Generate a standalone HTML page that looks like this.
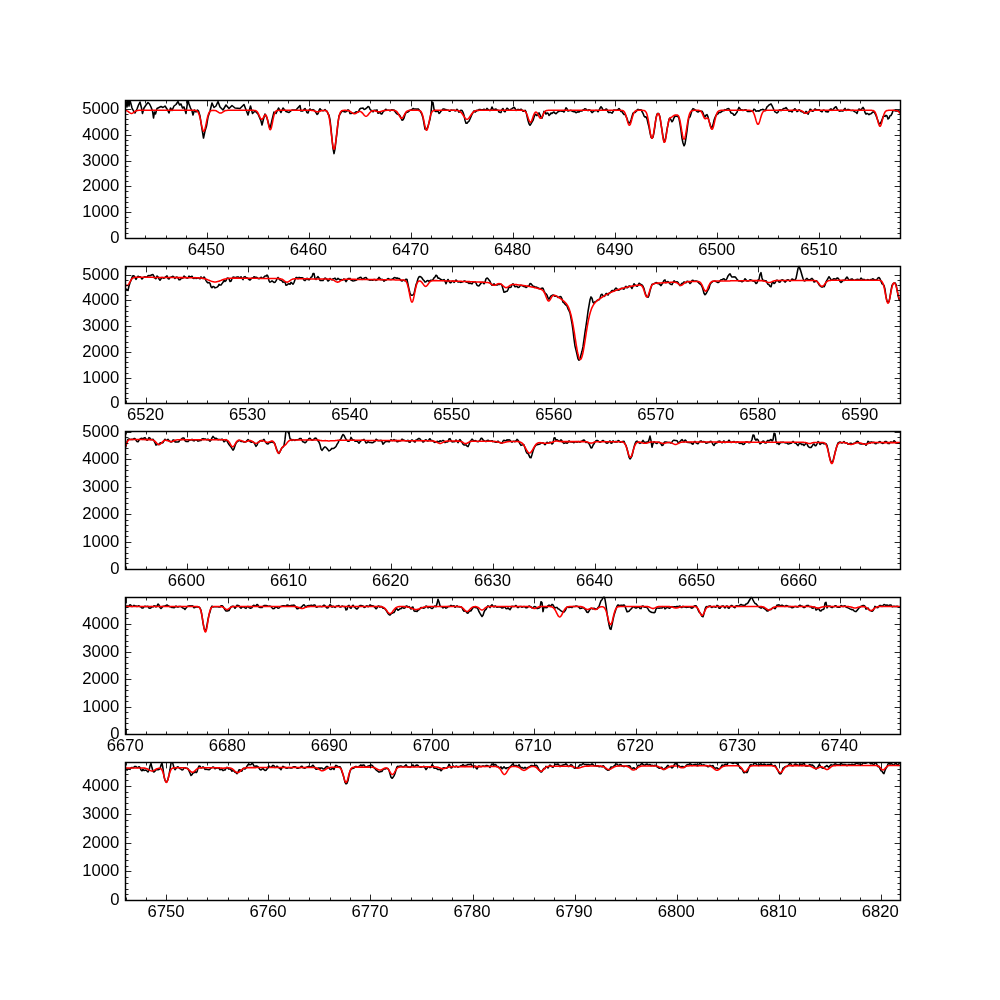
<!DOCTYPE html>
<html><head><meta charset="utf-8"><title>spectrum</title>
<style>html,body{margin:0;padding:0;background:#fff}body{width:1000px;height:1000px;position:relative;overflow:hidden;font-family:"Liberation Sans",sans-serif}</style>
</head><body>
<svg width="1000" height="1000" viewBox="0 0 1000 1000" style="position:absolute;left:0;top:0;will-change:transform">
<defs>
<clipPath id="c0"><rect x="125.00" y="100.00" width="775.00" height="137.93"/></clipPath>
<clipPath id="c1"><rect x="125.00" y="265.52" width="775.00" height="137.93"/></clipPath>
<clipPath id="c2"><rect x="125.00" y="431.03" width="775.00" height="137.93"/></clipPath>
<clipPath id="c3"><rect x="125.00" y="596.55" width="775.00" height="137.93"/></clipPath>
<clipPath id="c4"><rect x="125.00" y="762.07" width="775.00" height="137.93"/></clipPath>
</defs>
<g clip-path="url(#c0)" fill="none" stroke-linejoin="round" stroke-width="1.55">
<path d="M125.0 108.0 L126.0 101.0 L127.0 107.0 L128.0 100.0 L129.0 106.0 L130.0 100.5 L131.0 104.0 L132.0 108.0 L133.5 111.0 L135.0 113.0 L137.0 109.0 L138.5 105.0 L140.0 102.0 L141.5 108.0 L142.5 113.5 L144.0 108.0 L146.0 105.0 L148.0 102.5 L149.5 104.0 L151.0 107.0 L152.5 111.0 L153.5 118.0 L154.5 112.0 L155.5 114.0 L157.0 108.5 L159.0 107.5 L161.0 106.5 L163.0 107.5 L165.0 106.0 L167.0 109.0 L169.0 113.0 L170.5 108.0 L172.0 110.5 L174.0 106.0 L176.0 104.5 L178.0 101.5 L179.5 105.0 L181.0 104.0 L182.5 108.0 L184.0 107.0 L186.0 113.5 L187.0 106.0 L188.0 100.0 L189.0 104.0 L190.5 108.0 L192.0 111.0 L193.0 115.0 L194.5 110.0 L196.0 112.0 L197.5 110.0 L198.5 111.0 L200.0 116.0 L201.5 126.0 L203.5 138.0 L205.0 131.0 L206.5 126.0 L208.0 117.0 L210.0 111.0 L212.0 103.0 L214.0 107.5 L216.0 106.0 L218.0 101.5 L220.0 107.0 L223.0 110.0 L226.0 105.0 L229.0 108.5 L232.0 105.5 L235.0 108.0 L240.0 108.5 L244.0 104.5 L248.0 115.0 L250.5 106.0 L252.5 113.5 L255.0 111.0 L258.0 114.0 L261.0 121.0 L262.0 125.0 L263.5 119.0 L265.0 114.0 L267.0 118.0 L270.0 129.0 L272.0 120.0 L274.0 112.0 L276.0 113.5 L278.5 108.0 L281.0 112.5 L283.0 108.0 L286.0 111.5 L289.0 112.5 L292.0 110.0 L296.0 110.0 L300.0 105.5 L301.0 111.1 L302.0 110.9 L303.0 110.9 L304.0 109.4 L305.0 108.5 L306.0 110.3 L307.0 112.6 L308.0 113.0 L309.0 110.3 L310.0 108.9 L311.0 110.1 L312.0 110.0 L313.0 109.6 L314.0 110.1 L315.0 111.3 L316.0 112.6 L317.0 114.5 L318.0 113.7 L319.0 110.5 L320.0 108.7 L321.0 109.9 L322.0 110.4 L323.0 110.7 L324.0 110.5 L325.0 109.6 L326.0 110.8 L327.0 111.2 L328.0 113.8 L329.0 115.3 L330.0 119.6 L331.0 128.5 L332.0 139.0 L333.0 148.3 L334.0 153.6 L335.0 148.9 L336.0 140.4 L337.0 132.4 L338.0 122.8 L339.0 116.0 L340.0 114.2 L341.0 112.5 L342.0 110.9 L343.0 111.4 L344.0 111.6 L345.0 111.9 L346.0 111.7 L347.0 111.0 L348.0 109.8 L349.0 110.5 L350.0 113.5 L351.0 113.5 L352.0 113.3 L353.0 113.3 L354.0 113.3 L355.0 112.6 L356.0 111.8 L357.0 112.1 L358.0 112.2 L359.0 110.5 L360.0 108.7 L361.0 108.3 L362.0 108.2 L363.0 108.0 L364.0 109.4 L365.0 109.2 L366.0 108.5 L367.0 107.7 L368.0 106.5 L369.0 106.9 L370.0 109.3 L371.0 110.3 L372.0 110.6 L373.0 111.9 L374.0 110.2 L375.0 110.2 L376.0 110.2 L377.0 109.9 L378.0 113.3 L379.0 113.1 L380.0 112.0 L381.0 113.9 L382.0 113.9 L383.0 112.0 L384.0 110.9 L385.0 110.0 L386.0 109.2 L387.0 110.2 L388.0 110.2 L389.0 110.2 L390.0 110.9 L391.0 110.1 L392.0 109.8 L393.0 110.1 L394.0 110.0 L395.0 111.5 L396.0 112.9 L397.0 113.8 L398.0 114.4 L399.0 114.6 L400.0 115.8 L401.0 117.9 L402.0 120.2 L403.0 119.8 L404.0 118.0 L405.0 114.7 L406.0 112.6 L407.0 112.3 L408.0 112.0 L409.0 111.1 L410.0 110.2 L411.0 110.1 L412.0 109.5 L413.0 108.5 L414.0 109.0 L415.0 109.1 L416.0 109.0 L417.0 109.3 L418.0 108.9 L419.0 109.6 L420.0 110.9 L421.0 112.5 L422.0 114.8 L423.0 117.9 L424.0 123.6 L425.0 129.1 L426.0 129.4 L427.0 128.6 L428.0 126.4 L429.0 122.7 L430.0 119.3 L431.0 112.6 L432.0 101.9 L433.0 102.7 L434.0 109.2 L435.0 111.0 L436.0 111.6 L437.0 111.2 L438.0 111.3 L439.0 113.5 L440.0 112.6 L441.0 111.0 L442.0 110.3 L443.0 109.0 L444.0 109.1 L445.0 109.4 L446.0 109.5 L447.0 110.3 L448.0 110.0 L449.0 110.9 L450.0 111.2 L451.0 110.1 L452.0 110.3 L453.0 110.2 L454.0 110.2 L455.0 110.9 L456.0 110.6 L457.0 109.3 L458.0 110.4 L459.0 112.3 L460.0 111.1 L461.0 110.2 L462.0 110.4 L463.0 112.3 L464.0 115.2 L465.0 120.2 L466.0 123.3 L467.0 123.3 L468.0 122.0 L469.0 121.2 L470.0 119.0 L471.0 116.6 L472.0 114.3 L473.0 112.7 L474.0 110.8 L475.0 112.1 L476.0 111.4 L477.0 110.3 L478.0 110.6 L479.0 109.5 L480.0 109.4 L481.0 109.9 L482.0 109.7 L483.0 109.7 L484.0 109.3 L485.0 109.7 L486.0 109.9 L487.0 108.4 L488.0 109.5 L489.0 110.2 L490.0 110.6 L491.0 109.5 L492.0 107.0 L493.0 109.1 L494.0 110.0 L495.0 109.2 L496.0 109.1 L497.0 109.9 L498.0 110.2 L499.0 112.0 L500.0 112.4 L501.0 112.5 L502.0 109.6 L503.0 108.6 L504.0 111.1 L505.0 111.8 L506.0 109.8 L507.0 108.2 L508.0 108.9 L509.0 110.2 L510.0 110.0 L511.0 109.2 L512.0 108.6 L513.0 107.9 L514.0 107.4 L515.0 108.4 L516.0 110.4 L517.0 110.1 L518.0 109.4 L519.0 109.6 L520.0 109.7 L521.0 109.2 L522.0 110.1 L523.0 111.1 L524.0 111.1 L525.0 110.3 L526.0 111.7 L527.0 116.1 L528.0 120.6 L529.0 123.8 L530.0 125.3 L531.0 123.9 L532.0 122.0 L533.0 120.4 L534.0 117.3 L535.0 114.3 L536.0 114.8 L537.0 115.6 L538.0 114.1 L539.0 112.9 L540.0 114.8 L541.0 117.1 L542.0 118.1 L543.0 115.2 L544.0 111.4 L545.0 112.1 L546.0 114.1 L547.0 112.9 L548.0 113.3 L549.0 115.5 L550.0 114.5 L551.0 113.0 L552.0 113.5 L553.0 112.5 L554.0 112.0 L555.0 113.3 L556.0 113.7 L557.0 112.7 L558.0 111.7 L559.0 111.4 L560.0 110.9 L561.0 110.9 L562.0 111.2 L563.0 111.3 L564.0 112.0 L565.0 110.2 L566.0 107.7 L567.0 108.8 L568.0 111.1 L569.0 110.7 L570.0 110.6 L571.0 110.3 L572.0 111.1 L573.0 111.5 L574.0 111.8 L575.0 111.8 L576.0 112.7 L577.0 112.3 L578.0 111.7 L579.0 112.1 L580.0 110.9 L581.0 110.8 L582.0 111.0 L583.0 109.9 L584.0 109.4 L585.0 108.7 L586.0 109.1 L587.0 110.3 L588.0 110.6 L589.0 109.7 L590.0 110.1 L591.0 111.3 L592.0 112.6 L593.0 111.9 L594.0 110.8 L595.0 110.8 L596.0 110.4 L597.0 110.5 L598.0 111.8 L599.0 110.4 L600.0 108.2 L601.0 106.7 L602.0 107.9 L603.0 110.1 L604.0 110.0 L605.0 109.9 L606.0 109.0 L607.0 109.5 L608.0 111.9 L609.0 112.7 L610.0 112.1 L611.0 112.6 L612.0 113.2 L613.0 111.8 L614.0 109.9 L615.0 110.0 L616.0 110.4 L617.0 109.9 L618.0 109.6 L619.0 108.5 L620.0 109.8 L621.0 111.5 L622.0 111.5 L623.0 113.3 L624.0 114.5 L625.0 114.4 L626.0 116.1 L627.0 118.6 L628.0 121.8 L629.0 123.2 L630.0 122.6 L631.0 120.0 L632.0 116.5 L633.0 113.2 L634.0 112.6 L635.0 112.5 L636.0 111.4 L637.0 110.2 L638.0 109.3 L639.0 110.0 L640.0 109.7 L641.0 109.7 L642.0 111.5 L643.0 113.3 L644.0 115.9 L645.0 117.1 L646.0 116.8 L647.0 118.9 L648.0 123.2 L649.0 127.1 L650.0 132.7 L651.0 137.2 L652.0 138.3 L653.0 137.0 L654.0 132.4 L655.0 125.7 L656.0 117.9 L657.0 114.1 L658.0 113.4 L659.0 114.0 L660.0 117.3 L661.0 124.1 L662.0 130.2 L663.0 136.6 L664.0 141.8 L665.0 141.2 L666.0 135.9 L667.0 129.3 L668.0 124.6 L669.0 119.3 L670.0 118.0 L671.0 119.9 L672.0 121.8 L673.0 120.6 L674.0 117.8 L675.0 116.3 L676.0 116.0 L677.0 116.4 L678.0 116.1 L679.0 118.5 L680.0 123.9 L681.0 130.4 L682.0 138.3 L683.0 143.0 L684.0 145.8 L685.0 143.8 L686.0 137.8 L687.0 130.9 L688.0 122.4 L689.0 117.2 L690.0 117.0 L691.0 113.7 L692.0 110.2 L693.0 108.6 L694.0 109.1 L695.0 110.0 L696.0 110.5 L697.0 111.6 L698.0 112.0 L699.0 111.3 L700.0 111.0 L701.0 111.2 L702.0 111.2 L703.0 113.0 L704.0 115.7 L705.0 117.0 L706.0 115.2 L707.0 114.6 L708.0 116.9 L709.0 120.9 L710.0 124.2 L711.0 127.8 L712.0 127.4 L713.0 124.8 L714.0 120.3 L715.0 117.6 L716.0 115.4 L717.0 114.4 L718.0 113.8 L719.0 112.2 L720.0 112.6 L721.0 112.0 L722.0 111.3 L723.0 110.5 L724.0 110.8 L725.0 109.6 L726.0 110.0 L727.0 109.0 L728.0 108.6 L729.0 108.8 L730.0 110.8 L731.0 112.9 L732.0 113.2 L733.0 113.7 L734.0 115.2 L735.0 114.9 L736.0 113.5 L737.0 112.3 L738.0 109.6 L739.0 107.4 L740.0 108.8 L741.0 110.2 L742.0 109.8 L743.0 110.5 L744.0 110.1 L745.0 109.7 L746.0 109.7 L747.0 111.0 L748.0 111.6 L749.0 111.5 L750.0 111.5 L751.0 111.3 L752.0 111.0 L753.0 110.9 L754.0 109.1 L755.0 109.6 L756.0 111.3 L757.0 111.0 L758.0 110.8 L759.0 111.2 L760.0 110.5 L761.0 109.7 L762.0 109.7 L763.0 109.3 L764.0 109.9 L765.0 110.8 L766.0 109.3 L767.0 106.9 L768.0 106.1 L769.0 104.9 L770.0 104.6 L771.0 103.9 L772.0 105.6 L773.0 107.8 L774.0 110.1 L775.0 111.8 L776.0 112.4 L777.0 113.0 L778.0 112.1 L779.0 110.1 L780.0 109.7 L781.0 110.6 L782.0 109.8 L783.0 109.0 L784.0 108.4 L785.0 108.3 L786.0 107.5 L787.0 108.8 L788.0 110.0 L789.0 111.4 L790.0 110.7 L791.0 111.2 L792.0 112.0 L793.0 110.3 L794.0 109.5 L795.0 108.7 L796.0 110.0 L797.0 111.6 L798.0 111.0 L799.0 109.7 L800.0 110.3 L801.0 111.4 L802.0 111.7 L803.0 112.0 L804.0 113.1 L805.0 112.9 L806.0 111.4 L807.0 112.1 L808.0 114.3 L809.0 112.2 L810.0 109.3 L811.0 109.6 L812.0 111.1 L813.0 111.1 L814.0 110.3 L815.0 108.9 L816.0 109.5 L817.0 109.7 L818.0 109.9 L819.0 109.7 L820.0 110.4 L821.0 111.4 L822.0 111.9 L823.0 110.3 L824.0 110.1 L825.0 110.6 L826.0 111.8 L827.0 111.7 L828.0 112.0 L829.0 110.6 L830.0 109.5 L831.0 108.8 L832.0 110.4 L833.0 109.6 L834.0 108.4 L835.0 107.4 L836.0 106.7 L837.0 108.7 L838.0 110.1 L839.0 110.8 L840.0 111.3 L841.0 110.3 L842.0 111.0 L843.0 111.0 L844.0 109.5 L845.0 108.4 L846.0 110.4 L847.0 110.1 L848.0 109.4 L849.0 109.5 L850.0 110.3 L851.0 110.5 L852.0 110.5 L853.0 110.2 L854.0 111.3 L855.0 111.9 L856.0 112.3 L857.0 113.4 L858.0 110.6 L859.0 109.0 L860.0 109.4 L861.0 110.3 L862.0 108.6 L863.0 107.4 L864.0 109.0 L865.0 112.5 L866.0 114.2 L867.0 113.4 L868.0 113.9 L869.0 114.7 L870.0 114.0 L871.0 113.8 L872.0 112.8 L873.0 111.9 L874.0 111.8 L875.0 113.4 L876.0 115.5 L877.0 118.2 L878.0 120.9 L879.0 123.6 L880.0 123.9 L881.0 122.2 L882.0 119.9 L883.0 116.9 L884.0 116.0 L885.0 116.4 L886.0 115.3 L887.0 115.9 L888.0 119.0 L889.0 118.1 L890.0 115.7 L891.0 115.5 L892.0 113.7 L893.0 110.5 L894.0 110.5 L895.0 110.7 L896.0 111.0 L897.0 110.9 L898.0 110.8 L899.0 111.2 L900.0 111.0" stroke="#000"/>
<path d="M125.0 110.4 L125.5 110.4 L126.0 110.5 L126.5 110.7 L127.0 110.9 L127.5 111.1 L128.0 111.4 L128.5 111.8 L129.0 112.2 L129.5 112.6 L130.0 112.9 L130.5 113.2 L131.0 113.4 L131.5 113.5 L132.0 113.4 L132.5 113.2 L133.0 112.9 L133.5 112.6 L134.0 112.2 L134.5 111.8 L135.0 111.4 L135.5 111.1 L136.0 110.9 L136.5 110.7 L137.0 110.5 L137.5 110.4 L138.0 110.4 L138.5 110.3 L139.0 110.3 L139.5 110.3 L140.0 110.3 L140.5 110.3 L141.0 110.3 L141.5 110.3 L142.0 110.3 L142.5 110.3 L143.0 110.3 L143.5 110.3 L144.0 110.3 L144.5 110.3 L145.0 110.3 L145.5 110.3 L146.0 110.3 L146.5 110.3 L147.0 110.3 L147.5 110.3 L148.0 110.3 L148.5 110.3 L149.0 110.3 L149.5 110.3 L150.0 110.3 L150.5 110.3 L151.0 110.3 L151.5 110.3 L152.0 110.3 L152.5 110.3 L153.0 110.3 L153.5 110.3 L154.0 110.3 L154.5 110.3 L155.0 110.3 L155.5 110.3 L156.0 110.3 L156.5 110.3 L157.0 110.3 L157.5 110.3 L158.0 110.3 L158.5 110.3 L159.0 110.3 L159.5 110.3 L160.0 110.3 L160.5 110.3 L161.0 110.3 L161.5 110.3 L162.0 110.3 L162.5 110.3 L163.0 110.3 L163.5 110.3 L164.0 110.3 L164.5 110.3 L165.0 110.3 L165.5 110.3 L166.0 110.3 L166.5 110.3 L167.0 110.3 L167.5 110.3 L168.0 110.3 L168.5 110.3 L169.0 110.3 L169.5 110.3 L170.0 110.3 L170.5 110.3 L171.0 110.3 L171.5 110.3 L172.0 110.3 L172.5 110.3 L173.0 110.3 L173.5 110.3 L174.0 110.3 L174.5 110.3 L175.0 110.3 L175.5 110.3 L176.0 110.3 L176.5 110.3 L177.0 110.3 L177.5 110.3 L178.0 110.3 L178.5 110.3 L179.0 110.3 L179.5 110.3 L180.0 110.3 L180.5 110.3 L181.0 110.3 L181.5 110.3 L182.0 110.3 L182.5 110.3 L183.0 110.3 L183.5 110.3 L184.0 110.3 L184.5 110.3 L185.0 110.3 L185.5 110.3 L186.0 110.3 L186.5 110.3 L187.0 110.3 L187.5 110.3 L188.0 110.3 L188.5 110.3 L189.0 110.3 L189.5 110.3 L190.0 110.3 L190.5 110.3 L191.0 110.3 L191.5 110.3 L192.0 110.3 L192.5 110.3 L193.0 110.3 L193.5 110.3 L194.0 110.3 L194.5 110.3 L195.0 110.4 L195.5 110.4 L196.0 110.5 L196.5 110.7 L197.0 111.0 L197.5 111.4 L198.0 112.1 L198.5 113.0 L199.0 114.2 L199.5 115.8 L200.0 117.7 L200.5 119.9 L201.0 122.3 L201.5 124.8 L202.0 127.1 L202.5 129.1 L203.0 130.5 L203.5 131.2 L204.0 131.2 L204.5 130.3 L205.0 128.8 L205.5 126.7 L206.0 124.3 L206.5 121.8 L207.0 119.4 L207.5 117.3 L208.0 115.4 L208.5 113.9 L209.0 112.8 L209.5 111.9 L210.0 111.3 L210.5 110.9 L211.0 110.7 L211.5 110.5 L212.0 110.4 L212.5 110.4 L213.0 110.3 L213.5 110.4 L214.0 110.4 L214.5 110.4 L215.0 110.5 L215.5 110.6 L216.0 110.8 L216.5 111.0 L217.0 111.3 L217.5 111.6 L218.0 111.9 L218.5 112.3 L219.0 112.6 L219.5 112.9 L220.0 113.0 L220.5 113.1 L221.0 113.0 L221.5 112.9 L222.0 112.6 L222.5 112.3 L223.0 111.9 L223.5 111.6 L224.0 111.3 L224.5 111.0 L225.0 110.8 L225.5 110.6 L226.0 110.5 L226.5 110.4 L227.0 110.4 L227.5 110.3 L228.0 110.3 L228.5 110.3 L229.0 110.3 L229.5 110.3 L230.0 110.3 L230.5 110.3 L231.0 110.3 L231.5 110.3 L232.0 110.3 L232.5 110.3 L233.0 110.3 L233.5 110.3 L234.0 110.3 L234.5 110.3 L235.0 110.3 L235.5 110.3 L236.0 110.3 L236.5 110.3 L237.0 110.3 L237.5 110.3 L238.0 110.3 L238.5 110.3 L239.0 110.3 L239.5 110.3 L240.0 110.3 L240.5 110.3 L241.0 110.3 L241.5 110.3 L242.0 110.3 L242.5 110.3 L243.0 110.3 L243.5 110.3 L244.0 110.3 L244.5 110.3 L245.0 110.3 L245.5 110.3 L246.0 110.3 L246.5 110.3 L247.0 110.3 L247.5 110.3 L248.0 110.3 L248.5 110.3 L249.0 110.3 L249.5 110.3 L250.0 110.3 L250.5 110.3 L251.0 110.3 L251.5 110.3 L252.0 110.3 L252.5 110.3 L253.0 110.3 L253.5 110.3 L254.0 110.4 L254.5 110.4 L255.0 110.5 L255.5 110.6 L256.0 110.8 L256.5 111.2 L257.0 111.6 L257.5 112.2 L258.0 113.0 L258.5 114.0 L259.0 115.1 L259.5 116.2 L260.0 117.3 L260.5 118.2 L261.0 118.9 L261.5 119.3 L262.0 119.3 L262.5 118.9 L263.0 118.2 L263.5 117.3 L264.0 116.4 L264.5 115.5 L265.0 115.0 L265.5 114.8 L266.0 115.2 L266.5 116.1 L267.0 117.7 L267.5 119.7 L268.0 122.1 L268.5 124.6 L269.0 126.9 L269.5 128.6 L270.0 129.6 L270.5 129.7 L271.0 128.9 L271.5 127.2 L272.0 124.9 L272.5 122.3 L273.0 119.7 L273.5 117.3 L274.0 115.3 L274.5 113.7 L275.0 112.5 L275.5 111.6 L276.0 111.1 L276.5 110.7 L277.0 110.5 L277.5 110.4 L278.0 110.4 L278.5 110.3 L279.0 110.3 L279.5 110.3 L280.0 110.3 L280.5 110.3 L281.0 110.3 L281.5 110.3 L282.0 110.3 L282.5 110.3 L283.0 110.3 L283.5 110.3 L284.0 110.3 L284.5 110.3 L285.0 110.3 L285.5 110.3 L286.0 110.3 L286.5 110.3 L287.0 110.3 L287.5 110.3 L288.0 110.3 L288.5 110.3 L289.0 110.3 L289.5 110.3 L290.0 110.3 L290.5 110.3 L291.0 110.3 L291.5 110.3 L292.0 110.3 L292.5 110.3 L293.0 110.3 L293.5 110.3 L294.0 110.3 L294.5 110.3 L295.0 110.3 L295.5 110.3 L296.0 110.3 L296.5 110.3 L297.0 110.3 L297.5 110.3 L298.0 110.3 L298.5 110.3 L299.0 110.3 L299.5 110.3 L300.0 110.3 L300.5 110.3 L301.0 110.3 L301.5 110.3 L302.0 110.3 L302.5 110.3 L303.0 110.3 L303.5 110.3 L304.0 110.3 L304.5 110.3 L305.0 110.3 L305.5 110.3 L306.0 110.3 L306.5 110.3 L307.0 110.3 L307.5 110.3 L308.0 110.3 L308.5 110.3 L309.0 110.3 L309.5 110.3 L310.0 110.3 L310.5 110.3 L311.0 110.3 L311.5 110.4 L312.0 110.4 L312.5 110.5 L313.0 110.6 L313.5 110.7 L314.0 110.8 L314.5 111.0 L315.0 111.2 L315.5 111.4 L316.0 111.5 L316.5 111.7 L317.0 111.8 L317.5 111.8 L318.0 111.8 L318.5 111.7 L319.0 111.5 L319.5 111.4 L320.0 111.2 L320.5 111.0 L321.0 110.8 L321.5 110.7 L322.0 110.6 L322.5 110.5 L323.0 110.4 L323.5 110.4 L324.0 110.4 L324.5 110.4 L325.0 110.4 L325.5 110.5 L326.0 110.7 L326.5 111.0 L327.0 111.5 L327.5 112.2 L328.0 113.2 L328.5 114.8 L329.0 116.8 L329.5 119.4 L330.0 122.7 L330.5 126.5 L331.0 130.7 L331.5 135.2 L332.0 139.6 L332.5 143.5 L333.0 146.6 L333.5 148.6 L334.0 149.3 L334.5 148.6 L335.0 146.6 L335.5 143.5 L336.0 139.6 L336.5 135.2 L337.0 130.7 L337.5 126.5 L338.0 122.7 L338.5 119.4 L339.0 116.8 L339.5 114.8 L340.0 113.2 L340.5 112.2 L341.0 111.5 L341.5 111.0 L342.0 110.7 L342.5 110.5 L343.0 110.4 L343.5 110.4 L344.0 110.3 L344.5 110.3 L345.0 110.3 L345.5 110.3 L346.0 110.3 L346.5 110.4 L347.0 110.4 L347.5 110.5 L348.0 110.5 L348.5 110.7 L349.0 110.8 L349.5 111.0 L350.0 111.3 L350.5 111.6 L351.0 111.9 L351.5 112.3 L352.0 112.6 L352.5 113.0 L353.0 113.3 L353.5 113.6 L354.0 113.7 L354.5 113.8 L355.0 113.7 L355.5 113.6 L356.0 113.3 L356.5 113.0 L357.0 112.7 L357.5 112.3 L358.0 112.0 L358.5 111.7 L359.0 111.5 L359.5 111.4 L360.0 111.4 L360.5 111.5 L361.0 111.8 L361.5 112.1 L362.0 112.6 L362.5 113.1 L363.0 113.7 L363.5 114.3 L364.0 115.0 L364.5 115.5 L365.0 115.9 L365.5 116.2 L366.0 116.3 L366.5 116.2 L367.0 115.9 L367.5 115.5 L368.0 114.9 L368.5 114.3 L369.0 113.7 L369.5 113.1 L370.0 112.5 L370.5 112.0 L371.0 111.5 L371.5 111.2 L372.0 111.0 L372.5 110.8 L373.0 110.7 L373.5 110.7 L374.0 110.7 L374.5 110.8 L375.0 110.9 L375.5 111.0 L376.0 111.2 L376.5 111.3 L377.0 111.5 L377.5 111.6 L378.0 111.7 L378.5 111.8 L379.0 111.8 L379.5 111.8 L380.0 111.7 L380.5 111.6 L381.0 111.5 L381.5 111.3 L382.0 111.1 L382.5 111.0 L383.0 110.8 L383.5 110.7 L384.0 110.6 L384.5 110.5 L385.0 110.5 L385.5 110.4 L386.0 110.4 L386.5 110.3 L387.0 110.3 L387.5 110.3 L388.0 110.3 L388.5 110.3 L389.0 110.3 L389.5 110.3 L390.0 110.3 L390.5 110.3 L391.0 110.3 L391.5 110.3 L392.0 110.3 L392.5 110.3 L393.0 110.3 L393.5 110.4 L394.0 110.4 L394.5 110.5 L395.0 110.6 L395.5 110.8 L396.0 111.0 L396.5 111.4 L397.0 111.9 L397.5 112.5 L398.0 113.3 L398.5 114.1 L399.0 115.1 L399.5 116.0 L400.0 116.9 L400.5 117.6 L401.0 118.1 L401.5 118.3 L402.0 118.2 L402.5 117.8 L403.0 117.2 L403.5 116.4 L404.0 115.5 L404.5 114.5 L405.0 113.6 L405.5 112.8 L406.0 112.1 L406.5 111.6 L407.0 111.2 L407.5 110.9 L408.0 110.7 L408.5 110.5 L409.0 110.4 L409.5 110.4 L410.0 110.3 L410.5 110.3 L411.0 110.3 L411.5 110.3 L412.0 110.3 L412.5 110.3 L413.0 110.3 L413.5 110.3 L414.0 110.3 L414.5 110.3 L415.0 110.3 L415.5 110.3 L416.0 110.3 L416.5 110.3 L417.0 110.3 L417.5 110.3 L418.0 110.3 L418.5 110.4 L419.0 110.4 L419.5 110.6 L420.0 110.8 L420.5 111.1 L421.0 111.6 L421.5 112.4 L422.0 113.5 L422.5 114.9 L423.0 116.8 L423.5 119.0 L424.0 121.4 L424.5 123.9 L425.0 126.3 L425.5 128.3 L426.0 129.7 L426.5 130.3 L427.0 130.0 L427.5 128.9 L428.0 127.2 L428.5 124.9 L429.0 122.4 L429.5 119.9 L430.0 117.6 L430.5 115.6 L431.0 114.0 L431.5 112.8 L432.0 111.9 L432.5 111.3 L433.0 110.9 L433.5 110.6 L434.0 110.5 L434.5 110.4 L435.0 110.3 L435.5 110.3 L436.0 110.3 L436.5 110.3 L437.0 110.3 L437.5 110.3 L438.0 110.3 L438.5 110.3 L439.0 110.3 L439.5 110.3 L440.0 110.3 L440.5 110.3 L441.0 110.3 L441.5 110.3 L442.0 110.3 L442.5 110.3 L443.0 110.3 L443.5 110.3 L444.0 110.3 L444.5 110.3 L445.0 110.3 L445.5 110.3 L446.0 110.3 L446.5 110.3 L447.0 110.3 L447.5 110.3 L448.0 110.3 L448.5 110.3 L449.0 110.3 L449.5 110.3 L450.0 110.3 L450.5 110.3 L451.0 110.3 L451.5 110.3 L452.0 110.3 L452.5 110.3 L453.0 110.3 L453.5 110.3 L454.0 110.3 L454.5 110.3 L455.0 110.3 L455.5 110.3 L456.0 110.4 L456.5 110.4 L457.0 110.5 L457.5 110.5 L458.0 110.6 L458.5 110.8 L459.0 111.0 L459.5 111.2 L460.0 111.5 L460.5 111.9 L461.0 112.4 L461.5 112.9 L462.0 113.5 L462.5 114.2 L463.0 115.0 L463.5 115.8 L464.0 116.5 L464.5 117.3 L465.0 117.9 L465.5 118.5 L466.0 118.9 L466.5 119.2 L467.0 119.3 L467.5 119.2 L468.0 118.9 L468.5 118.5 L469.0 117.9 L469.5 117.3 L470.0 116.5 L470.5 115.8 L471.0 115.0 L471.5 114.2 L472.0 113.5 L472.5 112.9 L473.0 112.4 L473.5 111.9 L474.0 111.5 L474.5 111.2 L475.0 111.0 L475.5 110.8 L476.0 110.6 L476.5 110.5 L477.0 110.5 L477.5 110.4 L478.0 110.4 L478.5 110.3 L479.0 110.3 L479.5 110.3 L480.0 110.3 L480.5 110.3 L481.0 110.3 L481.5 110.3 L482.0 110.3 L482.5 110.3 L483.0 110.3 L483.5 110.3 L484.0 110.3 L484.5 110.3 L485.0 110.3 L485.5 110.3 L486.0 110.3 L486.5 110.3 L487.0 110.3 L487.5 110.3 L488.0 110.3 L488.5 110.3 L489.0 110.3 L489.5 110.3 L490.0 110.3 L490.5 110.3 L491.0 110.3 L491.5 110.3 L492.0 110.3 L492.5 110.3 L493.0 110.3 L493.5 110.3 L494.0 110.3 L494.5 110.3 L495.0 110.3 L495.5 110.3 L496.0 110.3 L496.5 110.3 L497.0 110.3 L497.5 110.3 L498.0 110.3 L498.5 110.3 L499.0 110.3 L499.5 110.3 L500.0 110.3 L500.5 110.3 L501.0 110.3 L501.5 110.3 L502.0 110.3 L502.5 110.3 L503.0 110.3 L503.5 110.3 L504.0 110.3 L504.5 110.3 L505.0 110.3 L505.5 110.3 L506.0 110.3 L506.5 110.3 L507.0 110.3 L507.5 110.3 L508.0 110.3 L508.5 110.3 L509.0 110.3 L509.5 110.3 L510.0 110.3 L510.5 110.3 L511.0 110.3 L511.5 110.3 L512.0 110.3 L512.5 110.3 L513.0 110.3 L513.5 110.3 L514.0 110.3 L514.5 110.3 L515.0 110.3 L515.5 110.3 L516.0 110.3 L516.5 110.3 L517.0 110.3 L517.5 110.3 L518.0 110.3 L518.5 110.3 L519.0 110.3 L519.5 110.3 L520.0 110.3 L520.5 110.3 L521.0 110.3 L521.5 110.3 L522.0 110.3 L522.5 110.4 L523.0 110.4 L523.5 110.5 L524.0 110.6 L524.5 110.9 L525.0 111.3 L525.5 111.8 L526.0 112.5 L526.5 113.5 L527.0 114.7 L527.5 116.1 L528.0 117.6 L528.5 119.1 L529.0 120.4 L529.5 121.5 L530.0 122.1 L530.5 122.3 L531.0 121.9 L531.5 121.1 L532.0 119.9 L532.5 118.5 L533.0 117.0 L533.5 115.6 L534.0 114.3 L534.5 113.3 L535.0 112.6 L535.5 112.2 L536.0 112.1 L536.5 112.3 L537.0 112.8 L537.5 113.5 L538.0 114.5 L538.5 115.5 L539.0 116.5 L539.5 117.4 L540.0 118.0 L540.5 118.3 L541.0 118.2 L541.5 117.7 L542.0 116.9 L542.5 115.9 L543.0 114.8 L543.5 113.8 L544.0 112.8 L544.5 112.1 L545.0 111.5 L545.5 111.0 L546.0 110.7 L546.5 110.5 L547.0 110.4 L547.5 110.4 L548.0 110.3 L548.5 110.3 L549.0 110.3 L549.5 110.3 L550.0 110.3 L550.5 110.3 L551.0 110.3 L551.5 110.3 L552.0 110.3 L552.5 110.3 L553.0 110.3 L553.5 110.3 L554.0 110.3 L554.5 110.3 L555.0 110.3 L555.5 110.3 L556.0 110.3 L556.5 110.3 L557.0 110.3 L557.5 110.3 L558.0 110.3 L558.5 110.3 L559.0 110.3 L559.5 110.3 L560.0 110.3 L560.5 110.3 L561.0 110.3 L561.5 110.3 L562.0 110.3 L562.5 110.3 L563.0 110.3 L563.5 110.3 L564.0 110.3 L564.5 110.3 L565.0 110.3 L565.5 110.3 L566.0 110.3 L566.5 110.3 L567.0 110.3 L567.5 110.3 L568.0 110.3 L568.5 110.3 L569.0 110.3 L569.5 110.3 L570.0 110.3 L570.5 110.3 L571.0 110.3 L571.5 110.3 L572.0 110.3 L572.5 110.3 L573.0 110.3 L573.5 110.3 L574.0 110.3 L574.5 110.3 L575.0 110.3 L575.5 110.3 L576.0 110.3 L576.5 110.3 L577.0 110.3 L577.5 110.3 L578.0 110.3 L578.5 110.3 L579.0 110.3 L579.5 110.3 L580.0 110.3 L580.5 110.3 L581.0 110.3 L581.5 110.3 L582.0 110.3 L582.5 110.3 L583.0 110.3 L583.5 110.3 L584.0 110.3 L584.5 110.3 L585.0 110.3 L585.5 110.3 L586.0 110.3 L586.5 110.3 L587.0 110.3 L587.5 110.3 L588.0 110.3 L588.5 110.3 L589.0 110.3 L589.5 110.3 L590.0 110.3 L590.5 110.3 L591.0 110.3 L591.5 110.3 L592.0 110.3 L592.5 110.3 L593.0 110.3 L593.5 110.3 L594.0 110.3 L594.5 110.3 L595.0 110.3 L595.5 110.3 L596.0 110.3 L596.5 110.3 L597.0 110.3 L597.5 110.3 L598.0 110.3 L598.5 110.3 L599.0 110.3 L599.5 110.3 L600.0 110.3 L600.5 110.3 L601.0 110.3 L601.5 110.3 L602.0 110.3 L602.5 110.3 L603.0 110.3 L603.5 110.3 L604.0 110.3 L604.5 110.3 L605.0 110.3 L605.5 110.3 L606.0 110.3 L606.5 110.3 L607.0 110.3 L607.5 110.3 L608.0 110.3 L608.5 110.3 L609.0 110.3 L609.5 110.3 L610.0 110.3 L610.5 110.3 L611.0 110.3 L611.5 110.3 L612.0 110.3 L612.5 110.3 L613.0 110.3 L613.5 110.3 L614.0 110.3 L614.5 110.3 L615.0 110.3 L615.5 110.3 L616.0 110.3 L616.5 110.3 L617.0 110.3 L617.5 110.3 L618.0 110.3 L618.5 110.3 L619.0 110.3 L619.5 110.3 L620.0 110.3 L620.5 110.3 L621.0 110.3 L621.5 110.4 L622.0 110.4 L622.5 110.5 L623.0 110.7 L623.5 111.0 L624.0 111.5 L624.5 112.2 L625.0 113.1 L625.5 114.3 L626.0 115.8 L626.5 117.5 L627.0 119.4 L627.5 121.3 L628.0 123.0 L628.5 124.3 L629.0 125.1 L629.5 125.3 L630.0 124.8 L630.5 123.8 L631.0 122.3 L631.5 120.5 L632.0 118.6 L632.5 116.8 L633.0 115.2 L633.5 113.8 L634.0 112.7 L634.5 111.9 L635.0 111.3 L635.5 110.9 L636.0 110.6 L636.5 110.5 L637.0 110.4 L637.5 110.4 L638.0 110.3 L638.5 110.3 L639.0 110.3 L639.5 110.3 L640.0 110.3 L640.5 110.3 L641.0 110.3 L641.5 110.3 L642.0 110.3 L642.5 110.3 L643.0 110.4 L643.5 110.4 L644.0 110.5 L644.5 110.7 L645.0 111.0 L645.5 111.4 L646.0 112.1 L646.5 113.1 L647.0 114.5 L647.5 116.3 L648.0 118.6 L648.5 121.3 L649.0 124.4 L649.5 127.7 L650.0 130.9 L650.5 133.9 L651.0 136.2 L651.5 137.8 L652.0 138.3 L652.5 137.8 L653.0 136.2 L653.5 133.9 L654.0 130.9 L654.5 127.7 L655.0 124.4 L655.5 121.4 L656.0 118.7 L656.5 116.5 L657.0 114.9 L657.5 113.9 L658.0 113.5 L658.5 113.7 L659.0 114.4 L659.5 115.8 L660.0 117.8 L660.5 120.4 L661.0 123.6 L661.5 127.2 L662.0 130.9 L662.5 134.6 L663.0 137.9 L663.5 140.4 L664.0 141.9 L664.5 142.3 L665.0 141.5 L665.5 139.7 L666.0 137.0 L666.5 133.7 L667.0 130.3 L667.5 127.0 L668.0 124.1 L668.5 121.7 L669.0 120.0 L669.5 118.8 L670.0 118.1 L670.5 117.7 L671.0 117.4 L671.5 117.2 L672.0 116.9 L672.5 116.6 L673.0 116.2 L673.5 115.8 L674.0 115.5 L674.5 115.3 L675.0 115.1 L675.5 115.1 L676.0 115.0 L676.5 115.0 L677.0 115.0 L677.5 115.1 L678.0 115.4 L678.5 116.0 L679.0 117.1 L679.5 118.7 L680.0 120.8 L680.5 123.4 L681.0 126.3 L681.5 129.4 L682.0 132.5 L682.5 135.2 L683.0 137.4 L683.5 138.8 L684.0 139.3 L684.5 138.8 L685.0 137.4 L685.5 135.2 L686.0 132.4 L686.5 129.3 L687.0 126.1 L687.5 123.0 L688.0 120.1 L688.5 117.7 L689.0 115.7 L689.5 114.1 L690.0 112.8 L690.5 112.0 L691.0 111.4 L691.5 110.9 L692.0 110.7 L692.5 110.5 L693.0 110.4 L693.5 110.4 L694.0 110.3 L694.5 110.3 L695.0 110.3 L695.5 110.3 L696.0 110.3 L696.5 110.3 L697.0 110.3 L697.5 110.3 L698.0 110.3 L698.5 110.3 L699.0 110.4 L699.5 110.5 L700.0 110.7 L700.5 110.9 L701.0 111.4 L701.5 112.0 L702.0 112.9 L702.5 114.0 L703.0 115.2 L703.5 116.4 L704.0 117.5 L704.5 118.3 L705.0 118.8 L705.5 118.8 L706.0 118.6 L706.5 118.2 L707.0 118.0 L707.5 118.0 L708.0 118.5 L708.5 119.5 L709.0 120.9 L709.5 122.7 L710.0 124.7 L710.5 126.5 L711.0 128.0 L711.5 129.0 L712.0 129.3 L712.5 128.9 L713.0 127.9 L713.5 126.3 L714.0 124.3 L714.5 122.1 L715.0 119.9 L715.5 117.8 L716.0 115.9 L716.5 114.4 L717.0 113.1 L717.5 112.2 L718.0 111.5 L718.5 111.1 L719.0 110.8 L719.5 110.6 L720.0 110.4 L720.5 110.4 L721.0 110.3 L721.5 110.3 L722.0 110.3 L722.5 110.3 L723.0 110.3 L723.5 110.3 L724.0 110.3 L724.5 110.3 L725.0 110.3 L725.5 110.3 L726.0 110.3 L726.5 110.3 L727.0 110.3 L727.5 110.3 L728.0 110.3 L728.5 110.3 L729.0 110.3 L729.5 110.3 L730.0 110.3 L730.5 110.3 L731.0 110.3 L731.5 110.3 L732.0 110.3 L732.5 110.3 L733.0 110.3 L733.5 110.3 L734.0 110.3 L734.5 110.3 L735.0 110.3 L735.5 110.3 L736.0 110.3 L736.5 110.3 L737.0 110.3 L737.5 110.3 L738.0 110.3 L738.5 110.3 L739.0 110.3 L739.5 110.3 L740.0 110.3 L740.5 110.3 L741.0 110.3 L741.5 110.3 L742.0 110.3 L742.5 110.3 L743.0 110.3 L743.5 110.3 L744.0 110.3 L744.5 110.3 L745.0 110.3 L745.5 110.3 L746.0 110.3 L746.5 110.3 L747.0 110.3 L747.5 110.3 L748.0 110.3 L748.5 110.3 L749.0 110.3 L749.5 110.3 L750.0 110.4 L750.5 110.4 L751.0 110.5 L751.5 110.7 L752.0 110.9 L752.5 111.3 L753.0 111.9 L753.5 112.7 L754.0 113.8 L754.5 115.1 L755.0 116.7 L755.5 118.4 L756.0 120.2 L756.5 121.8 L757.0 123.1 L757.5 124.0 L758.0 124.3 L758.5 124.0 L759.0 123.1 L759.5 121.8 L760.0 120.2 L760.5 118.4 L761.0 116.7 L761.5 115.1 L762.0 113.8 L762.5 112.7 L763.0 111.9 L763.5 111.3 L764.0 110.9 L764.5 110.7 L765.0 110.5 L765.5 110.4 L766.0 110.4 L766.5 110.3 L767.0 110.3 L767.5 110.3 L768.0 110.3 L768.5 110.3 L769.0 110.3 L769.5 110.3 L770.0 110.3 L770.5 110.3 L771.0 110.3 L771.5 110.3 L772.0 110.3 L772.5 110.3 L773.0 110.3 L773.5 110.3 L774.0 110.3 L774.5 110.3 L775.0 110.3 L775.5 110.3 L776.0 110.3 L776.5 110.3 L777.0 110.3 L777.5 110.3 L778.0 110.3 L778.5 110.3 L779.0 110.3 L779.5 110.3 L780.0 110.3 L780.5 110.3 L781.0 110.3 L781.5 110.3 L782.0 110.3 L782.5 110.3 L783.0 110.3 L783.5 110.3 L784.0 110.3 L784.5 110.3 L785.0 110.3 L785.5 110.3 L786.0 110.3 L786.5 110.3 L787.0 110.3 L787.5 110.3 L788.0 110.3 L788.5 110.3 L789.0 110.3 L789.5 110.3 L790.0 110.3 L790.5 110.3 L791.0 110.3 L791.5 110.3 L792.0 110.3 L792.5 110.3 L793.0 110.3 L793.5 110.3 L794.0 110.3 L794.5 110.3 L795.0 110.3 L795.5 110.3 L796.0 110.3 L796.5 110.3 L797.0 110.3 L797.5 110.3 L798.0 110.3 L798.5 110.3 L799.0 110.3 L799.5 110.4 L800.0 110.4 L800.5 110.5 L801.0 110.6 L801.5 110.8 L802.0 111.0 L802.5 111.3 L803.0 111.7 L803.5 112.0 L804.0 112.4 L804.5 112.8 L805.0 113.1 L805.5 113.2 L806.0 113.3 L806.5 113.2 L807.0 113.1 L807.5 112.8 L808.0 112.4 L808.5 112.0 L809.0 111.7 L809.5 111.3 L810.0 111.0 L810.5 110.8 L811.0 110.6 L811.5 110.5 L812.0 110.4 L812.5 110.4 L813.0 110.3 L813.5 110.3 L814.0 110.3 L814.5 110.3 L815.0 110.3 L815.5 110.3 L816.0 110.3 L816.5 110.3 L817.0 110.3 L817.5 110.3 L818.0 110.3 L818.5 110.3 L819.0 110.3 L819.5 110.3 L820.0 110.3 L820.5 110.3 L821.0 110.3 L821.5 110.3 L822.0 110.3 L822.5 110.3 L823.0 110.3 L823.5 110.3 L824.0 110.3 L824.5 110.3 L825.0 110.3 L825.5 110.3 L826.0 110.3 L826.5 110.3 L827.0 110.3 L827.5 110.3 L828.0 110.3 L828.5 110.3 L829.0 110.3 L829.5 110.3 L830.0 110.3 L830.5 110.3 L831.0 110.3 L831.5 110.3 L832.0 110.3 L832.5 110.3 L833.0 110.3 L833.5 110.3 L834.0 110.3 L834.5 110.3 L835.0 110.3 L835.5 110.3 L836.0 110.3 L836.5 110.3 L837.0 110.3 L837.5 110.3 L838.0 110.3 L838.5 110.3 L839.0 110.3 L839.5 110.3 L840.0 110.3 L840.5 110.3 L841.0 110.3 L841.5 110.3 L842.0 110.3 L842.5 110.3 L843.0 110.3 L843.5 110.3 L844.0 110.3 L844.5 110.3 L845.0 110.3 L845.5 110.3 L846.0 110.3 L846.5 110.3 L847.0 110.3 L847.5 110.3 L848.0 110.3 L848.5 110.3 L849.0 110.3 L849.5 110.3 L850.0 110.3 L850.5 110.3 L851.0 110.3 L851.5 110.3 L852.0 110.3 L852.5 110.3 L853.0 110.3 L853.5 110.3 L854.0 110.3 L854.5 110.3 L855.0 110.3 L855.5 110.3 L856.0 110.3 L856.5 110.3 L857.0 110.3 L857.5 110.3 L858.0 110.3 L858.5 110.3 L859.0 110.3 L859.5 110.3 L860.0 110.3 L860.5 110.3 L861.0 110.3 L861.5 110.3 L862.0 110.3 L862.5 110.3 L863.0 110.3 L863.5 110.3 L864.0 110.3 L864.5 110.3 L865.0 110.3 L865.5 110.3 L866.0 110.3 L866.5 110.3 L867.0 110.3 L867.5 110.3 L868.0 110.3 L868.5 110.3 L869.0 110.3 L869.5 110.3 L870.0 110.3 L870.5 110.3 L871.0 110.3 L871.5 110.3 L872.0 110.4 L872.5 110.4 L873.0 110.5 L873.5 110.7 L874.0 111.0 L874.5 111.5 L875.0 112.1 L875.5 113.1 L876.0 114.3 L876.5 115.8 L877.0 117.6 L877.5 119.6 L878.0 121.6 L878.5 123.5 L879.0 125.0 L879.5 126.0 L880.0 126.3 L880.5 126.0 L881.0 125.0 L881.5 123.5 L882.0 121.6 L882.5 119.6 L883.0 117.6 L883.5 115.8 L884.0 114.3 L884.5 113.1 L885.0 112.1 L885.5 111.5 L886.0 111.0 L886.5 110.7 L887.0 110.5 L887.5 110.4 L888.0 110.4 L888.5 110.3 L889.0 110.3 L889.5 110.3 L890.0 110.3 L890.5 110.3 L891.0 110.3 L891.5 110.3 L892.0 110.3 L892.5 110.3 L893.0 110.3 L893.5 110.3 L894.0 110.3 L894.5 110.3 L895.0 110.3 L895.5 110.4 L896.0 110.4 L896.5 110.5 L897.0 110.6 L897.5 110.8 L898.0 111.1 L898.5 111.5 L899.0 112.0 L899.5 112.7 L900.0 113.5" stroke="#f00"/>
</g>
<path d="M125.5 238.5v-3.0M125.5 100.5v3.0M145.5 238.5v-3.0M145.5 100.5v3.0M166.5 238.5v-3.0M166.5 100.5v3.0M186.5 238.5v-3.0M186.5 100.5v3.0M207.5 238.5v-5.9M207.5 100.5v5.9M227.5 238.5v-3.0M227.5 100.5v3.0M248.5 238.5v-3.0M248.5 100.5v3.0M268.5 238.5v-3.0M268.5 100.5v3.0M288.5 238.5v-3.0M288.5 100.5v3.0M309.5 238.5v-5.9M309.5 100.5v5.9M329.5 238.5v-3.0M329.5 100.5v3.0M350.5 238.5v-3.0M350.5 100.5v3.0M370.5 238.5v-3.0M370.5 100.5v3.0M390.5 238.5v-3.0M390.5 100.5v3.0M411.5 238.5v-5.9M411.5 100.5v5.9M431.5 238.5v-3.0M431.5 100.5v3.0M452.5 238.5v-3.0M452.5 100.5v3.0M472.5 238.5v-3.0M472.5 100.5v3.0M493.5 238.5v-3.0M493.5 100.5v3.0M513.5 238.5v-5.9M513.5 100.5v5.9M533.5 238.5v-3.0M533.5 100.5v3.0M554.5 238.5v-3.0M554.5 100.5v3.0M574.5 238.5v-3.0M574.5 100.5v3.0M595.5 238.5v-3.0M595.5 100.5v3.0M615.5 238.5v-5.9M615.5 100.5v5.9M636.5 238.5v-3.0M636.5 100.5v3.0M656.5 238.5v-3.0M656.5 100.5v3.0M676.5 238.5v-3.0M676.5 100.5v3.0M697.5 238.5v-3.0M697.5 100.5v3.0M717.5 238.5v-5.9M717.5 100.5v5.9M738.5 238.5v-3.0M738.5 100.5v3.0M758.5 238.5v-3.0M758.5 100.5v3.0M778.5 238.5v-3.0M778.5 100.5v3.0M799.5 238.5v-3.0M799.5 100.5v3.0M819.5 238.5v-5.9M819.5 100.5v5.9M840.5 238.5v-3.0M840.5 100.5v3.0M860.5 238.5v-3.0M860.5 100.5v3.0M125.5 238.5h5.9M900.5 238.5h-5.9M125.5 233.5h3.0M900.5 233.5h-3.0M125.5 228.5h3.0M900.5 228.5h-3.0M125.5 222.5h3.0M900.5 222.5h-3.0M125.5 217.5h3.0M900.5 217.5h-3.0M125.5 212.5h5.9M900.5 212.5h-5.9M125.5 207.5h3.0M900.5 207.5h-3.0M125.5 202.5h3.0M900.5 202.5h-3.0M125.5 197.5h3.0M900.5 197.5h-3.0M125.5 191.5h3.0M900.5 191.5h-3.0M125.5 186.5h5.9M900.5 186.5h-5.9M125.5 181.5h3.0M900.5 181.5h-3.0M125.5 176.5h3.0M900.5 176.5h-3.0M125.5 171.5h3.0M900.5 171.5h-3.0M125.5 166.5h3.0M900.5 166.5h-3.0M125.5 161.5h5.9M900.5 161.5h-5.9M125.5 155.5h3.0M900.5 155.5h-3.0M125.5 150.5h3.0M900.5 150.5h-3.0M125.5 145.5h3.0M900.5 145.5h-3.0M125.5 140.5h3.0M900.5 140.5h-3.0M125.5 135.5h5.9M900.5 135.5h-5.9M125.5 130.5h3.0M900.5 130.5h-3.0M125.5 124.5h3.0M900.5 124.5h-3.0M125.5 119.5h3.0M900.5 119.5h-3.0M125.5 114.5h3.0M900.5 114.5h-3.0M125.5 109.5h5.9M900.5 109.5h-5.9" stroke="#000" stroke-width="0.85" fill="none"/>
<rect x="125.5" y="100.5" width="775.0" height="138.0" fill="none" stroke="#000" stroke-width="1.45"/>
<g font-family="Liberation Sans, sans-serif" font-size="16.67" fill="#000">
<text x="206.3" y="255.0" text-anchor="middle">6450</text>
<text x="308.4" y="255.0" text-anchor="middle">6460</text>
<text x="410.5" y="255.0" text-anchor="middle">6470</text>
<text x="512.6" y="255.0" text-anchor="middle">6480</text>
<text x="614.7" y="255.0" text-anchor="middle">6490</text>
<text x="716.8" y="255.0" text-anchor="middle">6500</text>
<text x="818.9" y="255.0" text-anchor="middle">6510</text>
<text x="119.4" y="242.9" text-anchor="end">0</text>
<text x="119.4" y="216.9" text-anchor="end">1000</text>
<text x="119.4" y="190.9" text-anchor="end">2000</text>
<text x="119.4" y="165.9" text-anchor="end">3000</text>
<text x="119.4" y="139.9" text-anchor="end">4000</text>
<text x="119.4" y="113.9" text-anchor="end">5000</text>
</g>
<g clip-path="url(#c1)" fill="none" stroke-linejoin="round" stroke-width="1.55">
<path d="M125.0 287.8 L126.0 289.2 L127.0 289.6 L128.0 290.4 L129.0 286.0 L130.0 282.8 L131.0 280.5 L132.0 277.5 L133.0 275.7 L134.0 275.8 L135.0 277.6 L136.0 279.4 L137.0 277.6 L138.0 276.3 L139.0 276.8 L140.0 276.7 L141.0 277.5 L142.0 279.0 L143.0 277.8 L144.0 277.1 L145.0 276.7 L146.0 277.1 L147.0 277.2 L148.0 275.8 L149.0 275.6 L150.0 275.7 L151.0 275.2 L152.0 274.8 L153.0 274.6 L154.0 276.4 L155.0 278.2 L156.0 278.7 L157.0 276.0 L158.0 276.9 L159.0 279.0 L160.0 280.2 L161.0 278.8 L162.0 277.4 L163.0 277.9 L164.0 278.2 L165.0 277.5 L166.0 276.6 L167.0 275.9 L168.0 278.5 L169.0 279.0 L170.0 277.4 L171.0 277.3 L172.0 276.7 L173.0 276.3 L174.0 277.2 L175.0 278.5 L176.0 277.3 L177.0 277.1 L178.0 277.9 L179.0 279.8 L180.0 279.7 L181.0 278.5 L182.0 278.4 L183.0 278.0 L184.0 276.0 L185.0 277.0 L186.0 277.5 L187.0 278.2 L188.0 277.8 L189.0 276.1 L190.0 276.8 L191.0 276.8 L192.0 276.2 L193.0 278.2 L194.0 278.5 L195.0 277.6 L196.0 278.4 L197.0 278.2 L198.0 277.8 L199.0 278.3 L200.0 278.9 L201.0 276.9 L202.0 278.1 L203.0 278.6 L204.0 277.0 L205.0 278.3 L206.0 280.6 L207.0 282.1 L208.0 282.9 L209.0 282.5 L210.0 283.3 L211.0 286.8 L212.0 287.8 L213.0 286.5 L214.0 286.8 L215.0 287.9 L216.0 287.5 L217.0 287.1 L218.0 286.3 L219.0 284.3 L220.0 285.1 L221.0 285.0 L222.0 283.6 L223.0 282.3 L224.0 280.3 L225.0 281.4 L226.0 280.6 L227.0 278.2 L228.0 278.0 L229.0 278.8 L230.0 281.4 L231.0 281.3 L232.0 278.8 L233.0 277.1 L234.0 277.2 L235.0 277.4 L236.0 277.4 L237.0 277.1 L238.0 276.9 L239.0 277.7 L240.0 277.4 L241.0 276.8 L242.0 278.2 L243.0 279.6 L244.0 277.0 L245.0 276.6 L246.0 277.7 L247.0 277.8 L248.0 278.5 L249.0 279.5 L250.0 280.1 L251.0 279.0 L252.0 278.0 L253.0 278.3 L254.0 276.8 L255.0 277.3 L256.0 277.3 L257.0 277.5 L258.0 278.6 L259.0 278.7 L260.0 278.2 L261.0 277.2 L262.0 278.1 L263.0 278.2 L264.0 277.0 L265.0 276.0 L266.0 276.1 L267.0 275.1 L268.0 276.3 L269.0 280.9 L270.0 282.2 L271.0 281.6 L272.0 280.9 L273.0 281.6 L274.0 282.5 L275.0 282.3 L276.0 280.9 L277.0 278.9 L278.0 277.5 L279.0 278.9 L280.0 280.1 L281.0 280.3 L282.0 280.9 L283.0 282.4 L284.0 281.9 L285.0 282.3 L286.0 285.3 L287.0 285.0 L288.0 284.0 L289.0 283.8 L290.0 284.3 L291.0 282.4 L292.0 283.2 L293.0 284.2 L294.0 282.6 L295.0 279.8 L296.0 277.5 L297.0 277.6 L298.0 278.7 L299.0 277.4 L300.0 277.6 L301.0 277.7 L302.0 277.8 L303.0 278.1 L304.0 280.1 L305.0 280.6 L306.0 279.4 L307.0 278.2 L308.0 279.5 L309.0 279.9 L310.0 278.9 L311.0 277.3 L312.0 276.8 L313.0 273.6 L314.0 273.5 L315.0 278.6 L316.0 279.4 L317.0 277.7 L318.0 276.6 L319.0 277.9 L320.0 280.4 L321.0 280.5 L322.0 280.4 L323.0 280.5 L324.0 279.0 L325.0 278.1 L326.0 278.4 L327.0 279.5 L328.0 281.0 L329.0 280.3 L330.0 278.5 L331.0 279.5 L332.0 279.9 L333.0 278.7 L334.0 278.7 L335.0 278.1 L336.0 279.7 L337.0 279.4 L338.0 278.4 L339.0 279.2 L340.0 280.0 L341.0 279.5 L342.0 280.2 L343.0 279.8 L344.0 278.9 L345.0 280.1 L346.0 281.6 L347.0 280.2 L348.0 278.6 L349.0 278.5 L350.0 278.4 L351.0 280.1 L352.0 280.6 L353.0 280.9 L354.0 280.8 L355.0 280.5 L356.0 280.3 L357.0 279.6 L358.0 278.2 L359.0 278.0 L360.0 277.5 L361.0 277.3 L362.0 279.5 L363.0 278.6 L364.0 278.4 L365.0 277.7 L366.0 277.5 L367.0 278.8 L368.0 279.5 L369.0 279.8 L370.0 280.2 L371.0 279.8 L372.0 280.1 L373.0 280.1 L374.0 279.5 L375.0 279.6 L376.0 280.4 L377.0 279.9 L378.0 278.9 L379.0 277.3 L380.0 278.4 L381.0 279.7 L382.0 279.2 L383.0 280.0 L384.0 281.2 L385.0 280.3 L386.0 280.3 L387.0 279.3 L388.0 278.5 L389.0 279.1 L390.0 279.4 L391.0 279.6 L392.0 279.2 L393.0 278.8 L394.0 277.8 L395.0 277.6 L396.0 278.2 L397.0 277.9 L398.0 278.3 L399.0 278.4 L400.0 279.3 L401.0 280.5 L402.0 281.0 L403.0 280.3 L404.0 280.2 L405.0 280.7 L406.0 279.1 L407.0 279.5 L408.0 284.5 L409.0 289.1 L410.0 293.0 L411.0 295.2 L412.0 295.3 L413.0 294.9 L414.0 293.8 L415.0 289.5 L416.0 284.8 L417.0 282.2 L418.0 278.6 L419.0 276.8 L420.0 276.6 L421.0 276.9 L422.0 278.0 L423.0 279.7 L424.0 280.5 L425.0 282.1 L426.0 281.8 L427.0 280.8 L428.0 280.6 L429.0 281.5 L430.0 280.7 L431.0 280.1 L432.0 280.5 L433.0 279.7 L434.0 277.9 L435.0 277.0 L436.0 275.2 L437.0 275.9 L438.0 278.3 L439.0 278.1 L440.0 278.8 L441.0 279.5 L442.0 280.1 L443.0 280.4 L444.0 279.5 L445.0 281.2 L446.0 283.7 L447.0 281.2 L448.0 279.5 L449.0 281.2 L450.0 282.6 L451.0 282.6 L452.0 281.4 L453.0 281.0 L454.0 282.4 L455.0 281.5 L456.0 280.0 L457.0 281.0 L458.0 282.1 L459.0 282.0 L460.0 282.1 L461.0 282.4 L462.0 282.0 L463.0 281.7 L464.0 281.1 L465.0 281.0 L466.0 282.0 L467.0 282.3 L468.0 282.6 L469.0 283.5 L470.0 282.9 L471.0 283.5 L472.0 283.9 L473.0 282.3 L474.0 281.9 L475.0 281.8 L476.0 283.0 L477.0 285.2 L478.0 285.7 L479.0 285.9 L480.0 284.5 L481.0 283.2 L482.0 282.5 L483.0 282.3 L484.0 283.8 L485.0 282.2 L486.0 278.8 L487.0 278.0 L488.0 278.6 L489.0 280.1 L490.0 281.3 L491.0 283.9 L492.0 285.3 L493.0 284.5 L494.0 283.9 L495.0 284.8 L496.0 284.7 L497.0 285.1 L498.0 284.4 L499.0 284.6 L500.0 284.2 L501.0 284.1 L502.0 285.6 L503.0 289.0 L504.0 292.2 L505.0 292.0 L506.0 291.4 L507.0 291.3 L508.0 289.6 L509.0 287.0 L510.0 287.4 L511.0 287.3 L512.0 284.8 L513.0 283.7 L514.0 285.3 L515.0 286.7 L516.0 286.4 L517.0 286.3 L518.0 287.4 L519.0 287.2 L520.0 286.0 L521.0 285.2 L522.0 285.5 L523.0 286.1 L524.0 286.7 L525.0 286.5 L526.0 287.5 L527.0 286.9 L528.0 286.2 L529.0 285.9 L530.0 283.6 L531.0 283.7 L532.0 284.9 L533.0 286.4 L534.0 286.3 L535.0 287.4 L536.0 287.0 L537.0 287.4 L538.0 287.8 L539.0 288.6 L540.0 288.6 L541.0 288.9 L542.0 288.1 L543.0 288.2 L544.0 290.8 L545.0 293.1 L546.0 293.8 L547.0 295.1 L548.0 298.1 L549.0 299.2 L550.0 297.4 L551.0 295.9 L552.0 295.4 L553.0 295.0 L554.0 295.5 L555.0 296.3 L556.0 296.1 L557.0 296.4 L558.0 297.4 L559.0 297.3 L560.0 296.6 L561.0 296.8 L562.0 298.8 L563.0 302.3 L564.0 302.8 L565.0 304.2 L566.0 305.1 L567.0 305.9 L568.0 308.8 L569.0 310.6 L570.0 313.0 L571.0 318.2 L572.0 323.5 L573.0 330.5 L574.0 338.9 L575.0 346.1 L576.0 350.1 L577.0 354.3 L578.0 358.8 L579.0 360.2 L580.0 358.9 L581.0 354.9 L582.0 351.3 L583.0 346.7 L584.0 339.6 L585.0 332.4 L586.0 325.8 L587.0 319.0 L588.0 311.5 L589.0 305.7 L590.0 299.8 L591.0 296.9 L592.0 298.2 L593.0 302.2 L594.0 303.3 L595.0 301.8 L596.0 301.4 L597.0 300.5 L598.0 299.9 L599.0 299.8 L600.0 298.3 L601.0 294.8 L602.0 294.2 L603.0 295.8 L604.0 296.4 L605.0 295.6 L606.0 293.5 L607.0 293.6 L608.0 295.1 L609.0 293.3 L610.0 292.8 L611.0 291.8 L612.0 290.4 L613.0 290.4 L614.0 291.1 L615.0 289.0 L616.0 288.0 L617.0 288.9 L618.0 290.3 L619.0 290.1 L620.0 289.3 L621.0 288.4 L622.0 288.3 L623.0 288.8 L624.0 289.2 L625.0 287.3 L626.0 286.3 L627.0 287.9 L628.0 287.3 L629.0 286.0 L630.0 286.1 L631.0 286.8 L632.0 288.5 L633.0 286.2 L634.0 283.8 L635.0 285.0 L636.0 285.5 L637.0 286.3 L638.0 285.4 L639.0 283.2 L640.0 283.9 L641.0 284.6 L642.0 284.9 L643.0 286.2 L644.0 288.6 L645.0 292.6 L646.0 295.5 L647.0 296.7 L648.0 297.3 L649.0 295.4 L650.0 290.9 L651.0 287.6 L652.0 284.2 L653.0 284.2 L654.0 283.8 L655.0 283.2 L656.0 282.6 L657.0 282.7 L658.0 283.7 L659.0 283.6 L660.0 284.7 L661.0 285.6 L662.0 284.1 L663.0 282.4 L664.0 280.4 L665.0 279.9 L666.0 282.7 L667.0 281.8 L668.0 281.6 L669.0 282.5 L670.0 283.8 L671.0 284.4 L672.0 284.6 L673.0 282.7 L674.0 280.8 L675.0 281.7 L676.0 282.2 L677.0 281.7 L678.0 282.3 L679.0 284.1 L680.0 285.7 L681.0 284.5 L682.0 283.3 L683.0 283.3 L684.0 281.9 L685.0 282.7 L686.0 282.7 L687.0 281.3 L688.0 281.3 L689.0 282.0 L690.0 283.5 L691.0 282.6 L692.0 280.5 L693.0 280.2 L694.0 281.2 L695.0 281.0 L696.0 280.9 L697.0 281.2 L698.0 282.1 L699.0 283.2 L700.0 284.0 L701.0 284.7 L702.0 286.6 L703.0 289.6 L704.0 293.3 L705.0 294.8 L706.0 293.8 L707.0 291.9 L708.0 290.0 L709.0 288.4 L710.0 284.6 L711.0 283.0 L712.0 282.2 L713.0 281.2 L714.0 281.2 L715.0 281.1 L716.0 281.6 L717.0 282.1 L718.0 282.6 L719.0 282.1 L720.0 280.7 L721.0 279.7 L722.0 279.8 L723.0 279.0 L724.0 278.7 L725.0 280.1 L726.0 280.0 L727.0 278.4 L728.0 276.0 L729.0 274.7 L730.0 273.8 L731.0 275.7 L732.0 277.1 L733.0 276.9 L734.0 276.8 L735.0 276.9 L736.0 277.9 L737.0 279.3 L738.0 280.4 L739.0 281.0 L740.0 280.8 L741.0 281.2 L742.0 281.8 L743.0 281.4 L744.0 280.1 L745.0 278.7 L746.0 279.7 L747.0 281.1 L748.0 281.0 L749.0 280.7 L750.0 279.8 L751.0 280.0 L752.0 280.4 L753.0 281.0 L754.0 281.2 L755.0 281.8 L756.0 283.5 L757.0 282.9 L758.0 280.2 L759.0 279.3 L760.0 274.4 L761.0 272.6 L762.0 278.0 L763.0 280.8 L764.0 280.5 L765.0 280.8 L766.0 280.7 L767.0 282.6 L768.0 284.3 L769.0 284.7 L770.0 286.3 L771.0 286.8 L772.0 283.0 L773.0 281.9 L774.0 283.5 L775.0 282.9 L776.0 281.0 L777.0 280.1 L778.0 280.8 L779.0 282.1 L780.0 282.2 L781.0 280.5 L782.0 279.8 L783.0 280.0 L784.0 281.0 L785.0 282.1 L786.0 281.2 L787.0 279.9 L788.0 279.7 L789.0 280.3 L790.0 281.3 L791.0 280.2 L792.0 279.0 L793.0 279.5 L794.0 280.2 L795.0 280.0 L796.0 278.4 L797.0 273.6 L798.0 268.5 L799.0 266.3 L800.0 268.5 L801.0 271.7 L802.0 275.2 L803.0 278.5 L804.0 280.7 L805.0 281.0 L806.0 279.1 L807.0 278.4 L808.0 279.5 L809.0 279.8 L810.0 280.1 L811.0 279.0 L812.0 278.4 L813.0 279.5 L814.0 282.0 L815.0 281.7 L816.0 280.7 L817.0 281.2 L818.0 282.9 L819.0 284.7 L820.0 285.8 L821.0 286.6 L822.0 287.1 L823.0 286.3 L824.0 286.8 L825.0 285.1 L826.0 281.9 L827.0 280.2 L828.0 278.3 L829.0 276.7 L830.0 278.1 L831.0 279.6 L832.0 280.3 L833.0 279.2 L834.0 278.7 L835.0 279.0 L836.0 279.3 L837.0 278.1 L838.0 278.1 L839.0 279.5 L840.0 281.5 L841.0 282.5 L842.0 281.6 L843.0 280.2 L844.0 280.5 L845.0 279.8 L846.0 278.3 L847.0 277.0 L848.0 278.5 L849.0 279.9 L850.0 280.1 L851.0 279.2 L852.0 278.9 L853.0 279.6 L854.0 280.3 L855.0 280.3 L856.0 279.6 L857.0 279.6 L858.0 279.3 L859.0 280.3 L860.0 279.5 L861.0 278.1 L862.0 279.1 L863.0 279.6 L864.0 279.4 L865.0 280.0 L866.0 280.2 L867.0 279.9 L868.0 279.6 L869.0 280.0 L870.0 280.2 L871.0 279.5 L872.0 279.2 L873.0 278.8 L874.0 279.5 L875.0 279.8 L876.0 280.0 L877.0 279.4 L878.0 277.9 L879.0 277.6 L880.0 278.8 L881.0 281.2 L882.0 283.8 L883.0 284.2 L884.0 285.4 L885.0 289.3 L886.0 296.7 L887.0 301.1 L888.0 302.2 L889.0 301.7 L890.0 297.2 L891.0 290.4 L892.0 285.5 L893.0 283.8 L894.0 283.2 L895.0 282.9 L896.0 284.4 L897.0 289.4 L898.0 295.3 L899.0 299.3 L900.0 301.1" stroke="#000"/>
<path d="M125.0 283.6 L125.5 284.4 L126.0 285.0 L126.5 285.5 L127.0 285.6 L127.5 285.5 L128.0 285.1 L128.5 284.4 L129.0 283.6 L129.5 282.7 L130.0 281.8 L130.5 280.9 L131.0 280.0 L131.5 279.3 L132.0 278.7 L132.5 278.3 L133.0 277.9 L133.5 277.7 L134.0 277.5 L134.5 277.4 L135.0 277.3 L135.5 277.3 L136.0 277.2 L136.5 277.2 L137.0 277.2 L137.5 277.2 L138.0 277.2 L138.5 277.2 L139.0 277.2 L139.5 277.2 L140.0 277.2 L140.5 277.2 L141.0 277.2 L141.5 277.2 L142.0 277.2 L142.5 277.3 L143.0 277.3 L143.5 277.3 L144.0 277.3 L144.5 277.3 L145.0 277.3 L145.5 277.3 L146.0 277.3 L146.5 277.3 L147.0 277.3 L147.5 277.3 L148.0 277.3 L148.5 277.3 L149.0 277.3 L149.5 277.3 L150.0 277.3 L150.5 277.3 L151.0 277.3 L151.5 277.3 L152.0 277.3 L152.5 277.3 L153.0 277.3 L153.5 277.4 L154.0 277.4 L154.5 277.4 L155.0 277.4 L155.5 277.4 L156.0 277.4 L156.5 277.4 L157.0 277.4 L157.5 277.4 L158.0 277.4 L158.5 277.4 L159.0 277.4 L159.5 277.4 L160.0 277.4 L160.5 277.4 L161.0 277.4 L161.5 277.4 L162.0 277.4 L162.5 277.4 L163.0 277.4 L163.5 277.4 L164.0 277.4 L164.5 277.5 L165.0 277.5 L165.5 277.5 L166.0 277.5 L166.5 277.5 L167.0 277.5 L167.5 277.5 L168.0 277.5 L168.5 277.5 L169.0 277.5 L169.5 277.5 L170.0 277.5 L170.5 277.5 L171.0 277.5 L171.5 277.5 L172.0 277.5 L172.5 277.5 L173.0 277.5 L173.5 277.5 L174.0 277.5 L174.5 277.5 L175.0 277.5 L175.5 277.6 L176.0 277.6 L176.5 277.6 L177.0 277.6 L177.5 277.6 L178.0 277.6 L178.5 277.6 L179.0 277.6 L179.5 277.6 L180.0 277.6 L180.5 277.6 L181.0 277.6 L181.5 277.6 L182.0 277.6 L182.5 277.6 L183.0 277.6 L183.5 277.6 L184.0 277.6 L184.5 277.6 L185.0 277.6 L185.5 277.6 L186.0 277.6 L186.5 277.7 L187.0 277.7 L187.5 277.7 L188.0 277.7 L188.5 277.7 L189.0 277.7 L189.5 277.7 L190.0 277.7 L190.5 277.7 L191.0 277.7 L191.5 277.7 L192.0 277.7 L192.5 277.7 L193.0 277.7 L193.5 277.7 L194.0 277.7 L194.5 277.7 L195.0 277.7 L195.5 277.8 L196.0 277.8 L196.5 277.8 L197.0 277.8 L197.5 277.8 L198.0 277.8 L198.5 277.9 L199.0 277.9 L199.5 277.9 L200.0 278.0 L200.5 278.0 L201.0 278.1 L201.5 278.1 L202.0 278.2 L202.5 278.3 L203.0 278.3 L203.5 278.4 L204.0 278.6 L204.5 278.7 L205.0 278.8 L205.5 279.0 L206.0 279.1 L206.5 279.3 L207.0 279.5 L207.5 279.7 L208.0 279.9 L208.5 280.1 L209.0 280.3 L209.5 280.5 L210.0 280.7 L210.5 280.9 L211.0 281.1 L211.5 281.3 L212.0 281.4 L212.5 281.6 L213.0 281.7 L213.5 281.8 L214.0 281.9 L214.5 281.9 L215.0 281.9 L215.5 281.9 L216.0 281.9 L216.5 281.8 L217.0 281.7 L217.5 281.6 L218.0 281.5 L218.5 281.3 L219.0 281.2 L219.5 281.0 L220.0 280.8 L220.5 280.6 L221.0 280.4 L221.5 280.2 L222.0 280.0 L222.5 279.8 L223.0 279.6 L223.5 279.5 L224.0 279.3 L224.5 279.1 L225.0 279.0 L225.5 278.9 L226.0 278.8 L226.5 278.7 L227.0 278.6 L227.5 278.5 L228.0 278.4 L228.5 278.4 L229.0 278.3 L229.5 278.3 L230.0 278.2 L230.5 278.2 L231.0 278.2 L231.5 278.2 L232.0 278.2 L232.5 278.1 L233.0 278.1 L233.5 278.1 L234.0 278.1 L234.5 278.1 L235.0 278.1 L235.5 278.1 L236.0 278.1 L236.5 278.1 L237.0 278.1 L237.5 278.1 L238.0 278.1 L238.5 278.1 L239.0 278.1 L239.5 278.2 L240.0 278.2 L240.5 278.2 L241.0 278.2 L241.5 278.2 L242.0 278.2 L242.5 278.2 L243.0 278.2 L243.5 278.2 L244.0 278.2 L244.5 278.2 L245.0 278.2 L245.5 278.2 L246.0 278.2 L246.5 278.2 L247.0 278.2 L247.5 278.2 L248.0 278.2 L248.5 278.2 L249.0 278.2 L249.5 278.2 L250.0 278.3 L250.5 278.3 L251.0 278.3 L251.5 278.3 L252.0 278.3 L252.5 278.3 L253.0 278.3 L253.5 278.3 L254.0 278.3 L254.5 278.3 L255.0 278.3 L255.5 278.3 L256.0 278.3 L256.5 278.3 L257.0 278.3 L257.5 278.3 L258.0 278.3 L258.5 278.3 L259.0 278.3 L259.5 278.3 L260.0 278.3 L260.5 278.4 L261.0 278.4 L261.5 278.4 L262.0 278.4 L262.5 278.4 L263.0 278.4 L263.5 278.4 L264.0 278.4 L264.5 278.4 L265.0 278.4 L265.5 278.4 L266.0 278.4 L266.5 278.4 L267.0 278.4 L267.5 278.4 L268.0 278.4 L268.5 278.4 L269.0 278.4 L269.5 278.4 L270.0 278.4 L270.5 278.5 L271.0 278.5 L271.5 278.5 L272.0 278.5 L272.5 278.5 L273.0 278.5 L273.5 278.5 L274.0 278.5 L274.5 278.5 L275.0 278.5 L275.5 278.5 L276.0 278.5 L276.5 278.5 L277.0 278.5 L277.5 278.5 L278.0 278.5 L278.5 278.6 L279.0 278.6 L279.5 278.6 L280.0 278.7 L280.5 278.8 L281.0 278.9 L281.5 279.1 L282.0 279.3 L282.5 279.5 L283.0 279.8 L283.5 280.2 L284.0 280.6 L284.5 280.9 L285.0 281.3 L285.5 281.6 L286.0 281.9 L286.5 282.1 L287.0 282.1 L287.5 282.1 L288.0 281.9 L288.5 281.7 L289.0 281.3 L289.5 281.0 L290.0 280.6 L290.5 280.3 L291.0 279.9 L291.5 279.6 L292.0 279.4 L292.5 279.2 L293.0 279.0 L293.5 278.9 L294.0 278.8 L294.5 278.8 L295.0 278.8 L295.5 278.7 L296.0 278.7 L296.5 278.7 L297.0 278.7 L297.5 278.7 L298.0 278.7 L298.5 278.7 L299.0 278.7 L299.5 278.7 L300.0 278.7 L300.5 278.8 L301.0 278.8 L301.5 278.8 L302.0 278.8 L302.5 278.8 L303.0 278.8 L303.5 278.8 L304.0 278.8 L304.5 278.8 L305.0 278.8 L305.5 278.8 L306.0 278.8 L306.5 278.8 L307.0 278.8 L307.5 278.8 L308.0 278.8 L308.5 278.8 L309.0 278.8 L309.5 278.8 L310.0 278.8 L310.5 278.9 L311.0 278.9 L311.5 278.9 L312.0 278.9 L312.5 278.9 L313.0 278.9 L313.5 278.9 L314.0 278.9 L314.5 278.9 L315.0 278.9 L315.5 278.9 L316.0 278.9 L316.5 278.9 L317.0 278.9 L317.5 278.9 L318.0 278.9 L318.5 278.9 L319.0 278.9 L319.5 278.9 L320.0 279.0 L320.5 279.0 L321.0 279.0 L321.5 279.0 L322.0 279.0 L322.5 279.0 L323.0 279.0 L323.5 279.0 L324.0 279.0 L324.5 279.0 L325.0 279.0 L325.5 279.0 L326.0 279.0 L326.5 279.0 L327.0 279.0 L327.5 279.0 L328.0 279.0 L328.5 279.1 L329.0 279.1 L329.5 279.1 L330.0 279.1 L330.5 279.2 L331.0 279.3 L331.5 279.4 L332.0 279.5 L332.5 279.7 L333.0 279.9 L333.5 280.1 L334.0 280.4 L334.5 280.7 L335.0 281.1 L335.5 281.4 L336.0 281.7 L336.5 281.9 L337.0 282.1 L337.5 282.1 L338.0 282.1 L338.5 282.0 L339.0 281.8 L339.5 281.5 L340.0 281.2 L340.5 280.9 L341.0 280.6 L341.5 280.3 L342.0 280.1 L342.5 279.8 L343.0 279.7 L343.5 279.5 L344.0 279.4 L344.5 279.4 L345.0 279.3 L345.5 279.3 L346.0 279.3 L346.5 279.3 L347.0 279.3 L347.5 279.3 L348.0 279.3 L348.5 279.3 L349.0 279.3 L349.5 279.3 L350.0 279.3 L350.5 279.3 L351.0 279.3 L351.5 279.3 L352.0 279.3 L352.5 279.3 L353.0 279.3 L353.5 279.3 L354.0 279.3 L354.5 279.3 L355.0 279.3 L355.5 279.3 L356.0 279.4 L356.5 279.4 L357.0 279.4 L357.5 279.4 L358.0 279.4 L358.5 279.4 L359.0 279.4 L359.5 279.4 L360.0 279.4 L360.5 279.4 L361.0 279.4 L361.5 279.4 L362.0 279.4 L362.5 279.4 L363.0 279.4 L363.5 279.4 L364.0 279.4 L364.5 279.5 L365.0 279.5 L365.5 279.5 L366.0 279.5 L366.5 279.5 L367.0 279.5 L367.5 279.5 L368.0 279.5 L368.5 279.5 L369.0 279.5 L369.5 279.5 L370.0 279.5 L370.5 279.5 L371.0 279.5 L371.5 279.5 L372.0 279.5 L372.5 279.6 L373.0 279.6 L373.5 279.6 L374.0 279.6 L374.5 279.6 L375.0 279.6 L375.5 279.6 L376.0 279.6 L376.5 279.6 L377.0 279.6 L377.5 279.6 L378.0 279.6 L378.5 279.6 L379.0 279.6 L379.5 279.6 L380.0 279.6 L380.5 279.7 L381.0 279.7 L381.5 279.7 L382.0 279.7 L382.5 279.7 L383.0 279.7 L383.5 279.7 L384.0 279.7 L384.5 279.7 L385.0 279.7 L385.5 279.7 L386.0 279.7 L386.5 279.7 L387.0 279.7 L387.5 279.7 L388.0 279.8 L388.5 279.8 L389.0 279.8 L389.5 279.8 L390.0 279.8 L390.5 279.8 L391.0 279.8 L391.5 279.8 L392.0 279.8 L392.5 279.8 L393.0 279.8 L393.5 279.8 L394.0 279.8 L394.5 279.8 L395.0 279.9 L395.5 279.9 L396.0 279.9 L396.5 279.9 L397.0 279.9 L397.5 279.9 L398.0 279.9 L398.5 279.9 L399.0 279.9 L399.5 279.9 L400.0 279.9 L400.5 279.9 L401.0 279.9 L401.5 280.0 L402.0 280.0 L402.5 280.0 L403.0 280.0 L403.5 280.1 L404.0 280.2 L404.5 280.3 L405.0 280.5 L405.5 280.9 L406.0 281.4 L406.5 282.2 L407.0 283.3 L407.5 284.7 L408.0 286.5 L408.5 288.7 L409.0 291.1 L409.5 293.7 L410.0 296.3 L410.5 298.6 L411.0 300.5 L411.5 301.7 L412.0 302.1 L412.5 301.7 L413.0 300.5 L413.5 298.7 L414.0 296.4 L414.5 293.8 L415.0 291.2 L415.5 288.8 L416.0 286.7 L416.5 284.9 L417.0 283.5 L417.5 282.4 L418.0 281.7 L418.5 281.2 L419.0 281.0 L419.5 280.9 L420.0 281.0 L420.5 281.2 L421.0 281.5 L421.5 282.0 L422.0 282.5 L422.5 283.2 L423.0 283.9 L423.5 284.6 L424.0 285.3 L424.5 285.8 L425.0 286.2 L425.5 286.4 L426.0 286.3 L426.5 286.0 L427.0 285.6 L427.5 285.0 L428.0 284.3 L428.5 283.6 L429.0 282.9 L429.5 282.3 L430.0 281.8 L430.5 281.4 L431.0 281.1 L431.5 280.9 L432.0 280.8 L432.5 280.7 L433.0 280.6 L433.5 280.6 L434.0 280.6 L434.5 280.6 L435.0 280.6 L435.5 280.6 L436.0 280.6 L436.5 280.6 L437.0 280.6 L437.5 280.7 L438.0 280.7 L438.5 280.7 L439.0 280.7 L439.5 280.7 L440.0 280.7 L440.5 280.7 L441.0 280.7 L441.5 280.8 L442.0 280.8 L442.5 280.8 L443.0 280.8 L443.5 280.8 L444.0 280.8 L444.5 280.8 L445.0 280.8 L445.5 280.9 L446.0 280.9 L446.5 280.9 L447.0 280.9 L447.5 280.9 L448.0 280.9 L448.5 280.9 L449.0 281.0 L449.5 281.0 L450.0 281.0 L450.5 281.0 L451.0 281.0 L451.5 281.0 L452.0 281.0 L452.5 281.1 L453.0 281.1 L453.5 281.1 L454.0 281.1 L454.5 281.1 L455.0 281.1 L455.5 281.2 L456.0 281.2 L456.5 281.2 L457.0 281.2 L457.5 281.2 L458.0 281.2 L458.5 281.2 L459.0 281.3 L459.5 281.3 L460.0 281.3 L460.5 281.3 L461.0 281.3 L461.5 281.3 L462.0 281.4 L462.5 281.4 L463.0 281.4 L463.5 281.4 L464.0 281.4 L464.5 281.4 L465.0 281.5 L465.5 281.5 L466.0 281.5 L466.5 281.5 L467.0 281.5 L467.5 281.6 L468.0 281.6 L468.5 281.6 L469.0 281.6 L469.5 281.6 L470.0 281.7 L470.5 281.7 L471.0 281.7 L471.5 281.7 L472.0 281.7 L472.5 281.8 L473.0 281.8 L473.5 281.8 L474.0 281.8 L474.5 281.8 L475.0 281.9 L475.5 281.9 L476.0 281.9 L476.5 281.9 L477.0 281.9 L477.5 282.0 L478.0 282.0 L478.5 282.0 L479.0 282.0 L479.5 282.1 L480.0 282.1 L480.5 282.1 L481.0 282.1 L481.5 282.1 L482.0 282.2 L482.5 282.2 L483.0 282.2 L483.5 282.2 L484.0 282.3 L484.5 282.3 L485.0 282.3 L485.5 282.4 L486.0 282.4 L486.5 282.4 L487.0 282.5 L487.5 282.5 L488.0 282.6 L488.5 282.7 L489.0 282.8 L489.5 283.0 L490.0 283.2 L490.5 283.5 L491.0 283.8 L491.5 284.1 L492.0 284.5 L492.5 284.8 L493.0 285.1 L493.5 285.3 L494.0 285.3 L494.5 285.3 L495.0 285.2 L495.5 285.0 L496.0 284.7 L496.5 284.5 L497.0 284.2 L497.5 284.0 L498.0 283.8 L498.5 283.7 L499.0 283.6 L499.5 283.7 L500.0 283.8 L500.5 283.9 L501.0 284.2 L501.5 284.5 L502.0 284.8 L502.5 285.2 L503.0 285.7 L503.5 286.2 L504.0 286.6 L504.5 287.0 L505.0 287.3 L505.5 287.6 L506.0 287.7 L506.5 287.6 L507.0 287.5 L507.5 287.2 L508.0 286.9 L508.5 286.5 L509.0 286.2 L509.5 285.8 L510.0 285.4 L510.5 285.1 L511.0 284.9 L511.5 284.7 L512.0 284.6 L512.5 284.5 L513.0 284.4 L513.5 284.4 L514.0 284.4 L514.5 284.5 L515.0 284.5 L515.5 284.5 L516.0 284.6 L516.5 284.6 L517.0 284.7 L517.5 284.7 L518.0 284.8 L518.5 284.9 L519.0 284.9 L519.5 285.0 L520.0 285.0 L520.5 285.1 L521.0 285.2 L521.5 285.2 L522.0 285.3 L522.5 285.4 L523.0 285.4 L523.5 285.5 L524.0 285.6 L524.5 285.7 L525.0 285.7 L525.5 285.8 L526.0 285.9 L526.5 286.0 L527.0 286.1 L527.5 286.1 L528.0 286.2 L528.5 286.3 L529.0 286.4 L529.5 286.5 L530.0 286.6 L530.5 286.7 L531.0 286.8 L531.5 286.9 L532.0 287.0 L532.5 287.1 L533.0 287.2 L533.5 287.3 L534.0 287.4 L534.5 287.5 L535.0 287.7 L535.5 287.8 L536.0 287.9 L536.5 288.0 L537.0 288.2 L537.5 288.3 L538.0 288.4 L538.5 288.6 L539.0 288.7 L539.5 288.8 L540.0 289.0 L540.5 289.2 L541.0 289.4 L541.5 289.6 L542.0 289.9 L542.5 290.2 L543.0 290.6 L543.5 291.2 L544.0 292.0 L544.5 292.9 L545.0 293.9 L545.5 295.2 L546.0 296.5 L546.5 297.8 L547.0 299.0 L547.5 300.0 L548.0 300.7 L548.5 301.0 L549.0 301.0 L549.5 300.6 L550.0 299.9 L550.5 299.1 L551.0 298.2 L551.5 297.3 L552.0 296.6 L552.5 296.0 L553.0 295.6 L553.5 295.4 L554.0 295.3 L554.5 295.3 L555.0 295.5 L555.5 295.6 L556.0 295.9 L556.5 296.1 L557.0 296.4 L557.5 296.7 L558.0 297.0 L558.5 297.3 L559.0 297.7 L559.5 298.0 L560.0 298.3 L560.5 298.6 L561.0 299.0 L561.5 299.3 L562.0 299.7 L562.5 300.1 L563.0 300.5 L563.5 300.9 L564.0 301.3 L564.5 301.7 L565.0 302.2 L565.5 302.8 L566.0 303.3 L566.5 304.0 L567.0 304.7 L567.5 305.5 L568.0 306.4 L568.5 307.4 L569.0 308.6 L569.5 309.9 L570.0 311.4 L570.5 313.1 L571.0 315.0 L571.5 317.1 L572.0 319.4 L572.5 322.0 L573.0 324.7 L573.5 327.6 L574.0 330.6 L574.5 333.7 L575.0 337.0 L575.5 340.2 L576.0 343.4 L576.5 346.4 L577.0 349.3 L577.5 352.0 L578.0 354.3 L578.5 356.3 L579.0 357.8 L579.5 358.8 L580.0 359.4 L580.5 359.5 L581.0 359.0 L581.5 358.0 L582.0 356.6 L582.5 354.7 L583.0 352.5 L583.5 349.9 L584.0 347.0 L584.5 344.0 L585.0 340.8 L585.5 337.6 L586.0 334.4 L586.5 331.2 L587.0 328.1 L587.5 325.2 L588.0 322.4 L588.5 319.9 L589.0 317.5 L589.5 315.4 L590.0 313.5 L590.5 311.7 L591.0 310.2 L591.5 308.8 L592.0 307.6 L592.5 306.6 L593.0 305.6 L593.5 304.8 L594.0 304.1 L594.5 303.4 L595.0 302.8 L595.5 302.3 L596.0 301.8 L596.5 301.3 L597.0 300.9 L597.5 300.5 L598.0 300.1 L598.5 299.7 L599.0 299.3 L599.5 299.0 L600.0 298.6 L600.5 298.3 L601.0 298.0 L601.5 297.6 L602.0 297.3 L602.5 297.0 L603.0 296.7 L603.5 296.4 L604.0 296.1 L604.5 295.8 L605.0 295.5 L605.5 295.2 L606.0 294.9 L606.5 294.6 L607.0 294.4 L607.5 294.1 L608.0 293.8 L608.5 293.6 L609.0 293.3 L609.5 293.1 L610.0 292.9 L610.5 292.6 L611.0 292.4 L611.5 292.2 L612.0 291.9 L612.5 291.7 L613.0 291.5 L613.5 291.3 L614.0 291.1 L614.5 290.9 L615.0 290.7 L615.5 290.5 L616.0 290.3 L616.5 290.2 L617.0 290.0 L617.5 289.8 L618.0 289.6 L618.5 289.5 L619.0 289.3 L619.5 289.2 L620.0 289.0 L620.5 288.8 L621.0 288.7 L621.5 288.5 L622.0 288.4 L622.5 288.3 L623.0 288.1 L623.5 288.0 L624.0 287.9 L624.5 287.7 L625.0 287.6 L625.5 287.5 L626.0 287.4 L626.5 287.3 L627.0 287.1 L627.5 287.0 L628.0 286.9 L628.5 286.8 L629.0 286.7 L629.5 286.6 L630.0 286.5 L630.5 286.4 L631.0 286.3 L631.5 286.2 L632.0 286.1 L632.5 286.0 L633.0 285.9 L633.5 285.9 L634.0 285.8 L634.5 285.7 L635.0 285.6 L635.5 285.5 L636.0 285.4 L636.5 285.4 L637.0 285.3 L637.5 285.2 L638.0 285.2 L638.5 285.1 L639.0 285.1 L639.5 285.0 L640.0 285.1 L640.5 285.1 L641.0 285.3 L641.5 285.6 L642.0 286.1 L642.5 286.8 L643.0 287.7 L643.5 288.9 L644.0 290.3 L644.5 291.9 L645.0 293.4 L645.5 294.9 L646.0 296.1 L646.5 296.8 L647.0 297.0 L647.5 296.7 L648.0 295.9 L648.5 294.6 L649.0 293.0 L649.5 291.4 L650.0 289.7 L650.5 288.2 L651.0 286.9 L651.5 285.9 L652.0 285.1 L652.5 284.5 L653.0 284.1 L653.5 283.8 L654.0 283.6 L654.5 283.5 L655.0 283.4 L655.5 283.3 L656.0 283.3 L656.5 283.2 L657.0 283.2 L657.5 283.1 L658.0 283.1 L658.5 283.1 L659.0 283.0 L659.5 283.0 L660.0 283.0 L660.5 282.9 L661.0 282.9 L661.5 282.9 L662.0 282.8 L662.5 282.8 L663.0 282.8 L663.5 282.7 L664.0 282.7 L664.5 282.7 L665.0 282.6 L665.5 282.6 L666.0 282.6 L666.5 282.6 L667.0 282.5 L667.5 282.5 L668.0 282.5 L668.5 282.5 L669.0 282.4 L669.5 282.4 L670.0 282.4 L670.5 282.3 L671.0 282.3 L671.5 282.3 L672.0 282.3 L672.5 282.3 L673.0 282.2 L673.5 282.2 L674.0 282.2 L674.5 282.2 L675.0 282.3 L675.5 282.4 L676.0 282.5 L676.5 282.7 L677.0 282.9 L677.5 283.2 L678.0 283.6 L678.5 284.0 L679.0 284.4 L679.5 284.8 L680.0 285.1 L680.5 285.3 L681.0 285.4 L681.5 285.3 L682.0 285.1 L682.5 284.7 L683.0 284.3 L683.5 283.8 L684.0 283.4 L684.5 283.0 L685.0 282.6 L685.5 282.3 L686.0 282.1 L686.5 282.0 L687.0 281.8 L687.5 281.8 L688.0 281.7 L688.5 281.7 L689.0 281.6 L689.5 281.6 L690.0 281.6 L690.5 281.6 L691.0 281.6 L691.5 281.5 L692.0 281.5 L692.5 281.5 L693.0 281.5 L693.5 281.5 L694.0 281.5 L694.5 281.5 L695.0 281.4 L695.5 281.4 L696.0 281.4 L696.5 281.4 L697.0 281.4 L697.5 281.4 L698.0 281.5 L698.5 281.6 L699.0 281.7 L699.5 281.9 L700.0 282.2 L700.5 282.7 L701.0 283.3 L701.5 284.1 L702.0 285.0 L702.5 286.1 L703.0 287.2 L703.5 288.4 L704.0 289.5 L704.5 290.3 L705.0 290.9 L705.5 291.2 L706.0 291.1 L706.5 290.6 L707.0 289.8 L707.5 288.8 L708.0 287.6 L708.5 286.4 L709.0 285.3 L709.5 284.3 L710.0 283.4 L710.5 282.7 L711.0 282.2 L711.5 281.8 L712.0 281.5 L712.5 281.3 L713.0 281.2 L713.5 281.2 L714.0 281.1 L714.5 281.1 L715.0 281.1 L715.5 281.0 L716.0 281.0 L716.5 281.0 L717.0 281.0 L717.5 281.0 L718.0 281.0 L718.5 281.0 L719.0 281.0 L719.5 281.0 L720.0 281.0 L720.5 281.0 L721.0 281.0 L721.5 281.0 L722.0 280.9 L722.5 280.9 L723.0 280.9 L723.5 280.9 L724.0 280.9 L724.5 280.9 L725.0 280.9 L725.5 280.9 L726.0 280.9 L726.5 280.9 L727.0 280.9 L727.5 280.9 L728.0 280.9 L728.5 280.9 L729.0 280.9 L729.5 280.9 L730.0 280.9 L730.5 280.8 L731.0 280.8 L731.5 280.8 L732.0 280.8 L732.5 280.8 L733.0 280.8 L733.5 280.8 L734.0 280.8 L734.5 280.8 L735.0 280.8 L735.5 280.8 L736.0 280.8 L736.5 280.8 L737.0 280.8 L737.5 280.8 L738.0 280.8 L738.5 280.8 L739.0 280.8 L739.5 280.8 L740.0 280.7 L740.5 280.7 L741.0 280.7 L741.5 280.7 L742.0 280.7 L742.5 280.7 L743.0 280.7 L743.5 280.7 L744.0 280.7 L744.5 280.7 L745.0 280.7 L745.5 280.7 L746.0 280.7 L746.5 280.7 L747.0 280.7 L747.5 280.7 L748.0 280.7 L748.5 280.7 L749.0 280.7 L749.5 280.7 L750.0 280.7 L750.5 280.7 L751.0 280.7 L751.5 280.7 L752.0 280.7 L752.5 280.6 L753.0 280.6 L753.5 280.6 L754.0 280.6 L754.5 280.6 L755.0 280.6 L755.5 280.6 L756.0 280.6 L756.5 280.6 L757.0 280.6 L757.5 280.6 L758.0 280.6 L758.5 280.6 L759.0 280.6 L759.5 280.6 L760.0 280.6 L760.5 280.6 L761.0 280.6 L761.5 280.6 L762.0 280.7 L762.5 280.7 L763.0 280.8 L763.5 280.9 L764.0 281.0 L764.5 281.1 L765.0 281.3 L765.5 281.5 L766.0 281.7 L766.5 281.9 L767.0 282.1 L767.5 282.3 L768.0 282.4 L768.5 282.5 L769.0 282.5 L769.5 282.5 L770.0 282.4 L770.5 282.3 L771.0 282.1 L771.5 281.9 L772.0 281.7 L772.5 281.4 L773.0 281.2 L773.5 281.1 L774.0 280.9 L774.5 280.8 L775.0 280.7 L775.5 280.6 L776.0 280.6 L776.5 280.6 L777.0 280.5 L777.5 280.5 L778.0 280.5 L778.5 280.5 L779.0 280.5 L779.5 280.5 L780.0 280.5 L780.5 280.5 L781.0 280.5 L781.5 280.5 L782.0 280.5 L782.5 280.5 L783.0 280.5 L783.5 280.5 L784.0 280.5 L784.5 280.5 L785.0 280.5 L785.5 280.5 L786.0 280.5 L786.5 280.5 L787.0 280.5 L787.5 280.5 L788.0 280.4 L788.5 280.4 L789.0 280.4 L789.5 280.4 L790.0 280.4 L790.5 280.4 L791.0 280.4 L791.5 280.4 L792.0 280.4 L792.5 280.4 L793.0 280.4 L793.5 280.4 L794.0 280.4 L794.5 280.4 L795.0 280.4 L795.5 280.4 L796.0 280.4 L796.5 280.4 L797.0 280.4 L797.5 280.4 L798.0 280.4 L798.5 280.4 L799.0 280.4 L799.5 280.4 L800.0 280.4 L800.5 280.4 L801.0 280.4 L801.5 280.4 L802.0 280.4 L802.5 280.4 L803.0 280.4 L803.5 280.4 L804.0 280.4 L804.5 280.4 L805.0 280.4 L805.5 280.4 L806.0 280.4 L806.5 280.4 L807.0 280.4 L807.5 280.4 L808.0 280.4 L808.5 280.4 L809.0 280.4 L809.5 280.4 L810.0 280.4 L810.5 280.4 L811.0 280.4 L811.5 280.4 L812.0 280.4 L812.5 280.4 L813.0 280.4 L813.5 280.4 L814.0 280.5 L814.5 280.5 L815.0 280.6 L815.5 280.8 L816.0 281.0 L816.5 281.2 L817.0 281.6 L817.5 282.0 L818.0 282.5 L818.5 283.1 L819.0 283.7 L819.5 284.4 L820.0 285.0 L820.5 285.5 L821.0 286.0 L821.5 286.2 L822.0 286.3 L822.5 286.2 L823.0 286.0 L823.5 285.5 L824.0 285.0 L824.5 284.4 L825.0 283.7 L825.5 283.1 L826.0 282.5 L826.5 282.0 L827.0 281.5 L827.5 281.2 L828.0 280.9 L828.5 280.7 L829.0 280.6 L829.5 280.5 L830.0 280.4 L830.5 280.4 L831.0 280.3 L831.5 280.3 L832.0 280.3 L832.5 280.3 L833.0 280.3 L833.5 280.3 L834.0 280.3 L834.5 280.3 L835.0 280.3 L835.5 280.3 L836.0 280.3 L836.5 280.3 L837.0 280.3 L837.5 280.3 L838.0 280.3 L838.5 280.3 L839.0 280.3 L839.5 280.3 L840.0 280.3 L840.5 280.3 L841.0 280.3 L841.5 280.3 L842.0 280.3 L842.5 280.3 L843.0 280.3 L843.5 280.3 L844.0 280.3 L844.5 280.3 L845.0 280.3 L845.5 280.3 L846.0 280.3 L846.5 280.3 L847.0 280.3 L847.5 280.3 L848.0 280.3 L848.5 280.3 L849.0 280.3 L849.5 280.3 L850.0 280.3 L850.5 280.3 L851.0 280.3 L851.5 280.3 L852.0 280.3 L852.5 280.3 L853.0 280.3 L853.5 280.3 L854.0 280.3 L854.5 280.3 L855.0 280.3 L855.5 280.3 L856.0 280.3 L856.5 280.3 L857.0 280.3 L857.5 280.3 L858.0 280.3 L858.5 280.3 L859.0 280.3 L859.5 280.2 L860.0 280.2 L860.5 280.2 L861.0 280.2 L861.5 280.2 L862.0 280.2 L862.5 280.2 L863.0 280.2 L863.5 280.2 L864.0 280.2 L864.5 280.2 L865.0 280.2 L865.5 280.2 L866.0 280.2 L866.5 280.2 L867.0 280.2 L867.5 280.2 L868.0 280.2 L868.5 280.2 L869.0 280.2 L869.5 280.2 L870.0 280.2 L870.5 280.2 L871.0 280.2 L871.5 280.2 L872.0 280.2 L872.5 280.2 L873.0 280.2 L873.5 280.2 L874.0 280.2 L874.5 280.2 L875.0 280.2 L875.5 280.2 L876.0 280.2 L876.5 280.2 L877.0 280.2 L877.5 280.2 L878.0 280.2 L878.5 280.2 L879.0 280.3 L879.5 280.3 L880.0 280.4 L880.5 280.5 L881.0 280.8 L881.5 281.1 L882.0 281.7 L882.5 282.5 L883.0 283.6 L883.5 285.1 L884.0 287.0 L884.5 289.2 L885.0 291.8 L885.5 294.5 L886.0 297.2 L886.5 299.6 L887.0 301.5 L887.5 302.8 L888.0 303.2 L888.5 302.8 L889.0 301.5 L889.5 299.6 L890.0 297.2 L890.5 294.5 L891.0 291.8 L891.5 289.3 L892.0 287.1 L892.5 285.4 L893.0 284.1 L893.5 283.2 L894.0 282.9 L894.5 283.0 L895.0 283.6 L895.5 284.6 L896.0 286.0 L896.5 287.8 L897.0 289.8 L897.5 292.0 L898.0 294.2 L898.5 296.2 L899.0 297.8 L899.5 298.8 L900.0 299.2" stroke="#f00"/>
</g>
<path d="M126.5 403.5v-3.0M126.5 266.5v3.0M146.5 403.5v-5.9M146.5 266.5v5.9M166.5 403.5v-3.0M166.5 266.5v3.0M187.5 403.5v-3.0M187.5 266.5v3.0M207.5 403.5v-3.0M207.5 266.5v3.0M228.5 403.5v-3.0M228.5 266.5v3.0M248.5 403.5v-5.9M248.5 266.5v5.9M268.5 403.5v-3.0M268.5 266.5v3.0M289.5 403.5v-3.0M289.5 266.5v3.0M309.5 403.5v-3.0M309.5 266.5v3.0M330.5 403.5v-3.0M330.5 266.5v3.0M350.5 403.5v-5.9M350.5 266.5v5.9M370.5 403.5v-3.0M370.5 266.5v3.0M391.5 403.5v-3.0M391.5 266.5v3.0M411.5 403.5v-3.0M411.5 266.5v3.0M432.5 403.5v-3.0M432.5 266.5v3.0M452.5 403.5v-5.9M452.5 266.5v5.9M473.5 403.5v-3.0M473.5 266.5v3.0M493.5 403.5v-3.0M493.5 266.5v3.0M513.5 403.5v-3.0M513.5 266.5v3.0M534.5 403.5v-3.0M534.5 266.5v3.0M554.5 403.5v-5.9M554.5 266.5v5.9M575.5 403.5v-3.0M575.5 266.5v3.0M595.5 403.5v-3.0M595.5 266.5v3.0M615.5 403.5v-3.0M615.5 266.5v3.0M636.5 403.5v-3.0M636.5 266.5v3.0M656.5 403.5v-5.9M656.5 266.5v5.9M677.5 403.5v-3.0M677.5 266.5v3.0M697.5 403.5v-3.0M697.5 266.5v3.0M717.5 403.5v-3.0M717.5 266.5v3.0M738.5 403.5v-3.0M738.5 266.5v3.0M758.5 403.5v-5.9M758.5 266.5v5.9M779.5 403.5v-3.0M779.5 266.5v3.0M799.5 403.5v-3.0M799.5 266.5v3.0M819.5 403.5v-3.0M819.5 266.5v3.0M840.5 403.5v-3.0M840.5 266.5v3.0M860.5 403.5v-5.9M860.5 266.5v5.9M125.5 403.5h5.9M900.5 403.5h-5.9M125.5 398.5h3.0M900.5 398.5h-3.0M125.5 393.5h3.0M900.5 393.5h-3.0M125.5 388.5h3.0M900.5 388.5h-3.0M125.5 383.5h3.0M900.5 383.5h-3.0M125.5 378.5h5.9M900.5 378.5h-5.9M125.5 373.5h3.0M900.5 373.5h-3.0M125.5 367.5h3.0M900.5 367.5h-3.0M125.5 362.5h3.0M900.5 362.5h-3.0M125.5 357.5h3.0M900.5 357.5h-3.0M125.5 352.5h5.9M900.5 352.5h-5.9M125.5 347.5h3.0M900.5 347.5h-3.0M125.5 342.5h3.0M900.5 342.5h-3.0M125.5 336.5h3.0M900.5 336.5h-3.0M125.5 331.5h3.0M900.5 331.5h-3.0M125.5 326.5h5.9M900.5 326.5h-5.9M125.5 321.5h3.0M900.5 321.5h-3.0M125.5 316.5h3.0M900.5 316.5h-3.0M125.5 311.5h3.0M900.5 311.5h-3.0M125.5 306.5h3.0M900.5 306.5h-3.0M125.5 300.5h5.9M900.5 300.5h-5.9M125.5 295.5h3.0M900.5 295.5h-3.0M125.5 290.5h3.0M900.5 290.5h-3.0M125.5 285.5h3.0M900.5 285.5h-3.0M125.5 280.5h3.0M900.5 280.5h-3.0M125.5 275.5h5.9M900.5 275.5h-5.9" stroke="#000" stroke-width="0.85" fill="none"/>
<rect x="125.5" y="266.5" width="775.0" height="137.0" fill="none" stroke="#000" stroke-width="1.45"/>
<g font-family="Liberation Sans, sans-serif" font-size="16.67" fill="#000">
<text x="145.6" y="420.0" text-anchor="middle">6520</text>
<text x="247.6" y="420.0" text-anchor="middle">6530</text>
<text x="349.7" y="420.0" text-anchor="middle">6540</text>
<text x="451.7" y="420.0" text-anchor="middle">6550</text>
<text x="553.7" y="420.0" text-anchor="middle">6560</text>
<text x="655.8" y="420.0" text-anchor="middle">6570</text>
<text x="757.8" y="420.0" text-anchor="middle">6580</text>
<text x="859.8" y="420.0" text-anchor="middle">6590</text>
<text x="119.4" y="407.9" text-anchor="end">0</text>
<text x="119.4" y="382.9" text-anchor="end">1000</text>
<text x="119.4" y="356.9" text-anchor="end">2000</text>
<text x="119.4" y="330.9" text-anchor="end">3000</text>
<text x="119.4" y="304.9" text-anchor="end">4000</text>
<text x="119.4" y="279.9" text-anchor="end">5000</text>
</g>
<g clip-path="url(#c2)" fill="none" stroke-linejoin="round" stroke-width="1.55">
<path d="M125.0 449.0 L126.0 445.8 L127.0 442.1 L128.0 439.2 L129.0 439.0 L130.0 439.3 L131.0 439.4 L132.0 439.2 L133.0 439.5 L134.0 438.6 L135.0 438.6 L136.0 440.2 L137.0 441.4 L138.0 441.7 L139.0 440.2 L140.0 439.1 L141.0 438.4 L142.0 438.2 L143.0 439.4 L144.0 438.0 L145.0 437.6 L146.0 439.1 L147.0 440.3 L148.0 439.4 L149.0 437.6 L150.0 438.2 L151.0 439.8 L152.0 439.4 L153.0 439.3 L154.0 440.7 L155.0 442.8 L156.0 445.1 L157.0 444.2 L158.0 444.4 L159.0 444.5 L160.0 443.0 L161.0 442.8 L162.0 442.9 L163.0 442.6 L164.0 440.7 L165.0 439.2 L166.0 440.3 L167.0 440.4 L168.0 439.4 L169.0 440.5 L170.0 441.5 L171.0 442.0 L172.0 441.7 L173.0 440.0 L174.0 440.1 L175.0 441.9 L176.0 442.1 L177.0 441.9 L178.0 442.0 L179.0 441.5 L180.0 439.7 L181.0 439.7 L182.0 438.4 L183.0 438.0 L184.0 438.1 L185.0 440.6 L186.0 441.4 L187.0 441.2 L188.0 441.6 L189.0 440.4 L190.0 440.1 L191.0 440.0 L192.0 439.3 L193.0 440.5 L194.0 440.9 L195.0 439.9 L196.0 439.8 L197.0 440.2 L198.0 441.1 L199.0 440.9 L200.0 440.5 L201.0 440.5 L202.0 439.0 L203.0 438.6 L204.0 439.4 L205.0 438.9 L206.0 439.3 L207.0 439.9 L208.0 439.1 L209.0 440.4 L210.0 441.2 L211.0 440.1 L212.0 437.9 L213.0 436.4 L214.0 437.5 L215.0 438.5 L216.0 438.2 L217.0 438.8 L218.0 439.7 L219.0 439.4 L220.0 439.5 L221.0 439.7 L222.0 439.1 L223.0 440.0 L224.0 441.8 L225.0 441.2 L226.0 439.6 L227.0 441.0 L228.0 442.9 L229.0 444.6 L230.0 445.8 L231.0 446.9 L232.0 448.6 L233.0 450.2 L234.0 448.7 L235.0 445.7 L236.0 443.2 L237.0 441.9 L238.0 441.3 L239.0 440.3 L240.0 440.7 L241.0 441.5 L242.0 441.5 L243.0 441.5 L244.0 442.0 L245.0 442.0 L246.0 441.7 L247.0 440.5 L248.0 439.6 L249.0 440.6 L250.0 441.5 L251.0 442.1 L252.0 442.1 L253.0 442.0 L254.0 442.6 L255.0 444.5 L256.0 446.4 L257.0 445.1 L258.0 442.5 L259.0 441.9 L260.0 440.9 L261.0 440.5 L262.0 441.2 L263.0 440.2 L264.0 439.4 L265.0 441.1 L266.0 442.7 L267.0 443.8 L268.0 444.0 L269.0 442.8 L270.0 442.6 L271.0 442.3 L272.0 441.5 L273.0 442.4 L274.0 442.5 L275.0 444.2 L276.0 447.6 L277.0 450.1 L278.0 452.4 L279.0 453.4 L280.0 451.6 L281.0 449.7 L282.0 447.6 L283.0 447.1 L284.0 445.4 L285.0 439.4 L286.0 430.3 L287.0 431.1 L288.0 431.8 L289.0 433.8 L290.0 438.7 L291.0 439.2 L292.0 440.4 L293.0 439.6 L294.0 440.1 L295.0 440.4 L296.0 439.7 L297.0 439.7 L298.0 439.5 L299.0 439.2 L300.0 438.4 L301.0 438.4 L302.0 440.5 L303.0 441.9 L304.0 442.1 L305.0 442.8 L306.0 442.2 L307.0 440.5 L308.0 439.9 L309.0 438.4 L310.0 438.3 L311.0 439.3 L312.0 440.2 L313.0 440.0 L314.0 439.1 L315.0 438.2 L316.0 438.1 L317.0 439.4 L318.0 440.9 L319.0 442.1 L320.0 444.7 L321.0 449.1 L322.0 450.4 L323.0 449.0 L324.0 447.6 L325.0 446.9 L326.0 447.4 L327.0 448.5 L328.0 449.8 L329.0 450.9 L330.0 450.4 L331.0 449.3 L332.0 448.4 L333.0 448.6 L334.0 448.2 L335.0 447.4 L336.0 446.5 L337.0 444.4 L338.0 442.8 L339.0 440.7 L340.0 440.0 L341.0 438.6 L342.0 436.1 L343.0 434.5 L344.0 435.4 L345.0 437.4 L346.0 439.2 L347.0 440.4 L348.0 441.3 L349.0 441.3 L350.0 440.2 L351.0 437.4 L352.0 438.9 L353.0 440.0 L354.0 440.1 L355.0 441.2 L356.0 441.2 L357.0 440.7 L358.0 442.1 L359.0 443.2 L360.0 441.8 L361.0 440.7 L362.0 440.3 L363.0 440.0 L364.0 439.4 L365.0 440.9 L366.0 442.9 L367.0 442.7 L368.0 441.6 L369.0 442.2 L370.0 442.5 L371.0 442.4 L372.0 442.9 L373.0 442.5 L374.0 441.8 L375.0 441.5 L376.0 439.3 L377.0 439.8 L378.0 440.8 L379.0 440.6 L380.0 440.7 L381.0 440.3 L382.0 441.6 L383.0 444.1 L384.0 443.1 L385.0 441.9 L386.0 441.6 L387.0 441.2 L388.0 441.5 L389.0 441.9 L390.0 440.9 L391.0 439.6 L392.0 440.4 L393.0 440.4 L394.0 439.6 L395.0 440.6 L396.0 440.2 L397.0 441.7 L398.0 441.7 L399.0 441.0 L400.0 440.9 L401.0 440.6 L402.0 439.1 L403.0 439.7 L404.0 440.1 L405.0 440.7 L406.0 440.8 L407.0 441.0 L408.0 440.2 L409.0 442.1 L410.0 442.3 L411.0 440.6 L412.0 439.9 L413.0 440.6 L414.0 441.5 L415.0 442.1 L416.0 440.0 L417.0 439.6 L418.0 439.0 L419.0 438.3 L420.0 438.9 L421.0 440.4 L422.0 440.4 L423.0 442.1 L424.0 441.6 L425.0 440.2 L426.0 439.8 L427.0 440.7 L428.0 441.1 L429.0 439.6 L430.0 438.7 L431.0 440.3 L432.0 440.4 L433.0 440.9 L434.0 442.1 L435.0 442.4 L436.0 441.9 L437.0 441.3 L438.0 441.6 L439.0 441.9 L440.0 440.7 L441.0 441.3 L442.0 440.9 L443.0 440.4 L444.0 440.9 L445.0 442.6 L446.0 442.0 L447.0 442.1 L448.0 441.6 L449.0 439.0 L450.0 438.6 L451.0 440.5 L452.0 441.9 L453.0 441.8 L454.0 441.8 L455.0 441.6 L456.0 440.0 L457.0 441.2 L458.0 442.6 L459.0 440.8 L460.0 439.5 L461.0 441.1 L462.0 442.3 L463.0 444.1 L464.0 444.9 L465.0 444.9 L466.0 444.8 L467.0 446.1 L468.0 446.6 L469.0 444.5 L470.0 441.6 L471.0 440.4 L472.0 439.1 L473.0 440.2 L474.0 441.0 L475.0 440.6 L476.0 440.9 L477.0 441.6 L478.0 441.7 L479.0 441.3 L480.0 440.2 L481.0 438.3 L482.0 438.3 L483.0 440.0 L484.0 440.6 L485.0 441.3 L486.0 441.6 L487.0 440.4 L488.0 440.3 L489.0 440.8 L490.0 440.9 L491.0 441.0 L492.0 440.7 L493.0 441.6 L494.0 441.4 L495.0 442.1 L496.0 442.3 L497.0 442.2 L498.0 441.1 L499.0 442.2 L500.0 442.5 L501.0 443.1 L502.0 443.2 L503.0 441.0 L504.0 440.2 L505.0 440.8 L506.0 440.7 L507.0 439.8 L508.0 440.2 L509.0 439.8 L510.0 440.2 L511.0 441.4 L512.0 442.2 L513.0 441.2 L514.0 441.3 L515.0 441.7 L516.0 440.9 L517.0 439.4 L518.0 440.3 L519.0 441.8 L520.0 443.9 L521.0 445.4 L522.0 445.0 L523.0 444.3 L524.0 445.0 L525.0 447.9 L526.0 451.3 L527.0 453.2 L528.0 453.4 L529.0 455.4 L530.0 457.6 L531.0 457.7 L532.0 454.5 L533.0 451.0 L534.0 448.2 L535.0 446.4 L536.0 445.0 L537.0 444.7 L538.0 444.4 L539.0 444.2 L540.0 444.0 L541.0 443.0 L542.0 442.9 L543.0 442.7 L544.0 443.8 L545.0 444.8 L546.0 443.6 L547.0 442.2 L548.0 443.0 L549.0 442.9 L550.0 442.1 L551.0 442.6 L552.0 444.0 L553.0 443.1 L554.0 437.9 L555.0 437.7 L556.0 440.4 L557.0 439.7 L558.0 440.5 L559.0 441.2 L560.0 440.9 L561.0 439.9 L562.0 440.9 L563.0 442.5 L564.0 443.4 L565.0 443.0 L566.0 442.5 L567.0 443.3 L568.0 442.5 L569.0 440.9 L570.0 441.8 L571.0 442.0 L572.0 442.1 L573.0 442.3 L574.0 442.7 L575.0 442.0 L576.0 441.6 L577.0 442.3 L578.0 441.6 L579.0 441.7 L580.0 442.2 L581.0 441.5 L582.0 441.0 L583.0 440.3 L584.0 439.9 L585.0 441.1 L586.0 442.5 L587.0 442.1 L588.0 442.7 L589.0 443.7 L590.0 445.7 L591.0 447.9 L592.0 447.7 L593.0 445.2 L594.0 443.8 L595.0 441.9 L596.0 440.7 L597.0 440.4 L598.0 440.7 L599.0 441.8 L600.0 442.2 L601.0 441.8 L602.0 441.0 L603.0 440.5 L604.0 441.1 L605.0 441.5 L606.0 442.8 L607.0 443.2 L608.0 442.8 L609.0 441.6 L610.0 440.9 L611.0 443.2 L612.0 442.9 L613.0 440.8 L614.0 441.6 L615.0 442.1 L616.0 441.3 L617.0 442.1 L618.0 440.6 L619.0 440.8 L620.0 442.1 L621.0 442.1 L622.0 441.6 L623.0 441.6 L624.0 441.3 L625.0 443.8 L626.0 445.4 L627.0 448.8 L628.0 452.8 L629.0 457.1 L630.0 459.0 L631.0 457.7 L632.0 455.8 L633.0 451.5 L634.0 447.1 L635.0 443.8 L636.0 441.7 L637.0 441.1 L638.0 442.3 L639.0 442.7 L640.0 443.4 L641.0 442.9 L642.0 441.8 L643.0 440.4 L644.0 441.7 L645.0 442.7 L646.0 442.2 L647.0 442.0 L648.0 442.1 L649.0 439.9 L650.0 436.1 L651.0 440.6 L652.0 447.2 L653.0 443.6 L654.0 441.7 L655.0 442.6 L656.0 443.2 L657.0 443.4 L658.0 442.5 L659.0 442.1 L660.0 442.7 L661.0 443.9 L662.0 445.5 L663.0 445.1 L664.0 442.7 L665.0 441.9 L666.0 442.1 L667.0 442.3 L668.0 442.5 L669.0 442.5 L670.0 442.6 L671.0 443.1 L672.0 441.9 L673.0 440.6 L674.0 440.1 L675.0 440.5 L676.0 440.6 L677.0 440.7 L678.0 442.4 L679.0 442.6 L680.0 441.6 L681.0 440.4 L682.0 439.6 L683.0 440.8 L684.0 441.9 L685.0 440.0 L686.0 440.7 L687.0 442.3 L688.0 442.4 L689.0 442.4 L690.0 442.8 L691.0 442.4 L692.0 443.8 L693.0 444.2 L694.0 442.1 L695.0 441.4 L696.0 442.9 L697.0 443.4 L698.0 443.7 L699.0 442.6 L700.0 441.2 L701.0 440.9 L702.0 441.7 L703.0 441.8 L704.0 441.6 L705.0 442.1 L706.0 443.2 L707.0 443.1 L708.0 442.4 L709.0 442.4 L710.0 441.6 L711.0 441.3 L712.0 442.4 L713.0 444.5 L714.0 445.5 L715.0 443.7 L716.0 443.0 L717.0 442.9 L718.0 441.3 L719.0 441.3 L720.0 441.1 L721.0 442.4 L722.0 442.9 L723.0 441.8 L724.0 440.9 L725.0 442.6 L726.0 442.3 L727.0 441.7 L728.0 441.5 L729.0 440.1 L730.0 441.5 L731.0 442.5 L732.0 442.2 L733.0 441.7 L734.0 441.5 L735.0 442.2 L736.0 442.6 L737.0 441.8 L738.0 441.9 L739.0 443.1 L740.0 443.5 L741.0 443.1 L742.0 443.6 L743.0 444.4 L744.0 444.3 L745.0 443.0 L746.0 441.8 L747.0 441.7 L748.0 442.3 L749.0 442.8 L750.0 442.6 L751.0 441.7 L752.0 439.5 L753.0 435.0 L754.0 435.3 L755.0 439.1 L756.0 440.1 L757.0 439.1 L758.0 439.9 L759.0 442.0 L760.0 443.9 L761.0 443.4 L762.0 441.8 L763.0 441.0 L764.0 441.3 L765.0 443.0 L766.0 443.1 L767.0 441.1 L768.0 440.4 L769.0 441.0 L770.0 440.1 L771.0 439.5 L772.0 440.9 L773.0 439.9 L774.0 433.3 L775.0 433.7 L776.0 440.9 L777.0 443.6 L778.0 443.3 L779.0 444.5 L780.0 443.1 L781.0 442.2 L782.0 442.6 L783.0 442.1 L784.0 442.5 L785.0 442.7 L786.0 442.9 L787.0 443.0 L788.0 444.0 L789.0 443.9 L790.0 443.4 L791.0 443.3 L792.0 442.6 L793.0 441.4 L794.0 442.3 L795.0 443.0 L796.0 443.2 L797.0 444.4 L798.0 445.6 L799.0 443.9 L800.0 443.3 L801.0 443.8 L802.0 444.7 L803.0 444.1 L804.0 445.5 L805.0 444.5 L806.0 443.1 L807.0 444.0 L808.0 446.2 L809.0 447.1 L810.0 447.6 L811.0 447.5 L812.0 446.2 L813.0 444.6 L814.0 443.9 L815.0 445.6 L816.0 445.6 L817.0 443.8 L818.0 441.5 L819.0 442.3 L820.0 444.5 L821.0 443.6 L822.0 442.6 L823.0 443.3 L824.0 443.9 L825.0 443.5 L826.0 443.7 L827.0 445.3 L828.0 449.7 L829.0 454.9 L830.0 458.8 L831.0 461.9 L832.0 462.8 L833.0 460.9 L834.0 456.9 L835.0 452.8 L836.0 449.2 L837.0 445.8 L838.0 443.0 L839.0 442.5 L840.0 442.0 L841.0 442.7 L842.0 443.0 L843.0 442.6 L844.0 441.5 L845.0 442.7 L846.0 443.1 L847.0 442.9 L848.0 444.2 L849.0 444.0 L850.0 443.3 L851.0 443.2 L852.0 444.0 L853.0 443.7 L854.0 443.3 L855.0 443.3 L856.0 442.1 L857.0 441.3 L858.0 441.4 L859.0 442.9 L860.0 443.8 L861.0 444.0 L862.0 443.9 L863.0 443.8 L864.0 443.8 L865.0 444.0 L866.0 445.3 L867.0 443.7 L868.0 441.3 L869.0 441.9 L870.0 443.3 L871.0 441.9 L872.0 442.1 L873.0 442.5 L874.0 442.2 L875.0 443.4 L876.0 443.7 L877.0 442.7 L878.0 442.8 L879.0 441.9 L880.0 441.6 L881.0 442.6 L882.0 443.2 L883.0 443.4 L884.0 442.8 L885.0 441.4 L886.0 441.4 L887.0 442.2 L888.0 443.5 L889.0 443.6 L890.0 442.7 L891.0 441.9 L892.0 442.5 L893.0 442.1 L894.0 440.7 L895.0 441.3 L896.0 443.1 L897.0 443.3 L898.0 443.1 L899.0 443.2 L900.0 443.2" stroke="#000"/>
<path d="M125.0 447.4 L125.5 446.3 L126.0 445.0 L126.5 443.6 L127.0 442.4 L127.5 441.5 L128.0 440.7 L128.5 440.2 L129.0 439.9 L129.5 439.7 L130.0 439.6 L130.5 439.6 L131.0 439.5 L131.5 439.5 L132.0 439.5 L132.5 439.5 L133.0 439.5 L133.5 439.5 L134.0 439.5 L134.5 439.5 L135.0 439.5 L135.5 439.5 L136.0 439.5 L136.5 439.5 L137.0 439.5 L137.5 439.5 L138.0 439.5 L138.5 439.5 L139.0 439.5 L139.5 439.5 L140.0 439.5 L140.5 439.5 L141.0 439.5 L141.5 439.5 L142.0 439.5 L142.5 439.5 L143.0 439.5 L143.5 439.5 L144.0 439.5 L144.5 439.6 L145.0 439.6 L145.5 439.6 L146.0 439.6 L146.5 439.6 L147.0 439.6 L147.5 439.6 L148.0 439.6 L148.5 439.6 L149.0 439.6 L149.5 439.6 L150.0 439.6 L150.5 439.6 L151.0 439.7 L151.5 439.7 L152.0 439.8 L152.5 439.9 L153.0 440.1 L153.5 440.3 L154.0 440.6 L154.5 440.9 L155.0 441.4 L155.5 441.9 L156.0 442.4 L156.5 442.9 L157.0 443.5 L157.5 443.9 L158.0 444.3 L158.5 444.5 L159.0 444.6 L159.5 444.5 L160.0 444.3 L160.5 443.9 L161.0 443.5 L161.5 443.0 L162.0 442.4 L162.5 441.9 L163.0 441.4 L163.5 441.0 L164.0 440.7 L164.5 440.5 L165.0 440.3 L165.5 440.2 L166.0 440.2 L166.5 440.3 L167.0 440.4 L167.5 440.6 L168.0 440.8 L168.5 441.0 L169.0 441.2 L169.5 441.4 L170.0 441.5 L170.5 441.6 L171.0 441.6 L171.5 441.6 L172.0 441.5 L172.5 441.4 L173.0 441.2 L173.5 441.0 L174.0 440.8 L174.5 440.5 L175.0 440.3 L175.5 440.2 L176.0 440.0 L176.5 439.9 L177.0 439.8 L177.5 439.8 L178.0 439.7 L178.5 439.7 L179.0 439.7 L179.5 439.7 L180.0 439.7 L180.5 439.6 L181.0 439.6 L181.5 439.6 L182.0 439.6 L182.5 439.6 L183.0 439.6 L183.5 439.7 L184.0 439.7 L184.5 439.7 L185.0 439.7 L185.5 439.7 L186.0 439.7 L186.5 439.7 L187.0 439.7 L187.5 439.7 L188.0 439.7 L188.5 439.7 L189.0 439.7 L189.5 439.7 L190.0 439.7 L190.5 439.7 L191.0 439.7 L191.5 439.7 L192.0 439.7 L192.5 439.7 L193.0 439.7 L193.5 439.7 L194.0 439.7 L194.5 439.7 L195.0 439.7 L195.5 439.7 L196.0 439.7 L196.5 439.7 L197.0 439.7 L197.5 439.7 L198.0 439.7 L198.5 439.7 L199.0 439.7 L199.5 439.7 L200.0 439.7 L200.5 439.7 L201.0 439.7 L201.5 439.7 L202.0 439.7 L202.5 439.7 L203.0 439.7 L203.5 439.7 L204.0 439.7 L204.5 439.7 L205.0 439.7 L205.5 439.7 L206.0 439.7 L206.5 439.7 L207.0 439.7 L207.5 439.7 L208.0 439.7 L208.5 439.7 L209.0 439.7 L209.5 439.7 L210.0 439.7 L210.5 439.7 L211.0 439.7 L211.5 439.7 L212.0 439.7 L212.5 439.7 L213.0 439.7 L213.5 439.7 L214.0 439.7 L214.5 439.7 L215.0 439.7 L215.5 439.7 L216.0 439.7 L216.5 439.7 L217.0 439.7 L217.5 439.7 L218.0 439.7 L218.5 439.7 L219.0 439.7 L219.5 439.7 L220.0 439.7 L220.5 439.7 L221.0 439.7 L221.5 439.7 L222.0 439.7 L222.5 439.8 L223.0 439.8 L223.5 439.8 L224.0 439.8 L224.5 439.8 L225.0 439.8 L225.5 439.8 L226.0 439.9 L226.5 440.0 L227.0 440.2 L227.5 440.4 L228.0 440.8 L228.5 441.3 L229.0 441.9 L229.5 442.6 L230.0 443.5 L230.5 444.4 L231.0 445.2 L231.5 446.0 L232.0 446.5 L232.5 446.8 L233.0 446.7 L233.5 446.4 L234.0 445.8 L234.5 445.1 L235.0 444.2 L235.5 443.3 L236.0 442.5 L236.5 441.8 L237.0 441.2 L237.5 440.8 L238.0 440.5 L238.5 440.3 L239.0 440.2 L239.5 440.2 L240.0 440.3 L240.5 440.4 L241.0 440.5 L241.5 440.7 L242.0 440.9 L242.5 441.1 L243.0 441.4 L243.5 441.5 L244.0 441.7 L244.5 441.8 L245.0 441.8 L245.5 441.8 L246.0 441.7 L246.5 441.6 L247.0 441.4 L247.5 441.2 L248.0 441.0 L248.5 440.8 L249.0 440.7 L249.5 440.6 L250.0 440.6 L250.5 440.6 L251.0 440.7 L251.5 440.9 L252.0 441.2 L252.5 441.5 L253.0 441.8 L253.5 442.2 L254.0 442.6 L254.5 442.9 L255.0 443.1 L255.5 443.3 L256.0 443.3 L256.5 443.3 L257.0 443.1 L257.5 442.9 L258.0 442.6 L258.5 442.2 L259.0 441.8 L259.5 441.5 L260.0 441.2 L260.5 440.9 L261.0 440.7 L261.5 440.6 L262.0 440.6 L262.5 440.6 L263.0 440.7 L263.5 440.9 L264.0 441.1 L264.5 441.3 L265.0 441.6 L265.5 441.8 L266.0 442.0 L266.5 442.2 L267.0 442.3 L267.5 442.4 L268.0 442.3 L268.5 442.2 L269.0 442.0 L269.5 441.8 L270.0 441.6 L270.5 441.4 L271.0 441.2 L271.5 441.0 L272.0 441.0 L272.5 441.1 L273.0 441.4 L273.5 441.9 L274.0 442.6 L274.5 443.6 L275.0 444.8 L275.5 446.3 L276.0 447.8 L276.5 449.4 L277.0 450.8 L277.5 452.0 L278.0 452.8 L278.5 453.1 L279.0 453.0 L279.5 452.5 L280.0 451.6 L280.5 450.6 L281.0 449.5 L281.5 448.5 L282.0 447.7 L282.5 447.1 L283.0 446.6 L283.5 446.3 L284.0 446.0 L284.5 445.6 L285.0 445.2 L285.5 444.8 L286.0 444.2 L286.5 443.5 L287.0 442.9 L287.5 442.2 L288.0 441.7 L288.5 441.2 L289.0 440.8 L289.5 440.5 L290.0 440.3 L290.5 440.1 L291.0 440.1 L291.5 440.0 L292.0 440.0 L292.5 439.9 L293.0 439.9 L293.5 439.9 L294.0 439.9 L294.5 439.9 L295.0 439.9 L295.5 439.9 L296.0 439.9 L296.5 439.9 L297.0 439.9 L297.5 439.9 L298.0 439.9 L298.5 439.9 L299.0 439.9 L299.5 439.9 L300.0 439.9 L300.5 440.0 L301.0 440.0 L301.5 440.0 L302.0 440.0 L302.5 440.0 L303.0 440.0 L303.5 440.0 L304.0 440.0 L304.5 440.0 L305.0 440.0 L305.5 440.0 L306.0 440.0 L306.5 440.0 L307.0 440.0 L307.5 440.0 L308.0 440.0 L308.5 440.0 L309.0 440.0 L309.5 440.0 L310.0 440.0 L310.5 440.0 L311.0 440.0 L311.5 440.0 L312.0 440.0 L312.5 440.0 L313.0 440.0 L313.5 440.0 L314.0 440.0 L314.5 440.0 L315.0 440.0 L315.5 440.0 L316.0 440.0 L316.5 440.0 L317.0 440.0 L317.5 440.0 L318.0 440.1 L318.5 440.1 L319.0 440.2 L319.5 440.3 L320.0 440.4 L320.5 440.5 L321.0 440.6 L321.5 440.6 L322.0 440.7 L322.5 440.7 L323.0 440.7 L323.5 440.7 L324.0 440.7 L324.5 440.7 L325.0 440.6 L325.5 440.6 L326.0 440.7 L326.5 440.7 L327.0 440.8 L327.5 440.8 L328.0 440.9 L328.5 440.9 L329.0 440.9 L329.5 440.9 L330.0 440.8 L330.5 440.8 L331.0 440.7 L331.5 440.7 L332.0 440.7 L332.5 440.7 L333.0 440.7 L333.5 440.8 L334.0 440.7 L334.5 440.7 L335.0 440.7 L335.5 440.6 L336.0 440.5 L336.5 440.4 L337.0 440.4 L337.5 440.3 L338.0 440.3 L338.5 440.2 L339.0 440.2 L339.5 440.2 L340.0 440.2 L340.5 440.2 L341.0 440.2 L341.5 440.2 L342.0 440.2 L342.5 440.2 L343.0 440.2 L343.5 440.2 L344.0 440.2 L344.5 440.2 L345.0 440.2 L345.5 440.2 L346.0 440.2 L346.5 440.2 L347.0 440.2 L347.5 440.2 L348.0 440.2 L348.5 440.2 L349.0 440.2 L349.5 440.2 L350.0 440.2 L350.5 440.2 L351.0 440.2 L351.5 440.2 L352.0 440.2 L352.5 440.3 L353.0 440.3 L353.5 440.3 L354.0 440.3 L354.5 440.3 L355.0 440.3 L355.5 440.3 L356.0 440.3 L356.5 440.3 L357.0 440.3 L357.5 440.3 L358.0 440.3 L358.5 440.3 L359.0 440.3 L359.5 440.3 L360.0 440.3 L360.5 440.3 L361.0 440.3 L361.5 440.3 L362.0 440.3 L362.5 440.3 L363.0 440.3 L363.5 440.3 L364.0 440.3 L364.5 440.3 L365.0 440.4 L365.5 440.4 L366.0 440.4 L366.5 440.4 L367.0 440.4 L367.5 440.4 L368.0 440.4 L368.5 440.4 L369.0 440.4 L369.5 440.4 L370.0 440.4 L370.5 440.4 L371.0 440.4 L371.5 440.4 L372.0 440.4 L372.5 440.4 L373.0 440.4 L373.5 440.4 L374.0 440.4 L374.5 440.4 L375.0 440.4 L375.5 440.4 L376.0 440.4 L376.5 440.4 L377.0 440.4 L377.5 440.4 L378.0 440.5 L378.5 440.5 L379.0 440.5 L379.5 440.5 L380.0 440.5 L380.5 440.5 L381.0 440.5 L381.5 440.5 L382.0 440.5 L382.5 440.5 L383.0 440.5 L383.5 440.5 L384.0 440.5 L384.5 440.5 L385.0 440.5 L385.5 440.5 L386.0 440.5 L386.5 440.5 L387.0 440.5 L387.5 440.5 L388.0 440.5 L388.5 440.5 L389.0 440.5 L389.5 440.5 L390.0 440.5 L390.5 440.5 L391.0 440.6 L391.5 440.6 L392.0 440.6 L392.5 440.6 L393.0 440.6 L393.5 440.6 L394.0 440.6 L394.5 440.6 L395.0 440.6 L395.5 440.6 L396.0 440.6 L396.5 440.6 L397.0 440.6 L397.5 440.6 L398.0 440.6 L398.5 440.6 L399.0 440.6 L399.5 440.6 L400.0 440.6 L400.5 440.6 L401.0 440.6 L401.5 440.6 L402.0 440.6 L402.5 440.6 L403.0 440.6 L403.5 440.6 L404.0 440.7 L404.5 440.7 L405.0 440.7 L405.5 440.7 L406.0 440.7 L406.5 440.7 L407.0 440.7 L407.5 440.7 L408.0 440.7 L408.5 440.7 L409.0 440.7 L409.5 440.7 L410.0 440.7 L410.5 440.7 L411.0 440.7 L411.5 440.7 L412.0 440.7 L412.5 440.7 L413.0 440.7 L413.5 440.7 L414.0 440.7 L414.5 440.7 L415.0 440.7 L415.5 440.7 L416.0 440.7 L416.5 440.8 L417.0 440.8 L417.5 440.8 L418.0 440.8 L418.5 440.8 L419.0 440.8 L419.5 440.8 L420.0 440.8 L420.5 440.8 L421.0 440.8 L421.5 440.8 L422.0 440.8 L422.5 440.8 L423.0 440.8 L423.5 440.8 L424.0 440.8 L424.5 440.8 L425.0 440.8 L425.5 440.8 L426.0 440.8 L426.5 440.8 L427.0 440.8 L427.5 440.8 L428.0 440.8 L428.5 440.8 L429.0 440.8 L429.5 440.9 L430.0 440.9 L430.5 440.9 L431.0 440.9 L431.5 440.9 L432.0 440.9 L432.5 440.9 L433.0 441.0 L433.5 441.1 L434.0 441.1 L434.5 441.3 L435.0 441.4 L435.5 441.6 L436.0 441.8 L436.5 442.1 L437.0 442.3 L437.5 442.6 L438.0 442.9 L438.5 443.1 L439.0 443.3 L439.5 443.4 L440.0 443.4 L440.5 443.4 L441.0 443.3 L441.5 443.1 L442.0 442.9 L442.5 442.6 L443.0 442.4 L443.5 442.1 L444.0 441.9 L444.5 441.7 L445.0 441.5 L445.5 441.3 L446.0 441.2 L446.5 441.2 L447.0 441.1 L447.5 441.1 L448.0 441.0 L448.5 441.0 L449.0 441.0 L449.5 441.0 L450.0 441.0 L450.5 441.0 L451.0 441.0 L451.5 441.0 L452.0 441.0 L452.5 441.0 L453.0 441.0 L453.5 441.0 L454.0 441.0 L454.5 441.0 L455.0 441.1 L455.5 441.1 L456.0 441.1 L456.5 441.1 L457.0 441.1 L457.5 441.1 L458.0 441.1 L458.5 441.1 L459.0 441.1 L459.5 441.2 L460.0 441.3 L460.5 441.4 L461.0 441.5 L461.5 441.7 L462.0 441.9 L462.5 442.2 L463.0 442.5 L463.5 442.8 L464.0 443.1 L464.5 443.4 L465.0 443.6 L465.5 443.6 L466.0 443.6 L466.5 443.5 L467.0 443.3 L467.5 443.0 L468.0 442.7 L468.5 442.4 L469.0 442.1 L469.5 441.8 L470.0 441.6 L470.5 441.5 L471.0 441.4 L471.5 441.3 L472.0 441.3 L472.5 441.2 L473.0 441.2 L473.5 441.2 L474.0 441.2 L474.5 441.2 L475.0 441.2 L475.5 441.2 L476.0 441.2 L476.5 441.2 L477.0 441.2 L477.5 441.2 L478.0 441.2 L478.5 441.2 L479.0 441.2 L479.5 441.2 L480.0 441.2 L480.5 441.2 L481.0 441.3 L481.5 441.3 L482.0 441.3 L482.5 441.3 L483.0 441.3 L483.5 441.3 L484.0 441.3 L484.5 441.3 L485.0 441.3 L485.5 441.3 L486.0 441.3 L486.5 441.3 L487.0 441.3 L487.5 441.3 L488.0 441.3 L488.5 441.3 L489.0 441.3 L489.5 441.3 L490.0 441.3 L490.5 441.3 L491.0 441.3 L491.5 441.3 L492.0 441.3 L492.5 441.4 L493.0 441.4 L493.5 441.4 L494.0 441.4 L494.5 441.4 L495.0 441.5 L495.5 441.5 L496.0 441.6 L496.5 441.7 L497.0 441.8 L497.5 441.9 L498.0 442.0 L498.5 442.1 L499.0 442.3 L499.5 442.5 L500.0 442.6 L500.5 442.7 L501.0 442.8 L501.5 442.9 L502.0 442.9 L502.5 442.9 L503.0 442.8 L503.5 442.7 L504.0 442.6 L504.5 442.5 L505.0 442.3 L505.5 442.2 L506.0 442.0 L506.5 441.9 L507.0 441.8 L507.5 441.7 L508.0 441.6 L508.5 441.6 L509.0 441.5 L509.5 441.5 L510.0 441.5 L510.5 441.5 L511.0 441.4 L511.5 441.4 L512.0 441.4 L512.5 441.4 L513.0 441.4 L513.5 441.4 L514.0 441.4 L514.5 441.4 L515.0 441.5 L515.5 441.5 L516.0 441.5 L516.5 441.5 L517.0 441.5 L517.5 441.5 L518.0 441.6 L518.5 441.6 L519.0 441.7 L519.5 441.8 L520.0 442.0 L520.5 442.2 L521.0 442.4 L521.5 442.7 L522.0 443.1 L522.5 443.6 L523.0 444.1 L523.5 444.8 L524.0 445.5 L524.5 446.3 L525.0 447.2 L525.5 448.1 L526.0 449.0 L526.5 449.9 L527.0 450.7 L527.5 451.5 L528.0 452.1 L528.5 452.6 L529.0 452.9 L529.5 453.0 L530.0 452.9 L530.5 452.6 L531.0 452.2 L531.5 451.5 L532.0 450.8 L532.5 450.0 L533.0 449.1 L533.5 448.2 L534.0 447.3 L534.5 446.5 L535.0 445.7 L535.5 445.0 L536.0 444.4 L536.5 443.9 L537.0 443.5 L537.5 443.2 L538.0 443.0 L538.5 442.8 L539.0 442.7 L539.5 442.7 L540.0 442.6 L540.5 442.7 L541.0 442.7 L541.5 442.8 L542.0 442.9 L542.5 443.0 L543.0 443.1 L543.5 443.1 L544.0 443.2 L544.5 443.3 L545.0 443.3 L545.5 443.3 L546.0 443.3 L546.5 443.3 L547.0 443.3 L547.5 443.3 L548.0 443.2 L548.5 443.1 L549.0 443.0 L549.5 443.0 L550.0 442.8 L550.5 442.7 L551.0 442.6 L551.5 442.5 L552.0 442.3 L552.5 442.2 L553.0 442.0 L553.5 441.8 L554.0 441.6 L554.5 441.4 L555.0 441.2 L555.5 441.1 L556.0 441.0 L556.5 441.0 L557.0 441.0 L557.5 441.1 L558.0 441.2 L558.5 441.3 L559.0 441.4 L559.5 441.5 L560.0 441.5 L560.5 441.5 L561.0 441.6 L561.5 441.6 L562.0 441.6 L562.5 441.6 L563.0 441.6 L563.5 441.6 L564.0 441.6 L564.5 441.6 L565.0 441.6 L565.5 441.6 L566.0 441.6 L566.5 441.6 L567.0 441.6 L567.5 441.6 L568.0 441.6 L568.5 441.6 L569.0 441.6 L569.5 441.6 L570.0 441.6 L570.5 441.6 L571.0 441.6 L571.5 441.6 L572.0 441.6 L572.5 441.6 L573.0 441.6 L573.5 441.6 L574.0 441.6 L574.5 441.6 L575.0 441.6 L575.5 441.6 L576.0 441.6 L576.5 441.6 L577.0 441.6 L577.5 441.6 L578.0 441.6 L578.5 441.6 L579.0 441.6 L579.5 441.6 L580.0 441.6 L580.5 441.6 L581.0 441.6 L581.5 441.6 L582.0 441.6 L582.5 441.6 L583.0 441.7 L583.5 441.7 L584.0 441.7 L584.5 441.7 L585.0 441.7 L585.5 441.7 L586.0 441.8 L586.5 441.8 L587.0 441.9 L587.5 442.1 L588.0 442.3 L588.5 442.5 L589.0 442.7 L589.5 442.9 L590.0 443.0 L590.5 443.1 L591.0 443.2 L591.5 443.1 L592.0 443.0 L592.5 442.9 L593.0 442.7 L593.5 442.5 L594.0 442.3 L594.5 442.1 L595.0 442.0 L595.5 441.9 L596.0 441.8 L596.5 441.8 L597.0 441.7 L597.5 441.7 L598.0 441.7 L598.5 441.7 L599.0 441.7 L599.5 441.7 L600.0 441.7 L600.5 441.7 L601.0 441.7 L601.5 441.7 L602.0 441.7 L602.5 441.7 L603.0 441.7 L603.5 441.7 L604.0 441.7 L604.5 441.7 L605.0 441.7 L605.5 441.7 L606.0 441.7 L606.5 441.7 L607.0 441.7 L607.5 441.7 L608.0 441.7 L608.5 441.7 L609.0 441.7 L609.5 441.7 L610.0 441.7 L610.5 441.7 L611.0 441.7 L611.5 441.7 L612.0 441.7 L612.5 441.7 L613.0 441.7 L613.5 441.7 L614.0 441.7 L614.5 441.7 L615.0 441.7 L615.5 441.7 L616.0 441.7 L616.5 441.7 L617.0 441.8 L617.5 441.8 L618.0 441.8 L618.5 441.8 L619.0 441.8 L619.5 441.8 L620.0 441.8 L620.5 441.8 L621.0 441.8 L621.5 441.8 L622.0 441.9 L622.5 442.0 L623.0 442.2 L623.5 442.4 L624.0 442.8 L624.5 443.3 L625.0 444.0 L625.5 445.0 L626.0 446.1 L626.5 447.5 L627.0 449.1 L627.5 450.8 L628.0 452.6 L628.5 454.2 L629.0 455.6 L629.5 456.6 L630.0 457.2 L630.5 457.2 L631.0 456.8 L631.5 455.8 L632.0 454.5 L632.5 452.9 L633.0 451.2 L633.5 449.5 L634.0 447.9 L634.5 446.4 L635.0 445.2 L635.5 444.2 L636.0 443.5 L636.5 442.9 L637.0 442.6 L637.5 442.3 L638.0 442.2 L638.5 442.1 L639.0 442.1 L639.5 442.1 L640.0 442.2 L640.5 442.3 L641.0 442.4 L641.5 442.6 L642.0 442.7 L642.5 442.9 L643.0 443.0 L643.5 443.2 L644.0 443.3 L644.5 443.3 L645.0 443.3 L645.5 443.3 L646.0 443.3 L646.5 443.2 L647.0 443.0 L647.5 442.9 L648.0 442.8 L648.5 442.6 L649.0 442.5 L649.5 442.3 L650.0 442.2 L650.5 442.1 L651.0 442.1 L651.5 442.0 L652.0 442.0 L652.5 441.9 L653.0 441.9 L653.5 441.9 L654.0 441.9 L654.5 441.9 L655.0 441.9 L655.5 441.9 L656.0 441.9 L656.5 442.0 L657.0 442.0 L657.5 442.1 L658.0 442.2 L658.5 442.2 L659.0 442.4 L659.5 442.5 L660.0 442.6 L660.5 442.8 L661.0 442.9 L661.5 443.1 L662.0 443.2 L662.5 443.3 L663.0 443.4 L663.5 443.4 L664.0 443.4 L664.5 443.3 L665.0 443.2 L665.5 443.1 L666.0 443.0 L666.5 442.8 L667.0 442.7 L667.5 442.6 L668.0 442.5 L668.5 442.4 L669.0 442.4 L669.5 442.4 L670.0 442.4 L670.5 442.5 L671.0 442.7 L671.5 442.9 L672.0 443.1 L672.5 443.3 L673.0 443.6 L673.5 443.9 L674.0 444.1 L674.5 444.3 L675.0 444.4 L675.5 444.4 L676.0 444.4 L676.5 444.3 L677.0 444.1 L677.5 443.9 L678.0 443.6 L678.5 443.3 L679.0 443.1 L679.5 442.8 L680.0 442.6 L680.5 442.4 L681.0 442.3 L681.5 442.2 L682.0 442.1 L682.5 442.1 L683.0 442.0 L683.5 442.0 L684.0 442.0 L684.5 442.0 L685.0 442.0 L685.5 442.0 L686.0 442.0 L686.5 442.0 L687.0 442.0 L687.5 442.0 L688.0 442.0 L688.5 442.0 L689.0 442.0 L689.5 442.0 L690.0 442.0 L690.5 442.0 L691.0 442.0 L691.5 442.0 L692.0 442.0 L692.5 442.0 L693.0 442.0 L693.5 442.0 L694.0 442.0 L694.5 442.0 L695.0 442.0 L695.5 442.0 L696.0 442.0 L696.5 442.0 L697.0 442.0 L697.5 442.0 L698.0 442.0 L698.5 442.0 L699.0 442.0 L699.5 442.0 L700.0 442.0 L700.5 442.0 L701.0 442.0 L701.5 442.0 L702.0 442.0 L702.5 442.0 L703.0 442.0 L703.5 442.0 L704.0 442.0 L704.5 442.0 L705.0 442.0 L705.5 442.0 L706.0 442.0 L706.5 442.0 L707.0 442.0 L707.5 442.0 L708.0 442.0 L708.5 442.0 L709.0 442.0 L709.5 442.0 L710.0 442.0 L710.5 442.0 L711.0 442.0 L711.5 442.0 L712.0 442.0 L712.5 442.0 L713.0 442.0 L713.5 442.0 L714.0 442.0 L714.5 442.0 L715.0 442.0 L715.5 442.0 L716.0 442.0 L716.5 442.0 L717.0 442.1 L717.5 442.1 L718.0 442.1 L718.5 442.1 L719.0 442.1 L719.5 442.1 L720.0 442.1 L720.5 442.1 L721.0 442.1 L721.5 442.1 L722.0 442.1 L722.5 442.1 L723.0 442.1 L723.5 442.1 L724.0 442.1 L724.5 442.1 L725.0 442.1 L725.5 442.1 L726.0 442.1 L726.5 442.1 L727.0 442.1 L727.5 442.1 L728.0 442.1 L728.5 442.1 L729.0 442.1 L729.5 442.1 L730.0 442.1 L730.5 442.1 L731.0 442.1 L731.5 442.1 L732.0 442.1 L732.5 442.1 L733.0 442.1 L733.5 442.1 L734.0 442.1 L734.5 442.1 L735.0 442.1 L735.5 442.1 L736.0 442.1 L736.5 442.1 L737.0 442.1 L737.5 442.1 L738.0 442.1 L738.5 442.1 L739.0 442.1 L739.5 442.1 L740.0 442.1 L740.5 442.1 L741.0 442.1 L741.5 442.1 L742.0 442.1 L742.5 442.1 L743.0 442.1 L743.5 442.1 L744.0 442.1 L744.5 442.1 L745.0 442.1 L745.5 442.1 L746.0 442.1 L746.5 442.1 L747.0 442.1 L747.5 442.1 L748.0 442.1 L748.5 442.1 L749.0 442.1 L749.5 442.1 L750.0 442.1 L750.5 442.2 L751.0 442.2 L751.5 442.2 L752.0 442.2 L752.5 442.2 L753.0 442.2 L753.5 442.2 L754.0 442.2 L754.5 442.2 L755.0 442.2 L755.5 442.2 L756.0 442.2 L756.5 442.2 L757.0 442.2 L757.5 442.2 L758.0 442.2 L758.5 442.2 L759.0 442.2 L759.5 442.2 L760.0 442.2 L760.5 442.2 L761.0 442.2 L761.5 442.2 L762.0 442.2 L762.5 442.2 L763.0 442.2 L763.5 442.2 L764.0 442.2 L764.5 442.2 L765.0 442.2 L765.5 442.2 L766.0 442.2 L766.5 442.2 L767.0 442.2 L767.5 442.2 L768.0 442.2 L768.5 442.2 L769.0 442.2 L769.5 442.2 L770.0 442.2 L770.5 442.2 L771.0 442.2 L771.5 442.2 L772.0 442.2 L772.5 442.2 L773.0 442.2 L773.5 442.2 L774.0 442.2 L774.5 442.2 L775.0 442.2 L775.5 442.2 L776.0 442.2 L776.5 442.2 L777.0 442.2 L777.5 442.2 L778.0 442.2 L778.5 442.2 L779.0 442.2 L779.5 442.2 L780.0 442.2 L780.5 442.2 L781.0 442.2 L781.5 442.2 L782.0 442.2 L782.5 442.2 L783.0 442.2 L783.5 442.3 L784.0 442.3 L784.5 442.3 L785.0 442.3 L785.5 442.3 L786.0 442.3 L786.5 442.3 L787.0 442.3 L787.5 442.3 L788.0 442.3 L788.5 442.3 L789.0 442.3 L789.5 442.3 L790.0 442.3 L790.5 442.3 L791.0 442.3 L791.5 442.3 L792.0 442.3 L792.5 442.3 L793.0 442.3 L793.5 442.3 L794.0 442.3 L794.5 442.3 L795.0 442.3 L795.5 442.3 L796.0 442.3 L796.5 442.3 L797.0 442.3 L797.5 442.3 L798.0 442.3 L798.5 442.3 L799.0 442.3 L799.5 442.3 L800.0 442.3 L800.5 442.3 L801.0 442.3 L801.5 442.3 L802.0 442.3 L802.5 442.3 L803.0 442.3 L803.5 442.3 L804.0 442.4 L804.5 442.4 L805.0 442.5 L805.5 442.5 L806.0 442.7 L806.5 442.8 L807.0 443.0 L807.5 443.1 L808.0 443.3 L808.5 443.4 L809.0 443.5 L809.5 443.5 L810.0 443.5 L810.5 443.4 L811.0 443.3 L811.5 443.1 L812.0 443.0 L812.5 442.8 L813.0 442.7 L813.5 442.6 L814.0 442.5 L814.5 442.4 L815.0 442.4 L815.5 442.4 L816.0 442.4 L816.5 442.4 L817.0 442.4 L817.5 442.4 L818.0 442.4 L818.5 442.4 L819.0 442.4 L819.5 442.4 L820.0 442.4 L820.5 442.4 L821.0 442.4 L821.5 442.4 L822.0 442.4 L822.5 442.4 L823.0 442.5 L823.5 442.6 L824.0 442.8 L824.5 443.0 L825.0 443.4 L825.5 443.9 L826.0 444.7 L826.5 445.7 L827.0 447.0 L827.5 448.6 L828.0 450.5 L828.5 452.7 L829.0 455.0 L829.5 457.3 L830.0 459.5 L830.5 461.4 L831.0 462.7 L831.5 463.5 L832.0 463.5 L832.5 462.9 L833.0 461.7 L833.5 459.9 L834.0 457.8 L834.5 455.5 L835.0 453.2 L835.5 451.0 L836.0 449.0 L836.5 447.3 L837.0 446.0 L837.5 444.9 L838.0 444.1 L838.5 443.5 L839.0 443.1 L839.5 442.8 L840.0 442.7 L840.5 442.6 L841.0 442.5 L841.5 442.5 L842.0 442.5 L842.5 442.5 L843.0 442.5 L843.5 442.5 L844.0 442.6 L844.5 442.6 L845.0 442.7 L845.5 442.8 L846.0 442.9 L846.5 443.1 L847.0 443.3 L847.5 443.5 L848.0 443.7 L848.5 443.9 L849.0 444.0 L849.5 444.2 L850.0 444.3 L850.5 444.4 L851.0 444.5 L851.5 444.4 L852.0 444.3 L852.5 444.2 L853.0 444.1 L853.5 443.9 L854.0 443.7 L854.5 443.5 L855.0 443.3 L855.5 443.1 L856.0 443.0 L856.5 442.9 L857.0 442.8 L857.5 442.7 L858.0 442.7 L858.5 442.7 L859.0 442.8 L859.5 442.8 L860.0 442.9 L860.5 443.0 L861.0 443.2 L861.5 443.3 L862.0 443.5 L862.5 443.7 L863.0 443.9 L863.5 444.0 L864.0 444.1 L864.5 444.2 L865.0 444.2 L865.5 444.2 L866.0 444.1 L866.5 444.0 L867.0 443.9 L867.5 443.7 L868.0 443.5 L868.5 443.4 L869.0 443.2 L869.5 443.1 L870.0 442.9 L870.5 442.8 L871.0 442.7 L871.5 442.7 L872.0 442.6 L872.5 442.6 L873.0 442.6 L873.5 442.6 L874.0 442.5 L874.5 442.5 L875.0 442.5 L875.5 442.5 L876.0 442.5 L876.5 442.5 L877.0 442.5 L877.5 442.5 L878.0 442.5 L878.5 442.5 L879.0 442.5 L879.5 442.5 L880.0 442.5 L880.5 442.5 L881.0 442.5 L881.5 442.5 L882.0 442.5 L882.5 442.5 L883.0 442.5 L883.5 442.6 L884.0 442.6 L884.5 442.6 L885.0 442.6 L885.5 442.6 L886.0 442.6 L886.5 442.6 L887.0 442.6 L887.5 442.6 L888.0 442.6 L888.5 442.6 L889.0 442.6 L889.5 442.6 L890.0 442.6 L890.5 442.6 L891.0 442.6 L891.5 442.6 L892.0 442.6 L892.5 442.6 L893.0 442.6 L893.5 442.6 L894.0 442.6 L894.5 442.6 L895.0 442.6 L895.5 442.6 L896.0 442.6 L896.5 442.6 L897.0 442.6 L897.5 442.6 L898.0 442.6 L898.5 442.6 L899.0 442.6 L899.5 442.6 L900.0 442.6" stroke="#f00"/>
</g>
<path d="M126.5 569.5v-3.0M126.5 431.5v3.0M146.5 569.5v-3.0M146.5 431.5v3.0M166.5 569.5v-3.0M166.5 431.5v3.0M187.5 569.5v-5.9M187.5 431.5v5.9M207.5 569.5v-3.0M207.5 431.5v3.0M228.5 569.5v-3.0M228.5 431.5v3.0M248.5 569.5v-3.0M248.5 431.5v3.0M268.5 569.5v-3.0M268.5 431.5v3.0M289.5 569.5v-5.9M289.5 431.5v5.9M309.5 569.5v-3.0M309.5 431.5v3.0M330.5 569.5v-3.0M330.5 431.5v3.0M350.5 569.5v-3.0M350.5 431.5v3.0M370.5 569.5v-3.0M370.5 431.5v3.0M391.5 569.5v-5.9M391.5 431.5v5.9M411.5 569.5v-3.0M411.5 431.5v3.0M432.5 569.5v-3.0M432.5 431.5v3.0M452.5 569.5v-3.0M452.5 431.5v3.0M473.5 569.5v-3.0M473.5 431.5v3.0M493.5 569.5v-5.9M493.5 431.5v5.9M513.5 569.5v-3.0M513.5 431.5v3.0M534.5 569.5v-3.0M534.5 431.5v3.0M554.5 569.5v-3.0M554.5 431.5v3.0M575.5 569.5v-3.0M575.5 431.5v3.0M595.5 569.5v-5.9M595.5 431.5v5.9M615.5 569.5v-3.0M615.5 431.5v3.0M636.5 569.5v-3.0M636.5 431.5v3.0M656.5 569.5v-3.0M656.5 431.5v3.0M677.5 569.5v-3.0M677.5 431.5v3.0M697.5 569.5v-5.9M697.5 431.5v5.9M717.5 569.5v-3.0M717.5 431.5v3.0M738.5 569.5v-3.0M738.5 431.5v3.0M758.5 569.5v-3.0M758.5 431.5v3.0M779.5 569.5v-3.0M779.5 431.5v3.0M799.5 569.5v-5.9M799.5 431.5v5.9M819.5 569.5v-3.0M819.5 431.5v3.0M840.5 569.5v-3.0M840.5 431.5v3.0M860.5 569.5v-3.0M860.5 431.5v3.0M125.5 569.5h5.9M900.5 569.5h-5.9M125.5 563.5h3.0M900.5 563.5h-3.0M125.5 558.5h3.0M900.5 558.5h-3.0M125.5 553.5h3.0M900.5 553.5h-3.0M125.5 547.5h3.0M900.5 547.5h-3.0M125.5 542.5h5.9M900.5 542.5h-5.9M125.5 536.5h3.0M900.5 536.5h-3.0M125.5 531.5h3.0M900.5 531.5h-3.0M125.5 525.5h3.0M900.5 525.5h-3.0M125.5 520.5h3.0M900.5 520.5h-3.0M125.5 514.5h5.9M900.5 514.5h-5.9M125.5 509.5h3.0M900.5 509.5h-3.0M125.5 503.5h3.0M900.5 503.5h-3.0M125.5 498.5h3.0M900.5 498.5h-3.0M125.5 492.5h3.0M900.5 492.5h-3.0M125.5 487.5h5.9M900.5 487.5h-5.9M125.5 481.5h3.0M900.5 481.5h-3.0M125.5 476.5h3.0M900.5 476.5h-3.0M125.5 470.5h3.0M900.5 470.5h-3.0M125.5 465.5h3.0M900.5 465.5h-3.0M125.5 459.5h5.9M900.5 459.5h-5.9M125.5 454.5h3.0M900.5 454.5h-3.0M125.5 448.5h3.0M900.5 448.5h-3.0M125.5 443.5h3.0M900.5 443.5h-3.0M125.5 437.5h3.0M900.5 437.5h-3.0M125.5 432.5h5.9M900.5 432.5h-5.9" stroke="#000" stroke-width="0.85" fill="none"/>
<rect x="125.5" y="431.5" width="775.0" height="138.0" fill="none" stroke="#000" stroke-width="1.45"/>
<g font-family="Liberation Sans, sans-serif" font-size="16.67" fill="#000">
<text x="186.4" y="586.0" text-anchor="middle">6600</text>
<text x="288.5" y="586.0" text-anchor="middle">6610</text>
<text x="390.5" y="586.0" text-anchor="middle">6620</text>
<text x="492.5" y="586.0" text-anchor="middle">6630</text>
<text x="594.5" y="586.0" text-anchor="middle">6640</text>
<text x="696.6" y="586.0" text-anchor="middle">6650</text>
<text x="798.6" y="586.0" text-anchor="middle">6660</text>
<text x="119.4" y="573.9" text-anchor="end">0</text>
<text x="119.4" y="546.9" text-anchor="end">1000</text>
<text x="119.4" y="518.9" text-anchor="end">2000</text>
<text x="119.4" y="491.9" text-anchor="end">3000</text>
<text x="119.4" y="463.9" text-anchor="end">4000</text>
<text x="119.4" y="436.9" text-anchor="end">5000</text>
</g>
<g clip-path="url(#c3)" fill="none" stroke-linejoin="round" stroke-width="1.55">
<path d="M125.0 606.5 L126.0 606.4 L127.0 605.9 L128.0 606.5 L129.0 605.8 L130.0 604.7 L131.0 605.3 L132.0 606.6 L133.0 606.1 L134.0 605.4 L135.0 606.0 L136.0 606.0 L137.0 606.5 L138.0 606.1 L139.0 605.8 L140.0 606.6 L141.0 607.0 L142.0 608.1 L143.0 607.9 L144.0 606.7 L145.0 606.3 L146.0 606.6 L147.0 606.4 L148.0 606.3 L149.0 608.0 L150.0 608.3 L151.0 607.8 L152.0 606.6 L153.0 607.0 L154.0 605.8 L155.0 605.9 L156.0 606.9 L157.0 606.1 L158.0 604.0 L159.0 605.0 L160.0 607.4 L161.0 608.5 L162.0 607.4 L163.0 606.3 L164.0 606.2 L165.0 605.9 L166.0 605.6 L167.0 605.0 L168.0 605.6 L169.0 606.2 L170.0 606.8 L171.0 606.9 L172.0 607.5 L173.0 607.3 L174.0 607.8 L175.0 607.2 L176.0 606.1 L177.0 606.9 L178.0 607.1 L179.0 606.5 L180.0 606.6 L181.0 606.5 L182.0 607.3 L183.0 608.0 L184.0 608.4 L185.0 609.4 L186.0 608.1 L187.0 606.8 L188.0 606.0 L189.0 605.9 L190.0 605.8 L191.0 606.3 L192.0 605.7 L193.0 606.2 L194.0 607.7 L195.0 607.4 L196.0 606.9 L197.0 607.0 L198.0 606.8 L199.0 606.9 L200.0 608.0 L201.0 610.3 L202.0 616.0 L203.0 622.9 L204.0 627.9 L205.0 630.7 L206.0 630.4 L207.0 625.2 L208.0 619.5 L209.0 614.8 L210.0 612.1 L211.0 607.9 L212.0 606.1 L213.0 606.9 L214.0 606.8 L215.0 606.8 L216.0 606.8 L217.0 606.7 L218.0 606.8 L219.0 607.1 L220.0 606.9 L221.0 605.7 L222.0 605.7 L223.0 606.3 L224.0 608.1 L225.0 609.8 L226.0 611.0 L227.0 611.1 L228.0 610.7 L229.0 610.5 L230.0 608.7 L231.0 607.0 L232.0 606.3 L233.0 606.3 L234.0 606.7 L235.0 608.3 L236.0 607.1 L237.0 605.2 L238.0 605.4 L239.0 605.8 L240.0 607.3 L241.0 608.1 L242.0 607.1 L243.0 606.9 L244.0 607.0 L245.0 607.8 L246.0 608.4 L247.0 606.8 L248.0 606.4 L249.0 607.6 L250.0 608.1 L251.0 608.1 L252.0 607.6 L253.0 605.7 L254.0 605.2 L255.0 606.3 L256.0 605.8 L257.0 604.5 L258.0 605.2 L259.0 607.1 L260.0 607.4 L261.0 607.4 L262.0 607.6 L263.0 606.3 L264.0 605.6 L265.0 605.5 L266.0 605.5 L267.0 605.8 L268.0 606.1 L269.0 606.2 L270.0 606.1 L271.0 606.5 L272.0 607.7 L273.0 608.7 L274.0 608.6 L275.0 607.6 L276.0 607.0 L277.0 607.3 L278.0 608.3 L279.0 608.1 L280.0 606.8 L281.0 606.6 L282.0 606.0 L283.0 605.8 L284.0 605.7 L285.0 605.9 L286.0 606.1 L287.0 605.1 L288.0 605.3 L289.0 605.8 L290.0 605.7 L291.0 605.6 L292.0 605.2 L293.0 605.4 L294.0 605.1 L295.0 605.9 L296.0 607.3 L297.0 608.8 L298.0 608.7 L299.0 607.9 L300.0 607.4 L301.0 607.6 L302.0 606.4 L303.0 605.3 L304.0 604.7 L305.0 606.1 L306.0 607.2 L307.0 606.0 L308.0 605.7 L309.0 605.5 L310.0 605.8 L311.0 605.2 L312.0 605.3 L313.0 606.1 L314.0 604.9 L315.0 605.0 L316.0 606.9 L317.0 607.2 L318.0 606.5 L319.0 606.4 L320.0 606.3 L321.0 606.6 L322.0 606.8 L323.0 605.8 L324.0 605.1 L325.0 605.7 L326.0 606.9 L327.0 608.0 L328.0 607.8 L329.0 606.1 L330.0 604.6 L331.0 605.3 L332.0 607.2 L333.0 606.1 L334.0 606.8 L335.0 607.4 L336.0 606.5 L337.0 605.9 L338.0 605.9 L339.0 605.6 L340.0 607.1 L341.0 606.9 L342.0 606.0 L343.0 606.3 L344.0 606.5 L345.0 606.8 L346.0 609.9 L347.0 609.5 L348.0 605.9 L349.0 605.3 L350.0 607.7 L351.0 608.3 L352.0 606.4 L353.0 605.2 L354.0 606.7 L355.0 607.4 L356.0 608.5 L357.0 609.1 L358.0 608.0 L359.0 606.3 L360.0 605.5 L361.0 605.5 L362.0 605.7 L363.0 605.9 L364.0 607.4 L365.0 607.3 L366.0 606.2 L367.0 605.8 L368.0 606.8 L369.0 606.3 L370.0 604.9 L371.0 605.5 L372.0 606.1 L373.0 605.8 L374.0 606.5 L375.0 607.6 L376.0 608.8 L377.0 607.9 L378.0 606.1 L379.0 606.1 L380.0 607.1 L381.0 606.4 L382.0 607.0 L383.0 608.2 L384.0 608.3 L385.0 608.9 L386.0 610.2 L387.0 611.8 L388.0 613.4 L389.0 614.6 L390.0 615.1 L391.0 614.0 L392.0 613.2 L393.0 612.7 L394.0 612.6 L395.0 610.8 L396.0 608.3 L397.0 609.0 L398.0 610.3 L399.0 609.7 L400.0 608.7 L401.0 608.7 L402.0 607.4 L403.0 607.7 L404.0 608.3 L405.0 607.9 L406.0 606.0 L407.0 606.1 L408.0 607.2 L409.0 606.6 L410.0 607.5 L411.0 609.2 L412.0 607.3 L413.0 607.1 L414.0 610.9 L415.0 611.4 L416.0 611.0 L417.0 611.5 L418.0 610.2 L419.0 609.8 L420.0 608.7 L421.0 607.5 L422.0 607.8 L423.0 608.0 L424.0 608.2 L425.0 607.6 L426.0 606.0 L427.0 606.4 L428.0 607.9 L429.0 607.2 L430.0 607.0 L431.0 608.1 L432.0 608.5 L433.0 607.9 L434.0 606.6 L435.0 606.0 L436.0 606.8 L437.0 603.8 L438.0 599.2 L439.0 602.0 L440.0 605.8 L441.0 606.6 L442.0 606.7 L443.0 607.9 L444.0 607.2 L445.0 607.2 L446.0 608.2 L447.0 607.6 L448.0 606.6 L449.0 606.4 L450.0 606.2 L451.0 605.4 L452.0 605.9 L453.0 606.1 L454.0 605.8 L455.0 607.2 L456.0 606.7 L457.0 605.9 L458.0 606.8 L459.0 606.7 L460.0 607.0 L461.0 606.8 L462.0 607.8 L463.0 610.0 L464.0 611.3 L465.0 610.7 L466.0 611.5 L467.0 612.9 L468.0 613.2 L469.0 611.6 L470.0 610.7 L471.0 610.9 L472.0 609.2 L473.0 607.7 L474.0 607.1 L475.0 607.4 L476.0 607.8 L477.0 607.8 L478.0 609.1 L479.0 611.7 L480.0 613.4 L481.0 615.0 L482.0 616.5 L483.0 615.3 L484.0 612.2 L485.0 610.2 L486.0 609.4 L487.0 607.3 L488.0 605.8 L489.0 606.4 L490.0 607.6 L491.0 605.7 L492.0 604.7 L493.0 606.1 L494.0 607.0 L495.0 605.9 L496.0 606.7 L497.0 607.3 L498.0 607.1 L499.0 606.8 L500.0 607.0 L501.0 607.4 L502.0 608.0 L503.0 607.8 L504.0 607.1 L505.0 607.0 L506.0 608.6 L507.0 608.8 L508.0 607.8 L509.0 608.9 L510.0 609.7 L511.0 608.0 L512.0 606.2 L513.0 606.4 L514.0 606.6 L515.0 606.1 L516.0 605.5 L517.0 606.9 L518.0 607.6 L519.0 606.9 L520.0 606.4 L521.0 606.4 L522.0 607.3 L523.0 606.9 L524.0 606.5 L525.0 606.9 L526.0 607.8 L527.0 607.7 L528.0 606.8 L529.0 606.0 L530.0 606.3 L531.0 606.9 L532.0 607.9 L533.0 607.8 L534.0 606.8 L535.0 606.6 L536.0 607.2 L537.0 608.5 L538.0 608.4 L539.0 608.0 L540.0 607.3 L541.0 601.7 L542.0 602.5 L543.0 611.6 L544.0 607.2 L545.0 607.3 L546.0 607.7 L547.0 607.6 L548.0 605.6 L549.0 605.1 L550.0 605.9 L551.0 605.5 L552.0 604.4 L553.0 605.0 L554.0 606.6 L555.0 607.9 L556.0 607.6 L557.0 607.4 L558.0 608.7 L559.0 609.1 L560.0 610.0 L561.0 610.8 L562.0 611.4 L563.0 612.3 L564.0 612.1 L565.0 610.8 L566.0 609.0 L567.0 607.1 L568.0 607.0 L569.0 607.5 L570.0 607.1 L571.0 607.3 L572.0 607.6 L573.0 606.4 L574.0 606.4 L575.0 606.5 L576.0 606.0 L577.0 606.2 L578.0 606.5 L579.0 607.3 L580.0 608.6 L581.0 608.1 L582.0 608.1 L583.0 607.6 L584.0 608.2 L585.0 609.1 L586.0 610.5 L587.0 612.3 L588.0 612.5 L589.0 611.0 L590.0 609.4 L591.0 608.3 L592.0 608.5 L593.0 609.0 L594.0 608.2 L595.0 608.6 L596.0 609.2 L597.0 609.1 L598.0 607.5 L599.0 606.4 L600.0 603.4 L601.0 600.7 L602.0 599.7 L603.0 597.7 L604.0 596.6 L605.0 599.3 L606.0 605.3 L607.0 613.1 L608.0 619.4 L609.0 624.7 L610.0 628.8 L611.0 629.4 L612.0 624.9 L613.0 619.8 L614.0 615.3 L615.0 612.3 L616.0 609.0 L617.0 606.3 L618.0 604.9 L619.0 605.5 L620.0 605.5 L621.0 605.3 L622.0 605.3 L623.0 605.5 L624.0 604.9 L625.0 606.3 L626.0 609.0 L627.0 611.6 L628.0 611.6 L629.0 611.2 L630.0 610.0 L631.0 609.1 L632.0 607.9 L633.0 607.0 L634.0 606.9 L635.0 607.7 L636.0 608.1 L637.0 607.5 L638.0 607.2 L639.0 606.9 L640.0 608.5 L641.0 608.6 L642.0 606.3 L643.0 605.9 L644.0 607.1 L645.0 607.3 L646.0 607.2 L647.0 607.6 L648.0 608.9 L649.0 610.7 L650.0 611.5 L651.0 612.1 L652.0 612.4 L653.0 612.6 L654.0 612.8 L655.0 612.3 L656.0 609.1 L657.0 608.0 L658.0 608.1 L659.0 608.2 L660.0 608.0 L661.0 608.0 L662.0 608.1 L663.0 606.6 L664.0 607.0 L665.0 608.9 L666.0 608.0 L667.0 607.3 L668.0 607.6 L669.0 608.1 L670.0 608.1 L671.0 607.0 L672.0 606.6 L673.0 607.1 L674.0 606.8 L675.0 606.8 L676.0 607.2 L677.0 606.4 L678.0 606.5 L679.0 606.5 L680.0 606.0 L681.0 607.4 L682.0 607.5 L683.0 606.3 L684.0 607.0 L685.0 607.0 L686.0 607.4 L687.0 607.2 L688.0 607.2 L689.0 606.7 L690.0 607.0 L691.0 607.8 L692.0 608.2 L693.0 607.5 L694.0 606.3 L695.0 605.8 L696.0 605.7 L697.0 607.2 L698.0 609.8 L699.0 612.0 L700.0 612.8 L701.0 614.1 L702.0 616.4 L703.0 616.8 L704.0 613.6 L705.0 609.4 L706.0 606.9 L707.0 606.5 L708.0 606.9 L709.0 606.0 L710.0 605.9 L711.0 606.9 L712.0 607.5 L713.0 606.7 L714.0 606.4 L715.0 607.0 L716.0 607.2 L717.0 605.4 L718.0 605.7 L719.0 608.3 L720.0 608.2 L721.0 607.0 L722.0 606.1 L723.0 605.9 L724.0 606.8 L725.0 607.9 L726.0 606.5 L727.0 605.9 L728.0 607.7 L729.0 608.2 L730.0 606.9 L731.0 605.6 L732.0 605.5 L733.0 606.5 L734.0 607.3 L735.0 607.7 L736.0 605.8 L737.0 605.8 L738.0 606.1 L739.0 606.0 L740.0 605.0 L741.0 604.5 L742.0 605.1 L743.0 605.2 L744.0 605.2 L745.0 605.4 L746.0 604.0 L747.0 603.7 L748.0 602.8 L749.0 601.0 L750.0 599.5 L751.0 597.2 L752.0 597.6 L753.0 600.0 L754.0 601.9 L755.0 603.4 L756.0 603.7 L757.0 604.9 L758.0 606.3 L759.0 606.9 L760.0 607.6 L761.0 608.1 L762.0 607.1 L763.0 607.4 L764.0 608.3 L765.0 609.0 L766.0 609.8 L767.0 611.0 L768.0 610.9 L769.0 609.9 L770.0 609.4 L771.0 609.6 L772.0 608.5 L773.0 607.6 L774.0 607.7 L775.0 608.7 L776.0 607.2 L777.0 605.1 L778.0 605.2 L779.0 604.8 L780.0 605.4 L781.0 605.7 L782.0 605.1 L783.0 605.8 L784.0 606.3 L785.0 606.4 L786.0 605.5 L787.0 605.7 L788.0 606.2 L789.0 606.8 L790.0 606.5 L791.0 607.2 L792.0 607.8 L793.0 607.5 L794.0 606.8 L795.0 606.6 L796.0 606.5 L797.0 607.0 L798.0 607.0 L799.0 605.7 L800.0 605.2 L801.0 606.0 L802.0 606.1 L803.0 607.0 L804.0 607.6 L805.0 607.2 L806.0 606.1 L807.0 605.5 L808.0 605.4 L809.0 606.3 L810.0 606.7 L811.0 606.6 L812.0 608.0 L813.0 608.4 L814.0 607.0 L815.0 607.4 L816.0 610.0 L817.0 609.5 L818.0 608.3 L819.0 609.2 L820.0 610.7 L821.0 610.9 L822.0 609.8 L823.0 609.6 L824.0 608.9 L825.0 603.2 L826.0 602.3 L827.0 607.9 L828.0 606.1 L829.0 606.2 L830.0 606.1 L831.0 607.1 L832.0 607.6 L833.0 606.7 L834.0 606.7 L835.0 605.7 L836.0 605.8 L837.0 607.1 L838.0 607.3 L839.0 607.2 L840.0 607.2 L841.0 605.5 L842.0 606.0 L843.0 606.6 L844.0 605.9 L845.0 605.8 L846.0 607.1 L847.0 607.4 L848.0 607.9 L849.0 608.4 L850.0 608.9 L851.0 609.2 L852.0 609.7 L853.0 609.7 L854.0 610.8 L855.0 611.4 L856.0 611.6 L857.0 610.4 L858.0 609.2 L859.0 608.0 L860.0 607.2 L861.0 606.3 L862.0 605.9 L863.0 605.6 L864.0 605.5 L865.0 606.4 L866.0 609.1 L867.0 608.8 L868.0 608.0 L869.0 609.6 L870.0 610.6 L871.0 610.8 L872.0 611.3 L873.0 610.7 L874.0 608.9 L875.0 606.4 L876.0 607.1 L877.0 607.7 L878.0 607.5 L879.0 606.2 L880.0 605.5 L881.0 605.5 L882.0 606.5 L883.0 605.5 L884.0 604.5 L885.0 604.9 L886.0 605.5 L887.0 605.0 L888.0 605.4 L889.0 605.4 L890.0 605.1 L891.0 605.0 L892.0 606.6 L893.0 606.6 L894.0 606.3 L895.0 606.4 L896.0 606.6 L897.0 606.2 L898.0 606.4 L899.0 606.9 L900.0 607.3" stroke="#000"/>
<path d="M125.0 606.5 L125.5 606.5 L126.0 606.5 L126.5 606.5 L127.0 606.5 L127.5 606.5 L128.0 606.5 L128.5 606.5 L129.0 606.5 L129.5 606.5 L130.0 606.5 L130.5 606.5 L131.0 606.5 L131.5 606.5 L132.0 606.5 L132.5 606.5 L133.0 606.5 L133.5 606.5 L134.0 606.5 L134.5 606.5 L135.0 606.5 L135.5 606.5 L136.0 606.5 L136.5 606.5 L137.0 606.5 L137.5 606.5 L138.0 606.5 L138.5 606.5 L139.0 606.5 L139.5 606.5 L140.0 606.5 L140.5 606.5 L141.0 606.5 L141.5 606.5 L142.0 606.5 L142.5 606.5 L143.0 606.5 L143.5 606.5 L144.0 606.5 L144.5 606.5 L145.0 606.5 L145.5 606.5 L146.0 606.5 L146.5 606.5 L147.0 606.5 L147.5 606.5 L148.0 606.5 L148.5 606.5 L149.0 606.5 L149.5 606.5 L150.0 606.5 L150.5 606.5 L151.0 606.5 L151.5 606.5 L152.0 606.5 L152.5 606.5 L153.0 606.5 L153.5 606.5 L154.0 606.5 L154.5 606.5 L155.0 606.5 L155.5 606.5 L156.0 606.5 L156.5 606.5 L157.0 606.5 L157.5 606.5 L158.0 606.5 L158.5 606.5 L159.0 606.5 L159.5 606.5 L160.0 606.5 L160.5 606.5 L161.0 606.5 L161.5 606.5 L162.0 606.5 L162.5 606.5 L163.0 606.5 L163.5 606.5 L164.0 606.5 L164.5 606.5 L165.0 606.5 L165.5 606.5 L166.0 606.5 L166.5 606.5 L167.0 606.5 L167.5 606.5 L168.0 606.5 L168.5 606.5 L169.0 606.5 L169.5 606.5 L170.0 606.5 L170.5 606.5 L171.0 606.5 L171.5 606.5 L172.0 606.5 L172.5 606.5 L173.0 606.5 L173.5 606.5 L174.0 606.5 L174.5 606.5 L175.0 606.5 L175.5 606.5 L176.0 606.5 L176.5 606.5 L177.0 606.5 L177.5 606.5 L178.0 606.5 L178.5 606.5 L179.0 606.5 L179.5 606.5 L180.0 606.5 L180.5 606.5 L181.0 606.5 L181.5 606.5 L182.0 606.5 L182.5 606.5 L183.0 606.5 L183.5 606.5 L184.0 606.5 L184.5 606.5 L185.0 606.5 L185.5 606.5 L186.0 606.5 L186.5 606.5 L187.0 606.5 L187.5 606.5 L188.0 606.5 L188.5 606.5 L189.0 606.5 L189.5 606.5 L190.0 606.5 L190.5 606.5 L191.0 606.5 L191.5 606.5 L192.0 606.5 L192.5 606.5 L193.0 606.5 L193.5 606.5 L194.0 606.5 L194.5 606.5 L195.0 606.5 L195.5 606.5 L196.0 606.5 L196.5 606.5 L197.0 606.6 L197.5 606.6 L198.0 606.7 L198.5 606.9 L199.0 607.2 L199.5 607.7 L200.0 608.5 L200.5 609.7 L201.0 611.2 L201.5 613.3 L202.0 615.8 L202.5 618.8 L203.0 622.0 L203.5 625.1 L204.0 628.0 L204.5 630.3 L205.0 631.6 L205.5 632.0 L206.0 631.2 L206.5 629.5 L207.0 626.9 L207.5 623.9 L208.0 620.7 L208.5 617.6 L209.0 614.8 L209.5 612.4 L210.0 610.6 L210.5 609.2 L211.0 608.2 L211.5 607.5 L212.0 607.1 L212.5 606.8 L213.0 606.7 L213.5 606.6 L214.0 606.5 L214.5 606.5 L215.0 606.5 L215.5 606.5 L216.0 606.5 L216.5 606.5 L217.0 606.5 L217.5 606.5 L218.0 606.5 L218.5 606.5 L219.0 606.5 L219.5 606.5 L220.0 606.5 L220.5 606.6 L221.0 606.6 L221.5 606.7 L222.0 606.8 L222.5 607.0 L223.0 607.2 L223.5 607.5 L224.0 607.9 L224.5 608.2 L225.0 608.6 L225.5 609.0 L226.0 609.3 L226.5 609.4 L227.0 609.5 L227.5 609.4 L228.0 609.3 L228.5 609.0 L229.0 608.6 L229.5 608.2 L230.0 607.9 L230.5 607.5 L231.0 607.2 L231.5 607.0 L232.0 606.8 L232.5 606.7 L233.0 606.6 L233.5 606.6 L234.0 606.5 L234.5 606.5 L235.0 606.5 L235.5 606.5 L236.0 606.5 L236.5 606.5 L237.0 606.5 L237.5 606.5 L238.0 606.5 L238.5 606.5 L239.0 606.5 L239.5 606.5 L240.0 606.5 L240.5 606.5 L241.0 606.5 L241.5 606.5 L242.0 606.5 L242.5 606.5 L243.0 606.5 L243.5 606.5 L244.0 606.5 L244.5 606.5 L245.0 606.5 L245.5 606.5 L246.0 606.5 L246.5 606.5 L247.0 606.5 L247.5 606.5 L248.0 606.5 L248.5 606.5 L249.0 606.5 L249.5 606.5 L250.0 606.5 L250.5 606.5 L251.0 606.5 L251.5 606.5 L252.0 606.5 L252.5 606.5 L253.0 606.5 L253.5 606.5 L254.0 606.5 L254.5 606.5 L255.0 606.5 L255.5 606.5 L256.0 606.5 L256.5 606.5 L257.0 606.5 L257.5 606.5 L258.0 606.5 L258.5 606.5 L259.0 606.5 L259.5 606.5 L260.0 606.5 L260.5 606.5 L261.0 606.5 L261.5 606.5 L262.0 606.5 L262.5 606.5 L263.0 606.5 L263.5 606.5 L264.0 606.5 L264.5 606.5 L265.0 606.5 L265.5 606.5 L266.0 606.5 L266.5 606.5 L267.0 606.5 L267.5 606.5 L268.0 606.5 L268.5 606.5 L269.0 606.5 L269.5 606.5 L270.0 606.5 L270.5 606.5 L271.0 606.5 L271.5 606.5 L272.0 606.5 L272.5 606.5 L273.0 606.5 L273.5 606.5 L274.0 606.5 L274.5 606.5 L275.0 606.5 L275.5 606.5 L276.0 606.5 L276.5 606.5 L277.0 606.5 L277.5 606.5 L278.0 606.5 L278.5 606.5 L279.0 606.5 L279.5 606.5 L280.0 606.5 L280.5 606.5 L281.0 606.5 L281.5 606.5 L282.0 606.5 L282.5 606.5 L283.0 606.5 L283.5 606.5 L284.0 606.5 L284.5 606.5 L285.0 606.5 L285.5 606.5 L286.0 606.5 L286.5 606.5 L287.0 606.5 L287.5 606.5 L288.0 606.5 L288.5 606.5 L289.0 606.5 L289.5 606.5 L290.0 606.5 L290.5 606.5 L291.0 606.5 L291.5 606.5 L292.0 606.5 L292.5 606.5 L293.0 606.5 L293.5 606.5 L294.0 606.5 L294.5 606.6 L295.0 606.6 L295.5 606.6 L296.0 606.7 L296.5 606.8 L297.0 606.9 L297.5 607.0 L298.0 607.2 L298.5 607.4 L299.0 607.6 L299.5 607.8 L300.0 608.0 L300.5 608.2 L301.0 608.4 L301.5 608.5 L302.0 608.5 L302.5 608.5 L303.0 608.4 L303.5 608.2 L304.0 608.0 L304.5 607.8 L305.0 607.6 L305.5 607.4 L306.0 607.2 L306.5 607.0 L307.0 606.9 L307.5 606.8 L308.0 606.7 L308.5 606.6 L309.0 606.6 L309.5 606.6 L310.0 606.5 L310.5 606.5 L311.0 606.5 L311.5 606.5 L312.0 606.5 L312.5 606.5 L313.0 606.5 L313.5 606.5 L314.0 606.5 L314.5 606.5 L315.0 606.5 L315.5 606.5 L316.0 606.5 L316.5 606.5 L317.0 606.5 L317.5 606.5 L318.0 606.5 L318.5 606.5 L319.0 606.5 L319.5 606.5 L320.0 606.5 L320.5 606.5 L321.0 606.5 L321.5 606.5 L322.0 606.5 L322.5 606.5 L323.0 606.5 L323.5 606.5 L324.0 606.5 L324.5 606.5 L325.0 606.5 L325.5 606.5 L326.0 606.5 L326.5 606.5 L327.0 606.5 L327.5 606.5 L328.0 606.5 L328.5 606.5 L329.0 606.5 L329.5 606.5 L330.0 606.5 L330.5 606.5 L331.0 606.5 L331.5 606.5 L332.0 606.5 L332.5 606.5 L333.0 606.5 L333.5 606.5 L334.0 606.5 L334.5 606.5 L335.0 606.5 L335.5 606.5 L336.0 606.5 L336.5 606.5 L337.0 606.5 L337.5 606.5 L338.0 606.5 L338.5 606.5 L339.0 606.5 L339.5 606.5 L340.0 606.5 L340.5 606.5 L341.0 606.5 L341.5 606.5 L342.0 606.5 L342.5 606.5 L343.0 606.5 L343.5 606.5 L344.0 606.5 L344.5 606.5 L345.0 606.5 L345.5 606.5 L346.0 606.5 L346.5 606.5 L347.0 606.5 L347.5 606.5 L348.0 606.5 L348.5 606.5 L349.0 606.5 L349.5 606.5 L350.0 606.5 L350.5 606.5 L351.0 606.5 L351.5 606.5 L352.0 606.5 L352.5 606.5 L353.0 606.5 L353.5 606.5 L354.0 606.5 L354.5 606.5 L355.0 606.5 L355.5 606.5 L356.0 606.5 L356.5 606.5 L357.0 606.5 L357.5 606.5 L358.0 606.5 L358.5 606.5 L359.0 606.5 L359.5 606.5 L360.0 606.5 L360.5 606.5 L361.0 606.5 L361.5 606.5 L362.0 606.5 L362.5 606.5 L363.0 606.5 L363.5 606.5 L364.0 606.5 L364.5 606.5 L365.0 606.5 L365.5 606.5 L366.0 606.5 L366.5 606.5 L367.0 606.5 L367.5 606.5 L368.0 606.5 L368.5 606.5 L369.0 606.5 L369.5 606.5 L370.0 606.5 L370.5 606.5 L371.0 606.5 L371.5 606.5 L372.0 606.5 L372.5 606.5 L373.0 606.5 L373.5 606.5 L374.0 606.5 L374.5 606.5 L375.0 606.5 L375.5 606.5 L376.0 606.5 L376.5 606.5 L377.0 606.5 L377.5 606.5 L378.0 606.5 L378.5 606.5 L379.0 606.5 L379.5 606.5 L380.0 606.6 L380.5 606.6 L381.0 606.6 L381.5 606.7 L382.0 606.8 L382.5 606.9 L383.0 607.1 L383.5 607.4 L384.0 607.7 L384.5 608.1 L385.0 608.6 L385.5 609.1 L386.0 609.7 L386.5 610.3 L387.0 611.0 L387.5 611.7 L388.0 612.3 L388.5 612.8 L389.0 613.2 L389.5 613.4 L390.0 613.5 L390.5 613.4 L391.0 613.2 L391.5 612.8 L392.0 612.3 L392.5 611.7 L393.0 611.0 L393.5 610.3 L394.0 609.7 L394.5 609.1 L395.0 608.6 L395.5 608.1 L396.0 607.7 L396.5 607.4 L397.0 607.1 L397.5 606.9 L398.0 606.8 L398.5 606.7 L399.0 606.6 L399.5 606.6 L400.0 606.6 L400.5 606.5 L401.0 606.5 L401.5 606.5 L402.0 606.5 L402.5 606.5 L403.0 606.5 L403.5 606.6 L404.0 606.6 L404.5 606.6 L405.0 606.7 L405.5 606.7 L406.0 606.8 L406.5 606.8 L407.0 606.9 L407.5 607.0 L408.0 607.1 L408.5 607.2 L409.0 607.4 L409.5 607.6 L410.0 607.7 L410.5 607.9 L411.0 608.1 L411.5 608.3 L412.0 608.5 L412.5 608.7 L413.0 608.9 L413.5 609.1 L414.0 609.2 L414.5 609.3 L415.0 609.4 L415.5 609.5 L416.0 609.5 L416.5 609.5 L417.0 609.4 L417.5 609.3 L418.0 609.2 L418.5 609.1 L419.0 608.9 L419.5 608.7 L420.0 608.5 L420.5 608.3 L421.0 608.1 L421.5 607.9 L422.0 607.7 L422.5 607.6 L423.0 607.4 L423.5 607.2 L424.0 607.1 L424.5 607.0 L425.0 606.9 L425.5 606.8 L426.0 606.8 L426.5 606.7 L427.0 606.7 L427.5 606.6 L428.0 606.6 L428.5 606.6 L429.0 606.5 L429.5 606.5 L430.0 606.5 L430.5 606.5 L431.0 606.5 L431.5 606.5 L432.0 606.5 L432.5 606.5 L433.0 606.5 L433.5 606.5 L434.0 606.5 L434.5 606.5 L435.0 606.5 L435.5 606.5 L436.0 606.5 L436.5 606.5 L437.0 606.5 L437.5 606.5 L438.0 606.5 L438.5 606.5 L439.0 606.5 L439.5 606.5 L440.0 606.5 L440.5 606.5 L441.0 606.5 L441.5 606.5 L442.0 606.5 L442.5 606.5 L443.0 606.5 L443.5 606.5 L444.0 606.5 L444.5 606.5 L445.0 606.5 L445.5 606.5 L446.0 606.5 L446.5 606.5 L447.0 606.5 L447.5 606.5 L448.0 606.5 L448.5 606.5 L449.0 606.5 L449.5 606.5 L450.0 606.5 L450.5 606.5 L451.0 606.5 L451.5 606.5 L452.0 606.5 L452.5 606.5 L453.0 606.5 L453.5 606.5 L454.0 606.5 L454.5 606.5 L455.0 606.5 L455.5 606.5 L456.0 606.5 L456.5 606.5 L457.0 606.5 L457.5 606.5 L458.0 606.5 L458.5 606.5 L459.0 606.6 L459.5 606.6 L460.0 606.7 L460.5 606.8 L461.0 607.0 L461.5 607.2 L462.0 607.5 L462.5 607.9 L463.0 608.3 L463.5 608.8 L464.0 609.3 L464.5 609.9 L465.0 610.4 L465.5 610.8 L466.0 611.2 L466.5 611.4 L467.0 611.5 L467.5 611.4 L468.0 611.2 L468.5 610.8 L469.0 610.4 L469.5 609.9 L470.0 609.3 L470.5 608.8 L471.0 608.3 L471.5 607.9 L472.0 607.5 L472.5 607.2 L473.0 607.0 L473.5 606.8 L474.0 606.7 L474.5 606.7 L475.0 606.6 L475.5 606.6 L476.0 606.7 L476.5 606.8 L477.0 606.9 L477.5 607.1 L478.0 607.4 L478.5 607.7 L479.0 608.1 L479.5 608.5 L480.0 609.0 L480.5 609.4 L481.0 609.7 L481.5 609.9 L482.0 610.0 L482.5 609.9 L483.0 609.7 L483.5 609.4 L484.0 609.0 L484.5 608.5 L485.0 608.1 L485.5 607.7 L486.0 607.4 L486.5 607.1 L487.0 606.9 L487.5 606.8 L488.0 606.7 L488.5 606.6 L489.0 606.5 L489.5 606.5 L490.0 606.5 L490.5 606.5 L491.0 606.5 L491.5 606.5 L492.0 606.5 L492.5 606.5 L493.0 606.5 L493.5 606.5 L494.0 606.5 L494.5 606.5 L495.0 606.5 L495.5 606.5 L496.0 606.5 L496.5 606.5 L497.0 606.5 L497.5 606.5 L498.0 606.5 L498.5 606.5 L499.0 606.5 L499.5 606.5 L500.0 606.5 L500.5 606.5 L501.0 606.5 L501.5 606.5 L502.0 606.5 L502.5 606.5 L503.0 606.5 L503.5 606.5 L504.0 606.5 L504.5 606.5 L505.0 606.5 L505.5 606.5 L506.0 606.5 L506.5 606.5 L507.0 606.5 L507.5 606.5 L508.0 606.5 L508.5 606.5 L509.0 606.5 L509.5 606.5 L510.0 606.5 L510.5 606.5 L511.0 606.5 L511.5 606.5 L512.0 606.5 L512.5 606.5 L513.0 606.5 L513.5 606.5 L514.0 606.5 L514.5 606.5 L515.0 606.5 L515.5 606.5 L516.0 606.5 L516.5 606.5 L517.0 606.5 L517.5 606.5 L518.0 606.5 L518.5 606.5 L519.0 606.5 L519.5 606.5 L520.0 606.5 L520.5 606.5 L521.0 606.5 L521.5 606.5 L522.0 606.5 L522.5 606.5 L523.0 606.5 L523.5 606.5 L524.0 606.5 L524.5 606.5 L525.0 606.5 L525.5 606.5 L526.0 606.5 L526.5 606.5 L527.0 606.5 L527.5 606.5 L528.0 606.6 L528.5 606.6 L529.0 606.6 L529.5 606.7 L530.0 606.8 L530.5 607.0 L531.0 607.2 L531.5 607.4 L532.0 607.7 L532.5 607.9 L533.0 608.1 L533.5 608.3 L534.0 608.5 L534.5 608.5 L535.0 608.5 L535.5 608.3 L536.0 608.1 L536.5 607.9 L537.0 607.7 L537.5 607.4 L538.0 607.2 L538.5 607.0 L539.0 606.8 L539.5 606.7 L540.0 606.6 L540.5 606.6 L541.0 606.6 L541.5 606.5 L542.0 606.5 L542.5 606.5 L543.0 606.5 L543.5 606.5 L544.0 606.5 L544.5 606.5 L545.0 606.5 L545.5 606.5 L546.0 606.5 L546.5 606.5 L547.0 606.5 L547.5 606.5 L548.0 606.5 L548.5 606.5 L549.0 606.5 L549.5 606.5 L550.0 606.6 L550.5 606.6 L551.0 606.7 L551.5 606.8 L552.0 607.0 L552.5 607.2 L553.0 607.5 L553.5 607.9 L554.0 608.5 L554.5 609.1 L555.0 609.8 L555.5 610.7 L556.0 611.6 L556.5 612.6 L557.0 613.7 L557.5 614.6 L558.0 615.5 L558.5 616.2 L559.0 616.6 L559.5 616.9 L560.0 616.9 L560.5 616.6 L561.0 616.0 L561.5 615.3 L562.0 614.4 L562.5 613.5 L563.0 612.4 L563.5 611.5 L564.0 610.5 L564.5 609.7 L565.0 609.0 L565.5 608.3 L566.0 607.9 L566.5 607.5 L567.0 607.2 L567.5 607.0 L568.0 606.8 L568.5 606.7 L569.0 606.6 L569.5 606.6 L570.0 606.5 L570.5 606.5 L571.0 606.5 L571.5 606.5 L572.0 606.5 L572.5 606.5 L573.0 606.5 L573.5 606.5 L574.0 606.5 L574.5 606.5 L575.0 606.5 L575.5 606.5 L576.0 606.5 L576.5 606.5 L577.0 606.5 L577.5 606.5 L578.0 606.5 L578.5 606.5 L579.0 606.5 L579.5 606.5 L580.0 606.5 L580.5 606.6 L581.0 606.6 L581.5 606.7 L582.0 606.8 L582.5 606.9 L583.0 607.1 L583.5 607.4 L584.0 607.7 L584.5 608.0 L585.0 608.4 L585.5 608.7 L586.0 609.0 L586.5 609.3 L587.0 609.4 L587.5 609.5 L588.0 609.5 L588.5 609.3 L589.0 609.1 L589.5 608.8 L590.0 608.6 L590.5 608.4 L591.0 608.2 L591.5 608.1 L592.0 608.2 L592.5 608.3 L593.0 608.5 L593.5 608.8 L594.0 609.1 L594.5 609.3 L595.0 609.5 L595.5 609.5 L596.0 609.4 L596.5 609.3 L597.0 609.0 L597.5 608.6 L598.0 608.2 L598.5 607.9 L599.0 607.5 L599.5 607.3 L600.0 607.0 L600.5 606.9 L601.0 606.7 L601.5 606.7 L602.0 606.7 L602.5 606.7 L603.0 606.8 L603.5 607.1 L604.0 607.4 L604.5 607.9 L605.0 608.6 L605.5 609.5 L606.0 610.8 L606.5 612.3 L607.0 614.1 L607.5 616.0 L608.0 618.1 L608.5 620.2 L609.0 622.0 L609.5 623.4 L610.0 624.4 L610.5 624.7 L611.0 624.4 L611.5 623.4 L612.0 622.0 L612.5 620.2 L613.0 618.1 L613.5 616.0 L614.0 614.1 L614.5 612.3 L615.0 610.8 L615.5 609.5 L616.0 608.6 L616.5 607.9 L617.0 607.4 L617.5 607.0 L618.0 606.8 L618.5 606.7 L619.0 606.6 L619.5 606.6 L620.0 606.5 L620.5 606.5 L621.0 606.5 L621.5 606.5 L622.0 606.5 L622.5 606.5 L623.0 606.5 L623.5 606.5 L624.0 606.5 L624.5 606.5 L625.0 606.5 L625.5 606.5 L626.0 606.5 L626.5 606.5 L627.0 606.5 L627.5 606.5 L628.0 606.5 L628.5 606.5 L629.0 606.5 L629.5 606.5 L630.0 606.5 L630.5 606.5 L631.0 606.5 L631.5 606.5 L632.0 606.5 L632.5 606.5 L633.0 606.5 L633.5 606.5 L634.0 606.5 L634.5 606.5 L635.0 606.5 L635.5 606.5 L636.0 606.5 L636.5 606.5 L637.0 606.5 L637.5 606.5 L638.0 606.5 L638.5 606.5 L639.0 606.5 L639.5 606.5 L640.0 606.5 L640.5 606.5 L641.0 606.5 L641.5 606.5 L642.0 606.5 L642.5 606.5 L643.0 606.5 L643.5 606.5 L644.0 606.5 L644.5 606.5 L645.0 606.5 L645.5 606.5 L646.0 606.5 L646.5 606.6 L647.0 606.6 L647.5 606.6 L648.0 606.7 L648.5 606.8 L649.0 607.0 L649.5 607.2 L650.0 607.4 L650.5 607.7 L651.0 607.9 L651.5 608.1 L652.0 608.3 L652.5 608.5 L653.0 608.5 L653.5 608.5 L654.0 608.3 L654.5 608.1 L655.0 607.9 L655.5 607.7 L656.0 607.4 L656.5 607.2 L657.0 607.0 L657.5 606.8 L658.0 606.7 L658.5 606.6 L659.0 606.6 L659.5 606.6 L660.0 606.5 L660.5 606.5 L661.0 606.5 L661.5 606.5 L662.0 606.5 L662.5 606.5 L663.0 606.5 L663.5 606.5 L664.0 606.5 L664.5 606.5 L665.0 606.5 L665.5 606.5 L666.0 606.5 L666.5 606.5 L667.0 606.5 L667.5 606.5 L668.0 606.5 L668.5 606.5 L669.0 606.6 L669.5 606.6 L670.0 606.7 L670.5 606.7 L671.0 606.8 L671.5 606.9 L672.0 607.0 L672.5 607.2 L673.0 607.3 L673.5 607.5 L674.0 607.7 L674.5 607.8 L675.0 607.9 L675.5 608.0 L676.0 608.0 L676.5 608.0 L677.0 607.9 L677.5 607.8 L678.0 607.7 L678.5 607.5 L679.0 607.3 L679.5 607.2 L680.0 607.0 L680.5 606.9 L681.0 606.8 L681.5 606.7 L682.0 606.7 L682.5 606.6 L683.0 606.6 L683.5 606.5 L684.0 606.5 L684.5 606.5 L685.0 606.5 L685.5 606.5 L686.0 606.5 L686.5 606.5 L687.0 606.5 L687.5 606.5 L688.0 606.5 L688.5 606.5 L689.0 606.5 L689.5 606.5 L690.0 606.5 L690.5 606.5 L691.0 606.5 L691.5 606.5 L692.0 606.5 L692.5 606.5 L693.0 606.5 L693.5 606.5 L694.0 606.5 L694.5 606.6 L695.0 606.6 L695.5 606.7 L696.0 606.9 L696.5 607.2 L697.0 607.5 L697.5 608.1 L698.0 608.7 L698.5 609.6 L699.0 610.6 L699.5 611.7 L700.0 612.9 L700.5 613.9 L701.0 614.8 L701.5 615.3 L702.0 615.5 L702.5 615.3 L703.0 614.8 L703.5 613.9 L704.0 612.9 L704.5 611.7 L705.0 610.6 L705.5 609.6 L706.0 608.7 L706.5 608.1 L707.0 607.5 L707.5 607.2 L708.0 606.9 L708.5 606.7 L709.0 606.6 L709.5 606.6 L710.0 606.5 L710.5 606.5 L711.0 606.5 L711.5 606.5 L712.0 606.5 L712.5 606.5 L713.0 606.5 L713.5 606.5 L714.0 606.5 L714.5 606.5 L715.0 606.5 L715.5 606.5 L716.0 606.5 L716.5 606.5 L717.0 606.5 L717.5 606.5 L718.0 606.5 L718.5 606.5 L719.0 606.5 L719.5 606.5 L720.0 606.5 L720.5 606.5 L721.0 606.5 L721.5 606.5 L722.0 606.5 L722.5 606.5 L723.0 606.5 L723.5 606.5 L724.0 606.5 L724.5 606.5 L725.0 606.5 L725.5 606.5 L726.0 606.5 L726.5 606.5 L727.0 606.5 L727.5 606.5 L728.0 606.5 L728.5 606.5 L729.0 606.5 L729.5 606.5 L730.0 606.5 L730.5 606.5 L731.0 606.5 L731.5 606.5 L732.0 606.5 L732.5 606.5 L733.0 606.5 L733.5 606.5 L734.0 606.5 L734.5 606.5 L735.0 606.5 L735.5 606.5 L736.0 606.5 L736.5 606.5 L737.0 606.5 L737.5 606.5 L738.0 606.5 L738.5 606.5 L739.0 606.5 L739.5 606.5 L740.0 606.5 L740.5 606.5 L741.0 606.5 L741.5 606.5 L742.0 606.5 L742.5 606.5 L743.0 606.5 L743.5 606.5 L744.0 606.5 L744.5 606.5 L745.0 606.5 L745.5 606.5 L746.0 606.5 L746.5 606.5 L747.0 606.5 L747.5 606.5 L748.0 606.5 L748.5 606.5 L749.0 606.5 L749.5 606.5 L750.0 606.5 L750.5 606.5 L751.0 606.5 L751.5 606.5 L752.0 606.5 L752.5 606.5 L753.0 606.5 L753.5 606.5 L754.0 606.5 L754.5 606.5 L755.0 606.5 L755.5 606.5 L756.0 606.5 L756.5 606.5 L757.0 606.5 L757.5 606.5 L758.0 606.5 L758.5 606.5 L759.0 606.5 L759.5 606.5 L760.0 606.5 L760.5 606.5 L761.0 606.6 L761.5 606.6 L762.0 606.7 L762.5 606.7 L763.0 606.9 L763.5 607.0 L764.0 607.2 L764.5 607.5 L765.0 607.8 L765.5 608.1 L766.0 608.5 L766.5 608.8 L767.0 609.2 L767.5 609.5 L768.0 609.8 L768.5 609.9 L769.0 610.0 L769.5 609.9 L770.0 609.8 L770.5 609.5 L771.0 609.2 L771.5 608.8 L772.0 608.5 L772.5 608.1 L773.0 607.8 L773.5 607.5 L774.0 607.2 L774.5 607.0 L775.0 606.9 L775.5 606.7 L776.0 606.7 L776.5 606.6 L777.0 606.6 L777.5 606.5 L778.0 606.5 L778.5 606.5 L779.0 606.5 L779.5 606.5 L780.0 606.5 L780.5 606.5 L781.0 606.5 L781.5 606.5 L782.0 606.5 L782.5 606.5 L783.0 606.5 L783.5 606.5 L784.0 606.5 L784.5 606.5 L785.0 606.5 L785.5 606.5 L786.0 606.5 L786.5 606.5 L787.0 606.5 L787.5 606.5 L788.0 606.5 L788.5 606.5 L789.0 606.5 L789.5 606.5 L790.0 606.5 L790.5 606.5 L791.0 606.5 L791.5 606.5 L792.0 606.5 L792.5 606.5 L793.0 606.5 L793.5 606.5 L794.0 606.5 L794.5 606.5 L795.0 606.5 L795.5 606.5 L796.0 606.5 L796.5 606.5 L797.0 606.5 L797.5 606.5 L798.0 606.5 L798.5 606.5 L799.0 606.5 L799.5 606.5 L800.0 606.5 L800.5 606.5 L801.0 606.5 L801.5 606.5 L802.0 606.5 L802.5 606.5 L803.0 606.5 L803.5 606.5 L804.0 606.5 L804.5 606.5 L805.0 606.5 L805.5 606.5 L806.0 606.5 L806.5 606.5 L807.0 606.5 L807.5 606.5 L808.0 606.5 L808.5 606.5 L809.0 606.5 L809.5 606.5 L810.0 606.5 L810.5 606.5 L811.0 606.6 L811.5 606.6 L812.0 606.7 L812.5 606.7 L813.0 606.8 L813.5 606.9 L814.0 607.0 L814.5 607.2 L815.0 607.3 L815.5 607.5 L816.0 607.7 L816.5 607.8 L817.0 607.9 L817.5 608.0 L818.0 608.0 L818.5 608.0 L819.0 607.9 L819.5 607.8 L820.0 607.7 L820.5 607.5 L821.0 607.3 L821.5 607.2 L822.0 607.0 L822.5 606.9 L823.0 606.8 L823.5 606.7 L824.0 606.7 L824.5 606.6 L825.0 606.6 L825.5 606.5 L826.0 606.5 L826.5 606.5 L827.0 606.5 L827.5 606.5 L828.0 606.5 L828.5 606.5 L829.0 606.5 L829.5 606.5 L830.0 606.5 L830.5 606.5 L831.0 606.5 L831.5 606.5 L832.0 606.5 L832.5 606.5 L833.0 606.5 L833.5 606.5 L834.0 606.5 L834.5 606.5 L835.0 606.5 L835.5 606.5 L836.0 606.5 L836.5 606.5 L837.0 606.5 L837.5 606.5 L838.0 606.5 L838.5 606.5 L839.0 606.5 L839.5 606.5 L840.0 606.5 L840.5 606.5 L841.0 606.5 L841.5 606.5 L842.0 606.5 L842.5 606.5 L843.0 606.5 L843.5 606.5 L844.0 606.5 L844.5 606.5 L845.0 606.5 L845.5 606.5 L846.0 606.5 L846.5 606.5 L847.0 606.5 L847.5 606.5 L848.0 606.6 L848.5 606.6 L849.0 606.7 L849.5 606.7 L850.0 606.8 L850.5 606.9 L851.0 607.0 L851.5 607.2 L852.0 607.3 L852.5 607.5 L853.0 607.7 L853.5 607.8 L854.0 607.9 L854.5 608.0 L855.0 608.0 L855.5 608.0 L856.0 607.9 L856.5 607.8 L857.0 607.7 L857.5 607.5 L858.0 607.3 L858.5 607.2 L859.0 607.0 L859.5 606.9 L860.0 606.8 L860.5 606.7 L861.0 606.7 L861.5 606.6 L862.0 606.6 L862.5 606.6 L863.0 606.6 L863.5 606.6 L864.0 606.7 L864.5 606.8 L865.0 606.9 L865.5 607.1 L866.0 607.3 L866.5 607.6 L867.0 607.9 L867.5 608.3 L868.0 608.8 L868.5 609.2 L869.0 609.6 L869.5 610.0 L870.0 610.3 L870.5 610.4 L871.0 610.5 L871.5 610.4 L872.0 610.3 L872.5 610.0 L873.0 609.6 L873.5 609.2 L874.0 608.8 L874.5 608.3 L875.0 607.9 L875.5 607.6 L876.0 607.3 L876.5 607.1 L877.0 606.9 L877.5 606.8 L878.0 606.7 L878.5 606.6 L879.0 606.6 L879.5 606.5 L880.0 606.5 L880.5 606.5 L881.0 606.5 L881.5 606.5 L882.0 606.5 L882.5 606.5 L883.0 606.5 L883.5 606.5 L884.0 606.5 L884.5 606.5 L885.0 606.5 L885.5 606.5 L886.0 606.5 L886.5 606.5 L887.0 606.5 L887.5 606.5 L888.0 606.5 L888.5 606.5 L889.0 606.5 L889.5 606.5 L890.0 606.5 L890.5 606.5 L891.0 606.5 L891.5 606.5 L892.0 606.5 L892.5 606.5 L893.0 606.5 L893.5 606.5 L894.0 606.5 L894.5 606.5 L895.0 606.5 L895.5 606.5 L896.0 606.5 L896.5 606.5 L897.0 606.5 L897.5 606.5 L898.0 606.5 L898.5 606.5 L899.0 606.5 L899.5 606.5 L900.0 606.5" stroke="#f00"/>
</g>
<path d="M126.5 734.5v-5.9M126.5 597.5v5.9M146.5 734.5v-3.0M146.5 597.5v3.0M166.5 734.5v-3.0M166.5 597.5v3.0M187.5 734.5v-3.0M187.5 597.5v3.0M207.5 734.5v-3.0M207.5 597.5v3.0M228.5 734.5v-5.9M228.5 597.5v5.9M248.5 734.5v-3.0M248.5 597.5v3.0M268.5 734.5v-3.0M268.5 597.5v3.0M289.5 734.5v-3.0M289.5 597.5v3.0M309.5 734.5v-3.0M309.5 597.5v3.0M330.5 734.5v-5.9M330.5 597.5v5.9M350.5 734.5v-3.0M350.5 597.5v3.0M370.5 734.5v-3.0M370.5 597.5v3.0M391.5 734.5v-3.0M391.5 597.5v3.0M411.5 734.5v-3.0M411.5 597.5v3.0M432.5 734.5v-5.9M432.5 597.5v5.9M452.5 734.5v-3.0M452.5 597.5v3.0M473.5 734.5v-3.0M473.5 597.5v3.0M493.5 734.5v-3.0M493.5 597.5v3.0M513.5 734.5v-3.0M513.5 597.5v3.0M534.5 734.5v-5.9M534.5 597.5v5.9M554.5 734.5v-3.0M554.5 597.5v3.0M575.5 734.5v-3.0M575.5 597.5v3.0M595.5 734.5v-3.0M595.5 597.5v3.0M615.5 734.5v-3.0M615.5 597.5v3.0M636.5 734.5v-5.9M636.5 597.5v5.9M656.5 734.5v-3.0M656.5 597.5v3.0M677.5 734.5v-3.0M677.5 597.5v3.0M697.5 734.5v-3.0M697.5 597.5v3.0M717.5 734.5v-3.0M717.5 597.5v3.0M738.5 734.5v-5.9M738.5 597.5v5.9M758.5 734.5v-3.0M758.5 597.5v3.0M779.5 734.5v-3.0M779.5 597.5v3.0M799.5 734.5v-3.0M799.5 597.5v3.0M819.5 734.5v-3.0M819.5 597.5v3.0M840.5 734.5v-5.9M840.5 597.5v5.9M860.5 734.5v-3.0M860.5 597.5v3.0M125.5 734.5h5.9M900.5 734.5h-5.9M125.5 729.5h3.0M900.5 729.5h-3.0M125.5 723.5h3.0M900.5 723.5h-3.0M125.5 718.5h3.0M900.5 718.5h-3.0M125.5 712.5h3.0M900.5 712.5h-3.0M125.5 707.5h5.9M900.5 707.5h-5.9M125.5 701.5h3.0M900.5 701.5h-3.0M125.5 696.5h3.0M900.5 696.5h-3.0M125.5 690.5h3.0M900.5 690.5h-3.0M125.5 685.5h3.0M900.5 685.5h-3.0M125.5 679.5h5.9M900.5 679.5h-5.9M125.5 674.5h3.0M900.5 674.5h-3.0M125.5 668.5h3.0M900.5 668.5h-3.0M125.5 663.5h3.0M900.5 663.5h-3.0M125.5 657.5h3.0M900.5 657.5h-3.0M125.5 652.5h5.9M900.5 652.5h-5.9M125.5 646.5h3.0M900.5 646.5h-3.0M125.5 641.5h3.0M900.5 641.5h-3.0M125.5 635.5h3.0M900.5 635.5h-3.0M125.5 629.5h3.0M900.5 629.5h-3.0M125.5 624.5h5.9M900.5 624.5h-5.9M125.5 618.5h3.0M900.5 618.5h-3.0M125.5 613.5h3.0M900.5 613.5h-3.0M125.5 607.5h3.0M900.5 607.5h-3.0" stroke="#000" stroke-width="0.85" fill="none"/>
<rect x="125.5" y="597.5" width="775.0" height="137.0" fill="none" stroke="#000" stroke-width="1.45"/>
<g font-family="Liberation Sans, sans-serif" font-size="16.67" fill="#000">
<text x="125.2" y="751.0" text-anchor="middle">6670</text>
<text x="227.2" y="751.0" text-anchor="middle">6680</text>
<text x="329.3" y="751.0" text-anchor="middle">6690</text>
<text x="431.3" y="751.0" text-anchor="middle">6700</text>
<text x="533.3" y="751.0" text-anchor="middle">6710</text>
<text x="635.3" y="751.0" text-anchor="middle">6720</text>
<text x="737.4" y="751.0" text-anchor="middle">6730</text>
<text x="839.4" y="751.0" text-anchor="middle">6740</text>
<text x="119.4" y="738.9" text-anchor="end">0</text>
<text x="119.4" y="711.9" text-anchor="end">1000</text>
<text x="119.4" y="683.9" text-anchor="end">2000</text>
<text x="119.4" y="656.9" text-anchor="end">3000</text>
<text x="119.4" y="628.9" text-anchor="end">4000</text>
</g>
<g clip-path="url(#c4)" fill="none" stroke-linejoin="round" stroke-width="1.55">
<path d="M125.0 768.3 L126.0 768.9 L127.0 770.1 L128.0 768.9 L129.0 769.0 L130.0 769.4 L131.0 767.8 L132.0 767.5 L133.0 767.8 L134.0 767.1 L135.0 766.4 L136.0 766.6 L137.0 767.5 L138.0 767.5 L139.0 766.7 L140.0 767.6 L141.0 770.0 L142.0 770.8 L143.0 769.3 L144.0 770.4 L145.0 770.2 L146.0 770.0 L147.0 771.0 L148.0 771.9 L149.0 770.4 L150.0 765.8 L151.0 763.3 L152.0 767.8 L153.0 771.3 L154.0 772.0 L155.0 771.1 L156.0 769.8 L157.0 769.5 L158.0 769.8 L159.0 769.5 L160.0 768.7 L161.0 765.1 L162.0 763.2 L163.0 768.5 L164.0 776.5 L165.0 780.2 L166.0 781.9 L167.0 781.6 L168.0 779.2 L169.0 774.9 L170.0 769.5 L171.0 763.3 L172.0 761.0 L173.0 764.1 L174.0 767.8 L175.0 769.7 L176.0 768.6 L177.0 767.3 L178.0 766.8 L179.0 767.8 L180.0 768.6 L181.0 769.2 L182.0 770.0 L183.0 769.6 L184.0 767.8 L185.0 767.7 L186.0 768.2 L187.0 768.3 L188.0 768.8 L189.0 771.0 L190.0 773.0 L191.0 775.5 L192.0 774.7 L193.0 772.9 L194.0 772.7 L195.0 771.5 L196.0 772.6 L197.0 771.9 L198.0 768.4 L199.0 766.1 L200.0 766.2 L201.0 768.0 L202.0 767.8 L203.0 766.9 L204.0 767.7 L205.0 769.4 L206.0 769.1 L207.0 769.4 L208.0 769.6 L209.0 769.8 L210.0 769.2 L211.0 768.1 L212.0 767.6 L213.0 767.0 L214.0 767.5 L215.0 768.8 L216.0 768.2 L217.0 768.0 L218.0 767.7 L219.0 768.3 L220.0 769.7 L221.0 769.3 L222.0 769.4 L223.0 770.6 L224.0 770.1 L225.0 770.0 L226.0 768.4 L227.0 767.3 L228.0 768.3 L229.0 769.1 L230.0 768.9 L231.0 769.7 L232.0 771.2 L233.0 770.4 L234.0 771.0 L235.0 772.2 L236.0 772.6 L237.0 773.6 L238.0 772.3 L239.0 769.8 L240.0 769.8 L241.0 771.3 L242.0 771.0 L243.0 768.4 L244.0 768.2 L245.0 769.1 L246.0 768.0 L247.0 766.2 L248.0 764.6 L249.0 764.1 L250.0 764.8 L251.0 764.6 L252.0 763.3 L253.0 764.0 L254.0 766.1 L255.0 766.3 L256.0 766.1 L257.0 766.1 L258.0 766.6 L259.0 768.0 L260.0 769.6 L261.0 769.9 L262.0 769.0 L263.0 768.7 L264.0 769.6 L265.0 770.4 L266.0 770.3 L267.0 769.1 L268.0 767.0 L269.0 766.0 L270.0 767.2 L271.0 767.3 L272.0 766.3 L273.0 765.4 L274.0 765.8 L275.0 767.5 L276.0 767.1 L277.0 766.2 L278.0 767.0 L279.0 767.8 L280.0 768.6 L281.0 769.7 L282.0 767.6 L283.0 766.3 L284.0 767.0 L285.0 767.3 L286.0 768.1 L287.0 768.2 L288.0 767.8 L289.0 767.5 L290.0 767.9 L291.0 767.7 L292.0 768.0 L293.0 767.0 L294.0 766.7 L295.0 766.8 L296.0 767.3 L297.0 768.3 L298.0 768.3 L299.0 767.8 L300.0 767.7 L301.0 766.6 L302.0 766.3 L303.0 767.7 L304.0 767.9 L305.0 768.2 L306.0 767.4 L307.0 767.1 L308.0 766.8 L309.0 766.0 L310.0 766.8 L311.0 767.3 L312.0 766.1 L313.0 765.2 L314.0 766.5 L315.0 768.0 L316.0 769.2 L317.0 769.2 L318.0 768.1 L319.0 767.9 L320.0 768.9 L321.0 767.9 L322.0 768.0 L323.0 768.9 L324.0 769.1 L325.0 768.2 L326.0 767.0 L327.0 766.3 L328.0 767.0 L329.0 768.1 L330.0 769.2 L331.0 769.5 L332.0 768.6 L333.0 768.5 L334.0 769.4 L335.0 766.8 L336.0 765.3 L337.0 765.9 L338.0 766.7 L339.0 766.7 L340.0 766.7 L341.0 768.3 L342.0 772.0 L343.0 774.5 L344.0 778.1 L345.0 782.4 L346.0 783.9 L347.0 783.3 L348.0 780.6 L349.0 775.3 L350.0 771.3 L351.0 769.1 L352.0 768.5 L353.0 768.4 L354.0 768.0 L355.0 766.8 L356.0 766.4 L357.0 766.9 L358.0 767.1 L359.0 766.3 L360.0 765.7 L361.0 764.9 L362.0 766.0 L363.0 764.9 L364.0 765.0 L365.0 766.5 L366.0 767.0 L367.0 766.8 L368.0 766.1 L369.0 766.0 L370.0 765.5 L371.0 764.9 L372.0 765.4 L373.0 766.4 L374.0 767.6 L375.0 768.6 L376.0 769.8 L377.0 770.7 L378.0 771.4 L379.0 772.1 L380.0 771.9 L381.0 771.2 L382.0 771.4 L383.0 769.6 L384.0 768.8 L385.0 769.1 L386.0 768.6 L387.0 768.5 L388.0 768.6 L389.0 770.4 L390.0 773.8 L391.0 777.2 L392.0 778.3 L393.0 777.4 L394.0 775.9 L395.0 773.5 L396.0 770.0 L397.0 766.8 L398.0 766.2 L399.0 767.0 L400.0 765.9 L401.0 766.0 L402.0 766.4 L403.0 766.9 L404.0 766.5 L405.0 765.9 L406.0 764.8 L407.0 766.3 L408.0 767.2 L409.0 766.8 L410.0 767.4 L411.0 766.7 L412.0 765.6 L413.0 764.9 L414.0 766.6 L415.0 766.2 L416.0 765.3 L417.0 765.0 L418.0 765.5 L419.0 766.7 L420.0 766.9 L421.0 767.2 L422.0 766.7 L423.0 766.7 L424.0 766.3 L425.0 767.9 L426.0 769.6 L427.0 768.3 L428.0 766.8 L429.0 766.7 L430.0 767.6 L431.0 767.3 L432.0 764.7 L433.0 765.5 L434.0 768.2 L435.0 768.3 L436.0 768.2 L437.0 768.8 L438.0 769.5 L439.0 769.4 L440.0 769.2 L441.0 770.8 L442.0 769.7 L443.0 767.9 L444.0 767.8 L445.0 768.2 L446.0 768.2 L447.0 768.0 L448.0 766.8 L449.0 764.3 L450.0 765.7 L451.0 768.0 L452.0 767.5 L453.0 765.8 L454.0 766.4 L455.0 766.9 L456.0 766.1 L457.0 766.2 L458.0 767.2 L459.0 766.5 L460.0 766.2 L461.0 765.8 L462.0 765.6 L463.0 764.6 L464.0 765.4 L465.0 766.4 L466.0 765.3 L467.0 765.0 L468.0 764.5 L469.0 764.4 L470.0 764.5 L471.0 764.0 L472.0 765.7 L473.0 766.4 L474.0 766.8 L475.0 765.9 L476.0 767.9 L477.0 768.9 L478.0 767.2 L479.0 765.8 L480.0 766.5 L481.0 766.6 L482.0 766.3 L483.0 765.9 L484.0 766.1 L485.0 766.5 L486.0 765.6 L487.0 765.6 L488.0 765.9 L489.0 766.3 L490.0 767.4 L491.0 765.4 L492.0 763.9 L493.0 764.8 L494.0 765.2 L495.0 764.4 L496.0 765.0 L497.0 766.7 L498.0 766.5 L499.0 767.8 L500.0 767.4 L501.0 766.9 L502.0 768.8 L503.0 767.9 L504.0 766.7 L505.0 767.9 L506.0 768.6 L507.0 767.7 L508.0 767.8 L509.0 767.6 L510.0 766.8 L511.0 765.9 L512.0 764.8 L513.0 763.9 L514.0 765.3 L515.0 766.2 L516.0 765.3 L517.0 766.3 L518.0 766.0 L519.0 764.7 L520.0 766.5 L521.0 768.0 L522.0 767.5 L523.0 768.0 L524.0 768.3 L525.0 767.3 L526.0 768.3 L527.0 768.0 L528.0 767.4 L529.0 767.1 L530.0 766.5 L531.0 765.6 L532.0 765.5 L533.0 766.2 L534.0 765.7 L535.0 765.4 L536.0 765.3 L537.0 765.8 L538.0 767.6 L539.0 769.9 L540.0 770.9 L541.0 772.1 L542.0 771.5 L543.0 769.5 L544.0 768.4 L545.0 768.7 L546.0 766.4 L547.0 766.9 L548.0 768.0 L549.0 766.3 L550.0 765.1 L551.0 765.7 L552.0 766.9 L553.0 767.4 L554.0 766.1 L555.0 764.3 L556.0 764.2 L557.0 764.6 L558.0 763.9 L559.0 765.1 L560.0 766.6 L561.0 765.4 L562.0 765.5 L563.0 765.0 L564.0 764.7 L565.0 764.6 L566.0 763.7 L567.0 764.8 L568.0 766.4 L569.0 766.4 L570.0 765.5 L571.0 764.6 L572.0 765.1 L573.0 766.5 L574.0 767.8 L575.0 768.2 L576.0 767.6 L577.0 768.2 L578.0 767.4 L579.0 766.0 L580.0 764.7 L581.0 765.1 L582.0 764.6 L583.0 763.5 L584.0 764.1 L585.0 764.5 L586.0 764.4 L587.0 765.1 L588.0 764.5 L589.0 764.8 L590.0 765.2 L591.0 764.6 L592.0 763.8 L593.0 764.7 L594.0 765.6 L595.0 765.8 L596.0 765.7 L597.0 766.2 L598.0 765.7 L599.0 766.7 L600.0 766.6 L601.0 766.3 L602.0 766.9 L603.0 765.7 L604.0 766.3 L605.0 768.0 L606.0 769.1 L607.0 769.7 L608.0 770.2 L609.0 770.1 L610.0 768.7 L611.0 766.9 L612.0 766.9 L613.0 767.4 L614.0 765.9 L615.0 765.1 L616.0 764.1 L617.0 764.0 L618.0 765.0 L619.0 765.9 L620.0 764.4 L621.0 764.7 L622.0 766.0 L623.0 766.2 L624.0 766.6 L625.0 766.3 L626.0 766.3 L627.0 766.0 L628.0 766.0 L629.0 765.8 L630.0 766.0 L631.0 767.9 L632.0 769.5 L633.0 768.0 L634.0 767.7 L635.0 768.8 L636.0 769.4 L637.0 767.7 L638.0 765.2 L639.0 765.4 L640.0 765.2 L641.0 764.4 L642.0 763.0 L643.0 764.6 L644.0 764.9 L645.0 765.2 L646.0 764.2 L647.0 764.0 L648.0 764.7 L649.0 764.9 L650.0 764.5 L651.0 765.8 L652.0 765.3 L653.0 765.5 L654.0 765.9 L655.0 765.2 L656.0 765.4 L657.0 766.8 L658.0 767.4 L659.0 768.2 L660.0 768.3 L661.0 767.2 L662.0 767.5 L663.0 769.4 L664.0 769.5 L665.0 768.2 L666.0 767.7 L667.0 766.3 L668.0 765.4 L669.0 766.6 L670.0 766.8 L671.0 766.8 L672.0 768.0 L673.0 767.2 L674.0 765.2 L675.0 763.7 L676.0 763.3 L677.0 764.5 L678.0 765.4 L679.0 766.0 L680.0 766.7 L681.0 766.8 L682.0 766.6 L683.0 766.5 L684.0 767.5 L685.0 766.8 L686.0 765.7 L687.0 764.8 L688.0 764.6 L689.0 764.5 L690.0 763.6 L691.0 764.1 L692.0 765.6 L693.0 765.0 L694.0 764.6 L695.0 764.4 L696.0 764.2 L697.0 765.8 L698.0 765.7 L699.0 764.4 L700.0 762.8 L701.0 764.0 L702.0 765.1 L703.0 765.2 L704.0 764.8 L705.0 765.4 L706.0 765.5 L707.0 766.0 L708.0 766.8 L709.0 766.6 L710.0 765.3 L711.0 765.9 L712.0 765.9 L713.0 765.6 L714.0 767.5 L715.0 768.3 L716.0 768.1 L717.0 767.7 L718.0 768.8 L719.0 769.0 L720.0 768.3 L721.0 767.1 L722.0 765.1 L723.0 765.2 L724.0 765.7 L725.0 764.2 L726.0 764.2 L727.0 765.4 L728.0 762.2 L729.0 760.8 L730.0 761.8 L731.0 762.6 L732.0 763.0 L733.0 763.5 L734.0 762.9 L735.0 762.6 L736.0 763.2 L737.0 763.5 L738.0 764.8 L739.0 766.0 L740.0 768.0 L741.0 768.7 L742.0 768.9 L743.0 771.3 L744.0 772.9 L745.0 772.5 L746.0 771.7 L747.0 772.6 L748.0 770.6 L749.0 767.5 L750.0 765.2 L751.0 764.7 L752.0 765.5 L753.0 765.2 L754.0 763.5 L755.0 763.3 L756.0 763.7 L757.0 764.9 L758.0 765.4 L759.0 765.5 L760.0 764.2 L761.0 763.8 L762.0 764.7 L763.0 764.9 L764.0 764.1 L765.0 764.4 L766.0 765.0 L767.0 765.2 L768.0 764.5 L769.0 764.8 L770.0 764.4 L771.0 763.8 L772.0 765.0 L773.0 765.8 L774.0 766.1 L775.0 765.4 L776.0 767.0 L777.0 769.0 L778.0 770.5 L779.0 773.0 L780.0 773.9 L781.0 773.6 L782.0 771.5 L783.0 768.2 L784.0 767.6 L785.0 766.8 L786.0 766.4 L787.0 766.5 L788.0 765.5 L789.0 764.5 L790.0 762.6 L791.0 764.2 L792.0 765.8 L793.0 765.8 L794.0 765.0 L795.0 764.1 L796.0 764.1 L797.0 764.8 L798.0 765.3 L799.0 765.5 L800.0 764.2 L801.0 764.0 L802.0 765.7 L803.0 763.8 L804.0 762.6 L805.0 765.6 L806.0 766.1 L807.0 765.8 L808.0 766.0 L809.0 765.2 L810.0 764.5 L811.0 765.3 L812.0 764.9 L813.0 765.5 L814.0 766.3 L815.0 767.9 L816.0 769.1 L817.0 768.0 L818.0 766.8 L819.0 764.8 L820.0 765.3 L821.0 767.1 L822.0 767.8 L823.0 768.2 L824.0 768.2 L825.0 766.8 L826.0 766.2 L827.0 765.5 L828.0 766.7 L829.0 767.4 L830.0 765.7 L831.0 764.7 L832.0 765.0 L833.0 765.2 L834.0 764.6 L835.0 763.8 L836.0 764.2 L837.0 764.8 L838.0 764.8 L839.0 765.0 L840.0 764.3 L841.0 763.3 L842.0 764.2 L843.0 764.7 L844.0 764.4 L845.0 764.6 L846.0 764.8 L847.0 765.7 L848.0 764.9 L849.0 764.5 L850.0 764.9 L851.0 764.8 L852.0 764.2 L853.0 764.7 L854.0 764.6 L855.0 764.3 L856.0 763.5 L857.0 762.9 L858.0 763.8 L859.0 764.0 L860.0 764.0 L861.0 765.2 L862.0 764.3 L863.0 762.8 L864.0 763.0 L865.0 763.3 L866.0 763.2 L867.0 762.5 L868.0 762.4 L869.0 761.9 L870.0 763.1 L871.0 763.9 L872.0 763.2 L873.0 764.2 L874.0 764.6 L875.0 763.1 L876.0 762.3 L877.0 765.0 L878.0 766.7 L879.0 766.3 L880.0 768.6 L881.0 770.7 L882.0 771.1 L883.0 772.8 L884.0 773.6 L885.0 770.5 L886.0 768.3 L887.0 766.8 L888.0 764.1 L889.0 762.7 L890.0 764.3 L891.0 763.5 L892.0 764.0 L893.0 765.0 L894.0 764.7 L895.0 763.8 L896.0 763.4 L897.0 764.4 L898.0 765.4 L899.0 763.5 L900.0 762.5" stroke="#000"/>
<path d="M125.0 768.0 L125.5 768.0 L126.0 768.0 L126.5 768.0 L127.0 768.0 L127.5 768.0 L128.0 768.0 L128.5 768.0 L129.0 768.0 L129.5 768.0 L130.0 768.0 L130.5 768.0 L131.0 768.0 L131.5 768.0 L132.0 768.0 L132.5 768.0 L133.0 768.0 L133.5 768.0 L134.0 768.0 L134.5 768.0 L135.0 768.0 L135.5 768.0 L136.0 768.0 L136.5 768.0 L137.0 768.0 L137.5 768.0 L138.0 768.0 L138.5 768.0 L139.0 768.0 L139.5 768.0 L140.0 768.0 L140.5 768.0 L141.0 768.0 L141.5 768.0 L142.0 768.0 L142.5 768.0 L143.0 768.0 L143.5 768.0 L144.0 768.1 L144.5 768.1 L145.0 768.2 L145.5 768.3 L146.0 768.4 L146.5 768.6 L147.0 768.8 L147.5 769.0 L148.0 769.3 L148.5 769.6 L149.0 769.9 L149.5 770.1 L150.0 770.4 L150.5 770.6 L151.0 770.8 L151.5 770.9 L152.0 770.9 L152.5 770.9 L153.0 770.8 L153.5 770.6 L154.0 770.4 L154.5 770.1 L155.0 769.8 L155.5 769.5 L156.0 769.3 L156.5 769.0 L157.0 768.8 L157.5 768.6 L158.0 768.4 L158.5 768.3 L159.0 768.2 L159.5 768.2 L160.0 768.3 L160.5 768.4 L161.0 768.7 L161.5 769.2 L162.0 770.0 L162.5 771.1 L163.0 772.5 L163.5 774.2 L164.0 776.1 L164.5 778.1 L165.0 779.9 L165.5 781.3 L166.0 782.2 L166.5 782.4 L167.0 781.9 L167.5 780.8 L168.0 779.2 L168.5 777.3 L169.0 775.3 L169.5 773.5 L170.0 771.9 L170.5 770.6 L171.0 769.6 L171.5 768.9 L172.0 768.5 L172.5 768.2 L173.0 768.0 L173.5 767.9 L174.0 767.9 L174.5 767.9 L175.0 767.8 L175.5 767.8 L176.0 767.8 L176.5 767.8 L177.0 767.8 L177.5 767.8 L178.0 767.8 L178.5 767.8 L179.0 767.8 L179.5 767.8 L180.0 767.8 L180.5 767.8 L181.0 767.8 L181.5 767.8 L182.0 767.8 L182.5 767.8 L183.0 767.8 L183.5 767.8 L184.0 767.8 L184.5 767.9 L185.0 767.9 L185.5 768.0 L186.0 768.1 L186.5 768.3 L187.0 768.5 L187.5 768.8 L188.0 769.1 L188.5 769.5 L189.0 769.9 L189.5 770.4 L190.0 770.9 L190.5 771.4 L191.0 771.7 L191.5 772.0 L192.0 772.2 L192.5 772.3 L193.0 772.2 L193.5 771.9 L194.0 771.6 L194.5 771.2 L195.0 770.7 L195.5 770.2 L196.0 769.7 L196.5 769.3 L197.0 768.9 L197.5 768.6 L198.0 768.4 L198.5 768.2 L199.0 768.0 L199.5 767.9 L200.0 767.9 L200.5 767.8 L201.0 767.8 L201.5 767.8 L202.0 767.7 L202.5 767.7 L203.0 767.7 L203.5 767.7 L204.0 767.7 L204.5 767.7 L205.0 767.7 L205.5 767.7 L206.0 767.7 L206.5 767.7 L207.0 767.7 L207.5 767.7 L208.0 767.7 L208.5 767.7 L209.0 767.7 L209.5 767.7 L210.0 767.7 L210.5 767.7 L211.0 767.7 L211.5 767.7 L212.0 767.7 L212.5 767.7 L213.0 767.7 L213.5 767.7 L214.0 767.7 L214.5 767.7 L215.0 767.7 L215.5 767.7 L216.0 767.7 L216.5 767.7 L217.0 767.7 L217.5 767.7 L218.0 767.7 L218.5 767.8 L219.0 767.8 L219.5 767.8 L220.0 767.9 L220.5 768.0 L221.0 768.0 L221.5 768.1 L222.0 768.1 L222.5 768.2 L223.0 768.2 L223.5 768.2 L224.0 768.1 L224.5 768.1 L225.0 768.0 L225.5 767.9 L226.0 767.9 L226.5 767.8 L227.0 767.8 L227.5 767.8 L228.0 767.8 L228.5 767.8 L229.0 767.8 L229.5 767.9 L230.0 767.9 L230.5 768.1 L231.0 768.2 L231.5 768.4 L232.0 768.7 L232.5 769.0 L233.0 769.4 L233.5 769.8 L234.0 770.3 L234.5 770.8 L235.0 771.2 L235.5 771.7 L236.0 772.0 L236.5 772.3 L237.0 772.5 L237.5 772.6 L238.0 772.6 L238.5 772.4 L239.0 772.2 L239.5 771.8 L240.0 771.4 L240.5 770.9 L241.0 770.4 L241.5 770.0 L242.0 769.5 L242.5 769.1 L243.0 768.8 L243.5 768.5 L244.0 768.3 L244.5 768.1 L245.0 767.9 L245.5 767.8 L246.0 767.7 L246.5 767.7 L247.0 767.6 L247.5 767.6 L248.0 767.6 L248.5 767.6 L249.0 767.6 L249.5 767.6 L250.0 767.6 L250.5 767.6 L251.0 767.6 L251.5 767.6 L252.0 767.6 L252.5 767.6 L253.0 767.6 L253.5 767.6 L254.0 767.6 L254.5 767.6 L255.0 767.6 L255.5 767.6 L256.0 767.6 L256.5 767.5 L257.0 767.5 L257.5 767.5 L258.0 767.5 L258.5 767.5 L259.0 767.5 L259.5 767.5 L260.0 767.5 L260.5 767.5 L261.0 767.5 L261.5 767.5 L262.0 767.5 L262.5 767.5 L263.0 767.5 L263.5 767.5 L264.0 767.5 L264.5 767.5 L265.0 767.5 L265.5 767.5 L266.0 767.5 L266.5 767.5 L267.0 767.5 L267.5 767.5 L268.0 767.5 L268.5 767.5 L269.0 767.5 L269.5 767.5 L270.0 767.5 L270.5 767.5 L271.0 767.5 L271.5 767.5 L272.0 767.5 L272.5 767.5 L273.0 767.5 L273.5 767.5 L274.0 767.5 L274.5 767.5 L275.0 767.5 L275.5 767.5 L276.0 767.5 L276.5 767.5 L277.0 767.5 L277.5 767.5 L278.0 767.5 L278.5 767.5 L279.0 767.5 L279.5 767.5 L280.0 767.5 L280.5 767.5 L281.0 767.5 L281.5 767.5 L282.0 767.5 L282.5 767.5 L283.0 767.5 L283.5 767.5 L284.0 767.5 L284.5 767.5 L285.0 767.5 L285.5 767.4 L286.0 767.4 L286.5 767.4 L287.0 767.4 L287.5 767.4 L288.0 767.4 L288.5 767.4 L289.0 767.4 L289.5 767.4 L290.0 767.4 L290.5 767.4 L291.0 767.4 L291.5 767.4 L292.0 767.4 L292.5 767.4 L293.0 767.4 L293.5 767.4 L294.0 767.4 L294.5 767.4 L295.0 767.4 L295.5 767.4 L296.0 767.4 L296.5 767.4 L297.0 767.4 L297.5 767.4 L298.0 767.4 L298.5 767.4 L299.0 767.4 L299.5 767.4 L300.0 767.4 L300.5 767.4 L301.0 767.4 L301.5 767.4 L302.0 767.4 L302.5 767.4 L303.0 767.4 L303.5 767.4 L304.0 767.4 L304.5 767.4 L305.0 767.4 L305.5 767.4 L306.0 767.4 L306.5 767.4 L307.0 767.4 L307.5 767.4 L308.0 767.4 L308.5 767.4 L309.0 767.4 L309.5 767.4 L310.0 767.4 L310.5 767.4 L311.0 767.4 L311.5 767.4 L312.0 767.4 L312.5 767.4 L313.0 767.4 L313.5 767.4 L314.0 767.4 L314.5 767.5 L315.0 767.6 L315.5 767.7 L316.0 767.8 L316.5 768.0 L317.0 768.2 L317.5 768.4 L318.0 768.7 L318.5 769.0 L319.0 769.3 L319.5 769.6 L320.0 769.9 L320.5 770.2 L321.0 770.5 L321.5 770.7 L322.0 770.8 L322.5 770.8 L323.0 770.7 L323.5 770.6 L324.0 770.4 L324.5 770.1 L325.0 769.8 L325.5 769.5 L326.0 769.1 L326.5 768.8 L327.0 768.5 L327.5 768.3 L328.0 768.0 L328.5 767.8 L329.0 767.7 L329.5 767.6 L330.0 767.5 L330.5 767.4 L331.0 767.3 L331.5 767.3 L332.0 767.3 L332.5 767.3 L333.0 767.3 L333.5 767.3 L334.0 767.2 L334.5 767.2 L335.0 767.2 L335.5 767.2 L336.0 767.2 L336.5 767.2 L337.0 767.2 L337.5 767.3 L338.0 767.3 L338.5 767.3 L339.0 767.4 L339.5 767.6 L340.0 767.9 L340.5 768.3 L341.0 768.9 L341.5 769.8 L342.0 771.0 L342.5 772.5 L343.0 774.2 L343.5 776.0 L344.0 777.9 L344.5 779.7 L345.0 781.1 L345.5 782.1 L346.0 782.4 L346.5 782.1 L347.0 781.1 L347.5 779.7 L348.0 777.9 L348.5 776.0 L349.0 774.1 L349.5 772.4 L350.0 771.0 L350.5 769.8 L351.0 768.9 L351.5 768.3 L352.0 767.8 L352.5 767.5 L353.0 767.4 L353.5 767.3 L354.0 767.2 L354.5 767.2 L355.0 767.2 L355.5 767.1 L356.0 767.1 L356.5 767.1 L357.0 767.1 L357.5 767.1 L358.0 767.1 L358.5 767.1 L359.0 767.1 L359.5 767.1 L360.0 767.1 L360.5 767.1 L361.0 767.1 L361.5 767.1 L362.0 767.1 L362.5 767.1 L363.0 767.1 L363.5 767.1 L364.0 767.1 L364.5 767.1 L365.0 767.1 L365.5 767.1 L366.0 767.1 L366.5 767.1 L367.0 767.1 L367.5 767.1 L368.0 767.1 L368.5 767.1 L369.0 767.1 L369.5 767.1 L370.0 767.1 L370.5 767.1 L371.0 767.1 L371.5 767.2 L372.0 767.2 L372.5 767.3 L373.0 767.3 L373.5 767.4 L374.0 767.6 L374.5 767.7 L375.0 767.9 L375.5 768.2 L376.0 768.4 L376.5 768.7 L377.0 769.0 L377.5 769.2 L378.0 769.5 L378.5 769.7 L379.0 769.9 L379.5 770.0 L380.0 770.0 L380.5 770.0 L381.0 769.9 L381.5 769.7 L382.0 769.5 L382.5 769.2 L383.0 769.0 L383.5 768.7 L384.0 768.4 L384.5 768.2 L385.0 768.0 L385.5 767.9 L386.0 767.8 L386.5 767.9 L387.0 768.1 L387.5 768.4 L388.0 768.8 L388.5 769.4 L389.0 770.1 L389.5 771.0 L390.0 771.8 L390.5 772.7 L391.0 773.4 L391.5 774.0 L392.0 774.4 L392.5 774.5 L393.0 774.3 L393.5 773.8 L394.0 773.1 L394.5 772.3 L395.0 771.4 L395.5 770.6 L396.0 769.7 L396.5 769.0 L397.0 768.4 L397.5 768.0 L398.0 767.6 L398.5 767.4 L399.0 767.2 L399.5 767.1 L400.0 767.0 L400.5 767.0 L401.0 767.0 L401.5 766.9 L402.0 766.9 L402.5 766.9 L403.0 766.9 L403.5 766.9 L404.0 766.9 L404.5 766.9 L405.0 766.9 L405.5 766.9 L406.0 766.9 L406.5 766.9 L407.0 766.9 L407.5 766.9 L408.0 766.9 L408.5 766.9 L409.0 766.9 L409.5 766.9 L410.0 766.9 L410.5 766.9 L411.0 766.9 L411.5 766.9 L412.0 766.9 L412.5 766.9 L413.0 766.9 L413.5 766.9 L414.0 766.9 L414.5 766.9 L415.0 766.9 L415.5 766.9 L416.0 766.9 L416.5 766.9 L417.0 766.9 L417.5 766.9 L418.0 766.8 L418.5 766.8 L419.0 766.8 L419.5 766.8 L420.0 766.8 L420.5 766.8 L421.0 766.8 L421.5 766.8 L422.0 766.8 L422.5 766.8 L423.0 766.8 L423.5 766.8 L424.0 766.8 L424.5 766.8 L425.0 766.8 L425.5 766.8 L426.0 766.8 L426.5 766.8 L427.0 766.8 L427.5 766.8 L428.0 766.8 L428.5 766.8 L429.0 766.8 L429.5 766.8 L430.0 766.8 L430.5 766.8 L431.0 766.8 L431.5 766.8 L432.0 766.8 L432.5 766.8 L433.0 766.8 L433.5 766.8 L434.0 766.8 L434.5 766.8 L435.0 766.9 L435.5 766.9 L436.0 766.9 L436.5 767.0 L437.0 767.1 L437.5 767.2 L438.0 767.3 L438.5 767.5 L439.0 767.7 L439.5 767.8 L440.0 768.0 L440.5 768.2 L441.0 768.4 L441.5 768.5 L442.0 768.6 L442.5 768.7 L443.0 768.7 L443.5 768.7 L444.0 768.6 L444.5 768.5 L445.0 768.4 L445.5 768.2 L446.0 768.0 L446.5 767.8 L447.0 767.6 L447.5 767.5 L448.0 767.3 L448.5 767.2 L449.0 767.0 L449.5 767.0 L450.0 766.9 L450.5 766.8 L451.0 766.8 L451.5 766.8 L452.0 766.7 L452.5 766.7 L453.0 766.7 L453.5 766.7 L454.0 766.7 L454.5 766.7 L455.0 766.7 L455.5 766.7 L456.0 766.7 L456.5 766.7 L457.0 766.7 L457.5 766.7 L458.0 766.7 L458.5 766.7 L459.0 766.7 L459.5 766.7 L460.0 766.7 L460.5 766.7 L461.0 766.6 L461.5 766.6 L462.0 766.6 L462.5 766.6 L463.0 766.6 L463.5 766.6 L464.0 766.6 L464.5 766.6 L465.0 766.6 L465.5 766.6 L466.0 766.6 L466.5 766.6 L467.0 766.6 L467.5 766.6 L468.0 766.6 L468.5 766.6 L469.0 766.6 L469.5 766.6 L470.0 766.6 L470.5 766.6 L471.0 766.6 L471.5 766.6 L472.0 766.6 L472.5 766.6 L473.0 766.6 L473.5 766.6 L474.0 766.6 L474.5 766.6 L475.0 766.6 L475.5 766.6 L476.0 766.6 L476.5 766.6 L477.0 766.6 L477.5 766.6 L478.0 766.6 L478.5 766.6 L479.0 766.6 L479.5 766.6 L480.0 766.6 L480.5 766.6 L481.0 766.6 L481.5 766.6 L482.0 766.6 L482.5 766.5 L483.0 766.5 L483.5 766.5 L484.0 766.5 L484.5 766.5 L485.0 766.5 L485.5 766.5 L486.0 766.5 L486.5 766.5 L487.0 766.5 L487.5 766.5 L488.0 766.5 L488.5 766.5 L489.0 766.5 L489.5 766.5 L490.0 766.5 L490.5 766.5 L491.0 766.5 L491.5 766.5 L492.0 766.5 L492.5 766.5 L493.0 766.5 L493.5 766.5 L494.0 766.5 L494.5 766.5 L495.0 766.5 L495.5 766.5 L496.0 766.6 L496.5 766.6 L497.0 766.7 L497.5 766.9 L498.0 767.1 L498.5 767.3 L499.0 767.7 L499.5 768.2 L500.0 768.8 L500.5 769.5 L501.0 770.3 L501.5 771.1 L502.0 772.0 L502.5 772.8 L503.0 773.5 L503.5 774.0 L504.0 774.4 L504.5 774.4 L505.0 774.3 L505.5 773.8 L506.0 773.2 L506.5 772.5 L507.0 771.6 L507.5 770.8 L508.0 769.9 L508.5 769.2 L509.0 768.5 L509.5 767.9 L510.0 767.5 L510.5 767.2 L511.0 766.9 L511.5 766.7 L512.0 766.6 L512.5 766.5 L513.0 766.5 L513.5 766.5 L514.0 766.5 L514.5 766.5 L515.0 766.5 L515.5 766.5 L516.0 766.6 L516.5 766.6 L517.0 766.8 L517.5 766.9 L518.0 767.1 L518.5 767.3 L519.0 767.6 L519.5 767.9 L520.0 768.2 L520.5 768.6 L521.0 768.9 L521.5 769.3 L522.0 769.7 L522.5 769.9 L523.0 770.2 L523.5 770.3 L524.0 770.4 L524.5 770.3 L525.0 770.2 L525.5 769.9 L526.0 769.6 L526.5 769.3 L527.0 768.9 L527.5 768.5 L528.0 768.2 L528.5 767.8 L529.0 767.5 L529.5 767.2 L530.0 767.0 L530.5 766.8 L531.0 766.7 L531.5 766.6 L532.0 766.5 L532.5 766.5 L533.0 766.5 L533.5 766.5 L534.0 766.6 L534.5 766.7 L535.0 766.8 L535.5 767.0 L536.0 767.3 L536.5 767.7 L537.0 768.1 L537.5 768.6 L538.0 769.1 L538.5 769.6 L539.0 770.2 L539.5 770.6 L540.0 771.0 L540.5 771.2 L541.0 771.3 L541.5 771.2 L542.0 771.0 L542.5 770.6 L543.0 770.1 L543.5 769.6 L544.0 769.1 L544.5 768.5 L545.0 768.1 L545.5 767.6 L546.0 767.3 L546.5 767.0 L547.0 766.8 L547.5 766.6 L548.0 766.5 L548.5 766.4 L549.0 766.3 L549.5 766.3 L550.0 766.3 L550.5 766.2 L551.0 766.2 L551.5 766.2 L552.0 766.2 L552.5 766.2 L553.0 766.2 L553.5 766.2 L554.0 766.2 L554.5 766.2 L555.0 766.2 L555.5 766.2 L556.0 766.2 L556.5 766.2 L557.0 766.2 L557.5 766.2 L558.0 766.2 L558.5 766.2 L559.0 766.2 L559.5 766.2 L560.0 766.2 L560.5 766.2 L561.0 766.2 L561.5 766.2 L562.0 766.2 L562.5 766.2 L563.0 766.2 L563.5 766.2 L564.0 766.2 L564.5 766.2 L565.0 766.2 L565.5 766.2 L566.0 766.2 L566.5 766.2 L567.0 766.2 L567.5 766.2 L568.0 766.2 L568.5 766.2 L569.0 766.2 L569.5 766.2 L570.0 766.2 L570.5 766.3 L571.0 766.3 L571.5 766.4 L572.0 766.5 L572.5 766.6 L573.0 766.7 L573.5 766.9 L574.0 767.0 L574.5 767.2 L575.0 767.4 L575.5 767.6 L576.0 767.8 L576.5 767.9 L577.0 768.0 L577.5 768.1 L578.0 768.1 L578.5 768.1 L579.0 768.0 L579.5 767.9 L580.0 767.7 L580.5 767.6 L581.0 767.4 L581.5 767.2 L582.0 767.0 L582.5 766.8 L583.0 766.7 L583.5 766.5 L584.0 766.4 L584.5 766.3 L585.0 766.3 L585.5 766.2 L586.0 766.2 L586.5 766.1 L587.0 766.1 L587.5 766.1 L588.0 766.1 L588.5 766.1 L589.0 766.1 L589.5 766.1 L590.0 766.0 L590.5 766.0 L591.0 766.0 L591.5 766.0 L592.0 766.0 L592.5 766.0 L593.0 766.0 L593.5 766.0 L594.0 766.0 L594.5 766.0 L595.0 766.0 L595.5 766.0 L596.0 766.0 L596.5 766.0 L597.0 766.0 L597.5 766.0 L598.0 766.0 L598.5 766.0 L599.0 766.0 L599.5 766.0 L600.0 766.1 L600.5 766.1 L601.0 766.2 L601.5 766.2 L602.0 766.3 L602.5 766.4 L603.0 766.6 L603.5 766.8 L604.0 767.0 L604.5 767.3 L605.0 767.6 L605.5 767.9 L606.0 768.2 L606.5 768.6 L607.0 768.9 L607.5 769.1 L608.0 769.3 L608.5 769.4 L609.0 769.5 L609.5 769.4 L610.0 769.3 L610.5 769.1 L611.0 768.9 L611.5 768.6 L612.0 768.2 L612.5 767.9 L613.0 767.6 L613.5 767.3 L614.0 767.0 L614.5 766.8 L615.0 766.6 L615.5 766.4 L616.0 766.3 L616.5 766.2 L617.0 766.1 L617.5 766.1 L618.0 766.0 L618.5 766.0 L619.0 766.0 L619.5 766.0 L620.0 766.0 L620.5 766.0 L621.0 766.0 L621.5 766.0 L622.0 766.0 L622.5 766.0 L623.0 766.0 L623.5 766.0 L624.0 766.0 L624.5 766.0 L625.0 766.1 L625.5 766.1 L626.0 766.2 L626.5 766.3 L627.0 766.4 L627.5 766.6 L628.0 766.8 L628.5 767.1 L629.0 767.4 L629.5 767.7 L630.0 768.1 L630.5 768.4 L631.0 768.8 L631.5 769.2 L632.0 769.5 L632.5 769.7 L633.0 769.9 L633.5 769.9 L634.0 769.9 L634.5 769.8 L635.0 769.6 L635.5 769.3 L636.0 768.9 L636.5 768.6 L637.0 768.2 L637.5 767.8 L638.0 767.5 L638.5 767.2 L639.0 766.9 L639.5 766.7 L640.0 766.5 L640.5 766.3 L641.0 766.2 L641.5 766.1 L642.0 766.0 L642.5 766.0 L643.0 766.0 L643.5 765.9 L644.0 765.9 L644.5 765.9 L645.0 765.9 L645.5 765.9 L646.0 765.9 L646.5 765.9 L647.0 765.9 L647.5 765.9 L648.0 765.9 L648.5 765.9 L649.0 765.9 L649.5 765.9 L650.0 765.9 L650.5 765.9 L651.0 765.9 L651.5 765.9 L652.0 765.9 L652.5 765.9 L653.0 765.9 L653.5 765.9 L654.0 765.9 L654.5 765.9 L655.0 766.0 L655.5 766.0 L656.0 766.0 L656.5 766.1 L657.0 766.2 L657.5 766.3 L658.0 766.5 L658.5 766.7 L659.0 766.9 L659.5 767.2 L660.0 767.5 L660.5 767.8 L661.0 768.1 L661.5 768.5 L662.0 768.8 L662.5 769.0 L663.0 769.2 L663.5 769.3 L664.0 769.4 L664.5 769.3 L665.0 769.2 L665.5 769.0 L666.0 768.7 L666.5 768.4 L667.0 768.1 L667.5 767.8 L668.0 767.5 L668.5 767.2 L669.0 766.9 L669.5 766.7 L670.0 766.5 L670.5 766.3 L671.0 766.2 L671.5 766.1 L672.0 766.0 L672.5 766.0 L673.0 765.9 L673.5 765.9 L674.0 765.9 L674.5 765.9 L675.0 765.9 L675.5 765.9 L676.0 765.9 L676.5 766.0 L677.0 766.1 L677.5 766.2 L678.0 766.3 L678.5 766.5 L679.0 766.8 L679.5 767.0 L680.0 767.3 L680.5 767.5 L681.0 767.7 L681.5 767.8 L682.0 767.8 L682.5 767.8 L683.0 767.7 L683.5 767.5 L684.0 767.2 L684.5 767.0 L685.0 766.7 L685.5 766.5 L686.0 766.3 L686.5 766.2 L687.0 766.1 L687.5 766.0 L688.0 765.9 L688.5 765.9 L689.0 765.9 L689.5 765.8 L690.0 765.8 L690.5 765.8 L691.0 765.8 L691.5 765.8 L692.0 765.8 L692.5 765.8 L693.0 765.8 L693.5 765.8 L694.0 765.8 L694.5 765.8 L695.0 765.8 L695.5 765.8 L696.0 765.8 L696.5 765.8 L697.0 765.8 L697.5 765.8 L698.0 765.8 L698.5 765.8 L699.0 765.8 L699.5 765.8 L700.0 765.8 L700.5 765.8 L701.0 765.8 L701.5 765.8 L702.0 765.8 L702.5 765.8 L703.0 765.8 L703.5 765.8 L704.0 765.8 L704.5 765.8 L705.0 765.8 L705.5 765.8 L706.0 765.8 L706.5 765.8 L707.0 765.8 L707.5 765.8 L708.0 765.9 L708.5 765.9 L709.0 766.0 L709.5 766.1 L710.0 766.2 L710.5 766.4 L711.0 766.6 L711.5 766.8 L712.0 767.1 L712.5 767.4 L713.0 767.8 L713.5 768.2 L714.0 768.7 L714.5 769.1 L715.0 769.5 L715.5 769.8 L716.0 770.1 L716.5 770.2 L717.0 770.3 L717.5 770.2 L718.0 770.0 L718.5 769.8 L719.0 769.5 L719.5 769.1 L720.0 768.7 L720.5 768.2 L721.0 767.8 L721.5 767.4 L722.0 767.1 L722.5 766.8 L723.0 766.5 L723.5 766.3 L724.0 766.2 L724.5 766.0 L725.0 765.9 L725.5 765.9 L726.0 765.8 L726.5 765.8 L727.0 765.8 L727.5 765.8 L728.0 765.8 L728.5 765.8 L729.0 765.7 L729.5 765.7 L730.0 765.7 L730.5 765.7 L731.0 765.7 L731.5 765.7 L732.0 765.7 L732.5 765.7 L733.0 765.7 L733.5 765.7 L734.0 765.7 L734.5 765.7 L735.0 765.7 L735.5 765.7 L736.0 765.7 L736.5 765.8 L737.0 765.8 L737.5 765.8 L738.0 765.9 L738.5 766.0 L739.0 766.1 L739.5 766.3 L740.0 766.6 L740.5 767.0 L741.0 767.5 L741.5 768.1 L742.0 768.7 L742.5 769.4 L743.0 770.1 L743.5 770.8 L744.0 771.3 L744.5 771.6 L745.0 771.7 L745.5 771.6 L746.0 771.3 L746.5 770.8 L747.0 770.1 L747.5 769.4 L748.0 768.7 L748.5 768.1 L749.0 767.5 L749.5 767.0 L750.0 766.6 L750.5 766.3 L751.0 766.1 L751.5 765.9 L752.0 765.8 L752.5 765.8 L753.0 765.7 L753.5 765.7 L754.0 765.7 L754.5 765.7 L755.0 765.7 L755.5 765.7 L756.0 765.7 L756.5 765.7 L757.0 765.7 L757.5 765.7 L758.0 765.7 L758.5 765.7 L759.0 765.7 L759.5 765.7 L760.0 765.7 L760.5 765.7 L761.0 765.7 L761.5 765.7 L762.0 765.7 L762.5 765.7 L763.0 765.7 L763.5 765.7 L764.0 765.7 L764.5 765.7 L765.0 765.7 L765.5 765.7 L766.0 765.7 L766.5 765.7 L767.0 765.7 L767.5 765.7 L768.0 765.7 L768.5 765.7 L769.0 765.7 L769.5 765.7 L770.0 765.7 L770.5 765.7 L771.0 765.7 L771.5 765.7 L772.0 765.7 L772.5 765.8 L773.0 765.9 L773.5 766.0 L774.0 766.2 L774.5 766.4 L775.0 766.7 L775.5 767.2 L776.0 767.7 L776.5 768.3 L777.0 769.0 L777.5 769.7 L778.0 770.5 L778.5 771.2 L779.0 771.8 L779.5 772.3 L780.0 772.6 L780.5 772.6 L781.0 772.5 L781.5 772.1 L782.0 771.6 L782.5 770.9 L783.0 770.2 L783.5 769.4 L784.0 768.7 L784.5 768.0 L785.0 767.4 L785.5 767.0 L786.0 766.6 L786.5 766.3 L787.0 766.1 L787.5 765.9 L788.0 765.8 L788.5 765.7 L789.0 765.7 L789.5 765.7 L790.0 765.6 L790.5 765.6 L791.0 765.6 L791.5 765.6 L792.0 765.6 L792.5 765.6 L793.0 765.6 L793.5 765.6 L794.0 765.6 L794.5 765.6 L795.0 765.6 L795.5 765.6 L796.0 765.6 L796.5 765.6 L797.0 765.6 L797.5 765.6 L798.0 765.6 L798.5 765.6 L799.0 765.6 L799.5 765.6 L800.0 765.6 L800.5 765.6 L801.0 765.6 L801.5 765.6 L802.0 765.6 L802.5 765.6 L803.0 765.6 L803.5 765.6 L804.0 765.6 L804.5 765.6 L805.0 765.6 L805.5 765.6 L806.0 765.6 L806.5 765.6 L807.0 765.6 L807.5 765.7 L808.0 765.7 L808.5 765.8 L809.0 765.9 L809.5 766.0 L810.0 766.1 L810.5 766.3 L811.0 766.5 L811.5 766.7 L812.0 766.9 L812.5 767.2 L813.0 767.5 L813.5 767.8 L814.0 768.0 L814.5 768.3 L815.0 768.4 L815.5 768.5 L816.0 768.6 L816.5 768.5 L817.0 768.4 L817.5 768.3 L818.0 768.1 L818.5 767.8 L819.0 767.6 L819.5 767.3 L820.0 767.1 L820.5 766.9 L821.0 766.8 L821.5 766.8 L822.0 766.9 L822.5 767.0 L823.0 767.3 L823.5 767.6 L824.0 767.9 L824.5 768.3 L825.0 768.7 L825.5 769.1 L826.0 769.3 L826.5 769.5 L827.0 769.6 L827.5 769.5 L828.0 769.3 L828.5 769.0 L829.0 768.6 L829.5 768.2 L830.0 767.8 L830.5 767.4 L831.0 767.0 L831.5 766.6 L832.0 766.3 L832.5 766.1 L833.0 765.9 L833.5 765.8 L834.0 765.7 L834.5 765.6 L835.0 765.6 L835.5 765.6 L836.0 765.6 L836.5 765.5 L837.0 765.5 L837.5 765.5 L838.0 765.5 L838.5 765.5 L839.0 765.5 L839.5 765.5 L840.0 765.5 L840.5 765.5 L841.0 765.5 L841.5 765.5 L842.0 765.5 L842.5 765.5 L843.0 765.5 L843.5 765.5 L844.0 765.5 L844.5 765.5 L845.0 765.5 L845.5 765.5 L846.0 765.5 L846.5 765.5 L847.0 765.5 L847.5 765.5 L848.0 765.5 L848.5 765.5 L849.0 765.5 L849.5 765.5 L850.0 765.5 L850.5 765.5 L851.0 765.5 L851.5 765.5 L852.0 765.5 L852.5 765.5 L853.0 765.5 L853.5 765.5 L854.0 765.5 L854.5 765.5 L855.0 765.5 L855.5 765.5 L856.0 765.5 L856.5 765.5 L857.0 765.5 L857.5 765.5 L858.0 765.5 L858.5 765.5 L859.0 765.5 L859.5 765.5 L860.0 765.5 L860.5 765.5 L861.0 765.5 L861.5 765.5 L862.0 765.5 L862.5 765.5 L863.0 765.5 L863.5 765.5 L864.0 765.5 L864.5 765.5 L865.0 765.5 L865.5 765.5 L866.0 765.5 L866.5 765.5 L867.0 765.5 L867.5 765.5 L868.0 765.5 L868.5 765.5 L869.0 765.5 L869.5 765.5 L870.0 765.5 L870.5 765.5 L871.0 765.5 L871.5 765.5 L872.0 765.5 L872.5 765.5 L873.0 765.5 L873.5 765.5 L874.0 765.5 L874.5 765.5 L875.0 765.5 L875.5 765.5 L876.0 765.5 L876.5 765.6 L877.0 765.6 L877.5 765.8 L878.0 766.0 L878.5 766.2 L879.0 766.6 L879.5 767.0 L880.0 767.5 L880.5 768.1 L881.0 768.6 L881.5 769.1 L882.0 769.6 L882.5 769.8 L883.0 769.9 L883.5 769.8 L884.0 769.6 L884.5 769.1 L885.0 768.6 L885.5 768.0 L886.0 767.5 L886.5 767.0 L887.0 766.5 L887.5 766.2 L888.0 765.9 L888.5 765.7 L889.0 765.6 L889.5 765.5 L890.0 765.5 L890.5 765.5 L891.0 765.4 L891.5 765.4 L892.0 765.4 L892.5 765.4 L893.0 765.4 L893.5 765.4 L894.0 765.4 L894.5 765.4 L895.0 765.4 L895.5 765.4 L896.0 765.4 L896.5 765.4 L897.0 765.4 L897.5 765.4 L898.0 765.4 L898.5 765.4 L899.0 765.4 L899.5 765.4 L900.0 765.4" stroke="#f00"/>
</g>
<path d="M126.5 900.5v-3.0M126.5 762.5v3.0M146.5 900.5v-3.0M146.5 762.5v3.0M166.5 900.5v-5.9M166.5 762.5v5.9M187.5 900.5v-3.0M187.5 762.5v3.0M207.5 900.5v-3.0M207.5 762.5v3.0M228.5 900.5v-3.0M228.5 762.5v3.0M248.5 900.5v-3.0M248.5 762.5v3.0M268.5 900.5v-5.9M268.5 762.5v5.9M289.5 900.5v-3.0M289.5 762.5v3.0M309.5 900.5v-3.0M309.5 762.5v3.0M330.5 900.5v-3.0M330.5 762.5v3.0M350.5 900.5v-3.0M350.5 762.5v3.0M370.5 900.5v-5.9M370.5 762.5v5.9M391.5 900.5v-3.0M391.5 762.5v3.0M411.5 900.5v-3.0M411.5 762.5v3.0M432.5 900.5v-3.0M432.5 762.5v3.0M452.5 900.5v-3.0M452.5 762.5v3.0M473.5 900.5v-5.9M473.5 762.5v5.9M493.5 900.5v-3.0M493.5 762.5v3.0M513.5 900.5v-3.0M513.5 762.5v3.0M534.5 900.5v-3.0M534.5 762.5v3.0M554.5 900.5v-3.0M554.5 762.5v3.0M575.5 900.5v-5.9M575.5 762.5v5.9M595.5 900.5v-3.0M595.5 762.5v3.0M615.5 900.5v-3.0M615.5 762.5v3.0M636.5 900.5v-3.0M636.5 762.5v3.0M656.5 900.5v-3.0M656.5 762.5v3.0M677.5 900.5v-5.9M677.5 762.5v5.9M697.5 900.5v-3.0M697.5 762.5v3.0M717.5 900.5v-3.0M717.5 762.5v3.0M738.5 900.5v-3.0M738.5 762.5v3.0M758.5 900.5v-3.0M758.5 762.5v3.0M779.5 900.5v-5.9M779.5 762.5v5.9M799.5 900.5v-3.0M799.5 762.5v3.0M819.5 900.5v-3.0M819.5 762.5v3.0M840.5 900.5v-3.0M840.5 762.5v3.0M860.5 900.5v-3.0M860.5 762.5v3.0M881.5 900.5v-5.9M881.5 762.5v5.9M125.5 900.5h5.9M900.5 900.5h-5.9M125.5 894.5h3.0M900.5 894.5h-3.0M125.5 889.5h3.0M900.5 889.5h-3.0M125.5 883.5h3.0M900.5 883.5h-3.0M125.5 877.5h3.0M900.5 877.5h-3.0M125.5 871.5h5.9M900.5 871.5h-5.9M125.5 866.5h3.0M900.5 866.5h-3.0M125.5 860.5h3.0M900.5 860.5h-3.0M125.5 854.5h3.0M900.5 854.5h-3.0M125.5 849.5h3.0M900.5 849.5h-3.0M125.5 843.5h5.9M900.5 843.5h-5.9M125.5 837.5h3.0M900.5 837.5h-3.0M125.5 832.5h3.0M900.5 832.5h-3.0M125.5 826.5h3.0M900.5 826.5h-3.0M125.5 820.5h3.0M900.5 820.5h-3.0M125.5 814.5h5.9M900.5 814.5h-5.9M125.5 809.5h3.0M900.5 809.5h-3.0M125.5 803.5h3.0M900.5 803.5h-3.0M125.5 797.5h3.0M900.5 797.5h-3.0M125.5 792.5h3.0M900.5 792.5h-3.0M125.5 786.5h5.9M900.5 786.5h-5.9M125.5 780.5h3.0M900.5 780.5h-3.0M125.5 774.5h3.0M900.5 774.5h-3.0M125.5 769.5h3.0M900.5 769.5h-3.0" stroke="#000" stroke-width="0.85" fill="none"/>
<rect x="125.5" y="762.5" width="775.0" height="138.0" fill="none" stroke="#000" stroke-width="1.45"/>
<g font-family="Liberation Sans, sans-serif" font-size="16.67" fill="#000">
<text x="166.0" y="917.0" text-anchor="middle">6750</text>
<text x="268.1" y="917.0" text-anchor="middle">6760</text>
<text x="370.1" y="917.0" text-anchor="middle">6770</text>
<text x="472.1" y="917.0" text-anchor="middle">6780</text>
<text x="574.1" y="917.0" text-anchor="middle">6790</text>
<text x="676.2" y="917.0" text-anchor="middle">6800</text>
<text x="778.2" y="917.0" text-anchor="middle">6810</text>
<text x="880.2" y="917.0" text-anchor="middle">6820</text>
<text x="119.4" y="904.9" text-anchor="end">0</text>
<text x="119.4" y="875.9" text-anchor="end">1000</text>
<text x="119.4" y="847.9" text-anchor="end">2000</text>
<text x="119.4" y="818.9" text-anchor="end">3000</text>
<text x="119.4" y="790.9" text-anchor="end">4000</text>
</g>
</svg>
</body></html>
